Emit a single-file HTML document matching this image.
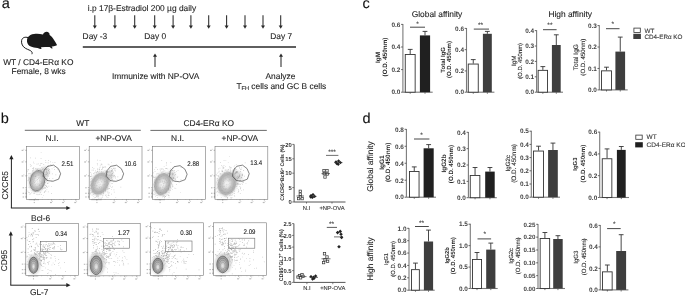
<!DOCTYPE html>
<html><head><meta charset="utf-8"><style>
html,body{margin:0;padding:0;background:#fff;}
body{width:685px;height:296px;overflow:hidden;}
svg{display:block;font-family:"Liberation Sans", sans-serif;filter:grayscale(1);text-rendering:geometricPrecision;}
</style></head><body>
<svg width="685" height="296" viewBox="0 0 685 296">
<rect x="0" y="0" width="685" height="296" fill="#fff"/>
<text x="1.80" y="8.20" font-size="14.5" text-anchor="start" font-weight="normal" fill="#111" stroke="#111" stroke-width="0.1" >a</text>
<path d="M27.5,37.8 C29,35.2 31.5,34.2 34,34 C37,33.6 40,33.8 43,34.6 C43.6,32.6 45,31.8 46.6,31.8 C48.4,31.9 49.8,33 49.6,35 C51.5,36.2 53,38 54.2,40.2 C55.3,42 56.4,43.6 57,45 C56.4,45.8 55,46.1 53.8,46.2 C52.8,46.3 52.1,46.4 51.6,46.6 L52.8,48.2 L51.6,48.4 L49.6,46.9 C48,47 46.5,47.1 45,47.1 L41,47.3 L41.6,48.8 L40.2,49 L37.6,48 C35,47.9 32.6,47.4 30.8,46.6 C28.6,45.6 27.2,43.8 27,41.5 C26.9,40.2 27.1,38.9 27.5,37.8 Z" fill="#1a1a1a"/>
<path d="M28.2,37.6 C25,36.6 22,37.6 21.6,40.6 C21.2,43.6 22.4,46.6 25.6,48.4 C28,49.7 30.6,50.3 31.6,51.6 C32.3,52.4 32.2,53.4 31.9,54.2" fill="none" stroke="#1a1a1a" stroke-width="1.0"/>
<text x="38.30" y="64.60" font-size="8.4" text-anchor="middle" font-weight="normal" fill="#222" stroke="#222" stroke-width="0.1" >WT / CD4-ERα KO</text>
<text x="38.60" y="73.70" font-size="8.4" text-anchor="middle" font-weight="normal" fill="#222" stroke="#222" stroke-width="0.1" >Female, 8 wks</text>
<text x="87.80" y="11.40" font-size="8.4" text-anchor="start" font-weight="normal" fill="#222" stroke="#222" stroke-width="0.1" >i.p 17β-Estradiol 200 µg daily</text>
<line x1="94.80" y1="15.30" x2="94.80" y2="26.30" stroke="#2a2a2a" stroke-width="1.05"/>
<path d="M92.80,25.60 L96.80,25.60 L94.80,28.80 Z" fill="#2a2a2a"/>
<line x1="114.90" y1="15.30" x2="114.90" y2="26.30" stroke="#2a2a2a" stroke-width="1.05"/>
<path d="M112.90,25.60 L116.90,25.60 L114.90,28.80 Z" fill="#2a2a2a"/>
<line x1="134.70" y1="15.30" x2="134.70" y2="26.30" stroke="#2a2a2a" stroke-width="1.05"/>
<path d="M132.70,25.60 L136.70,25.60 L134.70,28.80 Z" fill="#2a2a2a"/>
<line x1="154.70" y1="15.30" x2="154.70" y2="26.30" stroke="#2a2a2a" stroke-width="1.05"/>
<path d="M152.70,25.60 L156.70,25.60 L154.70,28.80 Z" fill="#2a2a2a"/>
<line x1="173.10" y1="15.30" x2="173.10" y2="26.30" stroke="#2a2a2a" stroke-width="1.05"/>
<path d="M171.10,25.60 L175.10,25.60 L173.10,28.80 Z" fill="#2a2a2a"/>
<line x1="190.90" y1="15.30" x2="190.90" y2="26.30" stroke="#2a2a2a" stroke-width="1.05"/>
<path d="M188.90,25.60 L192.90,25.60 L190.90,28.80 Z" fill="#2a2a2a"/>
<line x1="208.70" y1="15.30" x2="208.70" y2="26.30" stroke="#2a2a2a" stroke-width="1.05"/>
<path d="M206.70,25.60 L210.70,25.60 L208.70,28.80 Z" fill="#2a2a2a"/>
<line x1="226.60" y1="15.30" x2="226.60" y2="26.30" stroke="#2a2a2a" stroke-width="1.05"/>
<path d="M224.60,25.60 L228.60,25.60 L226.60,28.80 Z" fill="#2a2a2a"/>
<line x1="245.00" y1="15.30" x2="245.00" y2="26.30" stroke="#2a2a2a" stroke-width="1.05"/>
<path d="M243.00,25.60 L247.00,25.60 L245.00,28.80 Z" fill="#2a2a2a"/>
<line x1="263.00" y1="15.30" x2="263.00" y2="26.30" stroke="#2a2a2a" stroke-width="1.05"/>
<path d="M261.00,25.60 L265.00,25.60 L263.00,28.80 Z" fill="#2a2a2a"/>
<line x1="280.70" y1="15.30" x2="280.70" y2="26.30" stroke="#2a2a2a" stroke-width="1.05"/>
<path d="M278.70,25.60 L282.70,25.60 L280.70,28.80 Z" fill="#2a2a2a"/>
<text x="82.60" y="38.90" font-size="8.4" text-anchor="start" font-weight="normal" fill="#222" stroke="#222" stroke-width="0.1" >Day -3</text>
<text x="144.20" y="38.90" font-size="8.4" text-anchor="start" font-weight="normal" fill="#222" stroke="#222" stroke-width="0.1" >Day 0</text>
<text x="270.20" y="38.90" font-size="8.4" text-anchor="start" font-weight="normal" fill="#222" stroke="#222" stroke-width="0.1" >Day 7</text>
<line x1="82.80" y1="47.00" x2="296.00" y2="47.00" stroke="#2a2a2a" stroke-width="1.6"/>
<line x1="155.00" y1="56.10" x2="155.00" y2="67.00" stroke="#2a2a2a" stroke-width="1.05"/>
<path d="M153.00,56.80 L157.00,56.80 L155.00,53.60 Z" fill="#2a2a2a"/>
<line x1="281.00" y1="56.10" x2="281.00" y2="67.00" stroke="#2a2a2a" stroke-width="1.05"/>
<path d="M279.00,56.80 L283.00,56.80 L281.00,53.60 Z" fill="#2a2a2a"/>
<text x="155.60" y="78.90" font-size="8.4" text-anchor="middle" font-weight="normal" fill="#222" stroke="#222" stroke-width="0.1" >Immunize with NP-OVA</text>
<text x="280.40" y="78.80" font-size="8.4" text-anchor="middle" font-weight="normal" fill="#222" stroke="#222" stroke-width="0.1" >Analyze</text>
<text x="236.4" y="88.6" font-size="8.4" fill="#222" stroke="#222" stroke-width="0.1">T<tspan font-size="5.6" dy="1.6">FH</tspan><tspan dy="-1.6"> cells and GC B cells</tspan></text>
<text x="0.80" y="123.00" font-size="14.5" text-anchor="start" font-weight="normal" fill="#111" stroke="#111" stroke-width="0.1" >b</text>
<text x="82.80" y="125.80" font-size="8.4" text-anchor="middle" font-weight="normal" fill="#222" stroke="#222" stroke-width="0.1" >WT</text>
<line x1="24.80" y1="130.30" x2="140.80" y2="130.30" stroke="#444" stroke-width="0.8"/>
<text x="208.80" y="126.00" font-size="8.4" text-anchor="middle" font-weight="normal" fill="#222" stroke="#222" stroke-width="0.1" >CD4-ERα KO</text>
<line x1="150.40" y1="130.40" x2="266.80" y2="130.40" stroke="#444" stroke-width="0.8"/>
<text x="52.00" y="141.00" font-size="8.4" text-anchor="middle" font-weight="normal" fill="#222" stroke="#222" stroke-width="0.1" >N.I.</text>
<text x="113.60" y="141.00" font-size="8.4" text-anchor="middle" font-weight="normal" fill="#222" stroke="#222" stroke-width="0.1" >+NP-OVA</text>
<text x="177.60" y="141.00" font-size="8.4" text-anchor="middle" font-weight="normal" fill="#222" stroke="#222" stroke-width="0.1" >N.I.</text>
<text x="239.80" y="141.00" font-size="8.4" text-anchor="middle" font-weight="normal" fill="#222" stroke="#222" stroke-width="0.1" >+NP-OVA</text>
<defs><filter id="b04" x="-50%" y="-50%" width="200%" height="200%"><feGaussianBlur stdDeviation="0.4"/></filter><filter id="b10" x="-50%" y="-50%" width="200%" height="200%"><feGaussianBlur stdDeviation="1.0"/></filter><filter id="b15" x="-50%" y="-50%" width="200%" height="200%"><feGaussianBlur stdDeviation="1.5"/></filter></defs>
<rect x="26.60" y="146.60" width="52.70" height="52.70" fill="none" stroke="#777" stroke-width="0.6"/>
<rect x="21.60" y="149.79" width="1.80" height="1.20" fill="#bbb" stroke="none" stroke-width="1"/>
<rect x="23.40" y="148.79" width="0.90" height="0.90" fill="#ccc" stroke="none" stroke-width="1"/>
<line x1="25.30" y1="150.29" x2="26.60" y2="150.29" stroke="#666" stroke-width="0.5"/>
<rect x="21.60" y="161.38" width="1.80" height="1.20" fill="#bbb" stroke="none" stroke-width="1"/>
<rect x="23.40" y="160.38" width="0.90" height="0.90" fill="#ccc" stroke="none" stroke-width="1"/>
<line x1="25.30" y1="161.88" x2="26.60" y2="161.88" stroke="#666" stroke-width="0.5"/>
<rect x="21.60" y="175.35" width="1.80" height="1.20" fill="#bbb" stroke="none" stroke-width="1"/>
<rect x="23.40" y="174.35" width="0.90" height="0.90" fill="#ccc" stroke="none" stroke-width="1"/>
<line x1="25.30" y1="175.85" x2="26.60" y2="175.85" stroke="#666" stroke-width="0.5"/>
<rect x="22.60" y="187.21" width="1.50" height="1.10" fill="#bbb" stroke="none" stroke-width="1"/>
<line x1="25.30" y1="187.71" x2="26.60" y2="187.71" stroke="#666" stroke-width="0.5"/>
<rect x="22.60" y="192.74" width="1.50" height="1.10" fill="#bbb" stroke="none" stroke-width="1"/>
<line x1="25.30" y1="193.24" x2="26.60" y2="193.24" stroke="#666" stroke-width="0.5"/>
<rect x="22.60" y="196.43" width="1.50" height="1.10" fill="#bbb" stroke="none" stroke-width="1"/>
<line x1="25.30" y1="196.93" x2="26.60" y2="196.93" stroke="#666" stroke-width="0.5"/>
<rect x="33.74" y="201.90" width="1.10" height="1.20" fill="#bbb" stroke="none" stroke-width="1"/>
<line x1="34.24" y1="199.30" x2="34.24" y2="200.60" stroke="#666" stroke-width="0.5"/>
<rect x="50.03" y="201.90" width="1.90" height="1.20" fill="#bbb" stroke="none" stroke-width="1"/>
<rect x="51.93" y="201.10" width="0.90" height="0.80" fill="#ccc" stroke="none" stroke-width="1"/>
<line x1="51.63" y1="199.30" x2="51.63" y2="200.60" stroke="#666" stroke-width="0.5"/>
<rect x="62.15" y="201.90" width="1.90" height="1.20" fill="#bbb" stroke="none" stroke-width="1"/>
<rect x="64.05" y="201.10" width="0.90" height="0.80" fill="#ccc" stroke="none" stroke-width="1"/>
<line x1="63.75" y1="199.30" x2="63.75" y2="200.60" stroke="#666" stroke-width="0.5"/>
<rect x="74.27" y="201.90" width="1.90" height="1.20" fill="#bbb" stroke="none" stroke-width="1"/>
<rect x="76.17" y="201.10" width="0.90" height="0.80" fill="#ccc" stroke="none" stroke-width="1"/>
<line x1="75.87" y1="199.30" x2="75.87" y2="200.60" stroke="#666" stroke-width="0.5"/>
<line x1="29.23" y1="199.30" x2="29.23" y2="200.20" stroke="#555" stroke-width="0.45"/>
<line x1="30.39" y1="199.30" x2="30.39" y2="200.20" stroke="#555" stroke-width="0.45"/>
<line x1="31.55" y1="199.30" x2="31.55" y2="200.20" stroke="#555" stroke-width="0.45"/>
<line x1="32.71" y1="199.30" x2="32.71" y2="200.20" stroke="#555" stroke-width="0.45"/>
<line x1="33.87" y1="199.30" x2="33.87" y2="200.20" stroke="#555" stroke-width="0.45"/>
<line x1="35.03" y1="199.30" x2="35.03" y2="200.20" stroke="#555" stroke-width="0.45"/>
<line x1="36.19" y1="199.30" x2="36.19" y2="200.20" stroke="#555" stroke-width="0.45"/>
<line x1="37.35" y1="199.30" x2="37.35" y2="200.20" stroke="#555" stroke-width="0.45"/>
<line x1="38.51" y1="199.30" x2="38.51" y2="200.20" stroke="#555" stroke-width="0.45"/>
<line x1="42.41" y1="199.30" x2="42.41" y2="200.00" stroke="#888" stroke-width="0.35"/>
<line x1="48.21" y1="199.30" x2="48.21" y2="200.00" stroke="#888" stroke-width="0.35"/>
<line x1="54.00" y1="199.30" x2="54.00" y2="200.00" stroke="#888" stroke-width="0.35"/>
<line x1="59.80" y1="199.30" x2="59.80" y2="200.00" stroke="#888" stroke-width="0.35"/>
<line x1="65.60" y1="199.30" x2="65.60" y2="200.00" stroke="#888" stroke-width="0.35"/>
<line x1="71.39" y1="199.30" x2="71.39" y2="200.00" stroke="#888" stroke-width="0.35"/>
<line x1="25.70" y1="197.72" x2="26.60" y2="197.72" stroke="#666" stroke-width="0.4"/>
<line x1="25.70" y1="196.56" x2="26.60" y2="196.56" stroke="#666" stroke-width="0.4"/>
<line x1="25.70" y1="195.40" x2="26.60" y2="195.40" stroke="#666" stroke-width="0.4"/>
<line x1="25.70" y1="194.24" x2="26.60" y2="194.24" stroke="#666" stroke-width="0.4"/>
<line x1="25.70" y1="193.08" x2="26.60" y2="193.08" stroke="#666" stroke-width="0.4"/>
<line x1="25.70" y1="191.92" x2="26.60" y2="191.92" stroke="#666" stroke-width="0.4"/>
<line x1="25.70" y1="190.76" x2="26.60" y2="190.76" stroke="#666" stroke-width="0.4"/>
<line x1="25.70" y1="189.60" x2="26.60" y2="189.60" stroke="#666" stroke-width="0.4"/>
<g fill="#7a7a7a" fill-opacity="0.45"><path d="M34.6 184.3h0.7v0.7h-0.7zM36.2 177.6h0.7v0.7h-0.7zM31.9 177.5h0.7v0.7h-0.7zM43.0 185.3h0.7v0.7h-0.7zM42.8 183.8h0.7v0.7h-0.7z"/><path d="M39.1 182.5h0.7v0.7h-0.7zM39.2 185.2h0.7v0.7h-0.7zM29.9 164.1h0.7v0.7h-0.7zM32.5 175.5h0.7v0.7h-0.7zM39.0 180.5h0.7v0.7h-0.7z"/><path d="M41.3 175.9h0.7v0.7h-0.7zM38.2 184.1h0.7v0.7h-0.7zM30.1 193.6h0.7v0.7h-0.7zM38.3 190.9h0.7v0.7h-0.7zM34.6 173.6h0.7v0.7h-0.7z"/><path d="M35.2 179.1h0.7v0.7h-0.7zM40.4 183.3h0.7v0.7h-0.7zM36.0 172.1h0.7v0.7h-0.7zM31.8 189.7h0.7v0.7h-0.7zM31.8 181.4h0.7v0.7h-0.7z"/><path d="M42.2 168.9h0.7v0.7h-0.7zM35.1 191.1h0.7v0.7h-0.7zM37.8 173.7h0.7v0.7h-0.7zM40.1 180.6h0.7v0.7h-0.7zM39.4 189.0h0.7v0.7h-0.7z"/><path d="M45.0 185.2h0.7v0.7h-0.7zM40.0 170.0h0.7v0.7h-0.7zM41.8 176.3h0.7v0.7h-0.7zM36.5 169.6h0.7v0.7h-0.7zM32.2 174.9h0.7v0.7h-0.7z"/><path d="M48.3 165.6h0.7v0.7h-0.7zM27.9 180.5h0.7v0.7h-0.7zM44.7 187.0h0.7v0.7h-0.7zM30.0 157.5h0.7v0.7h-0.7zM40.5 174.9h0.7v0.7h-0.7z"/><path d="M28.7 187.0h0.7v0.7h-0.7zM43.4 183.1h0.7v0.7h-0.7zM37.8 184.3h0.7v0.7h-0.7zM45.5 187.5h0.7v0.7h-0.7zM39.2 185.6h0.7v0.7h-0.7z"/><path d="M41.9 186.0h0.7v0.7h-0.7zM45.2 166.8h0.7v0.7h-0.7zM34.2 188.5h0.7v0.7h-0.7zM40.6 179.9h0.7v0.7h-0.7zM37.9 186.2h0.7v0.7h-0.7z"/><path d="M35.8 189.9h0.7v0.7h-0.7zM33.8 176.2h0.7v0.7h-0.7zM43.2 182.0h0.7v0.7h-0.7zM30.1 187.0h0.7v0.7h-0.7zM46.6 178.7h0.7v0.7h-0.7z"/><path d="M29.0 177.6h0.7v0.7h-0.7zM36.7 177.8h0.7v0.7h-0.7zM47.2 173.9h0.7v0.7h-0.7zM46.8 171.7h0.7v0.7h-0.7zM31.2 184.6h0.7v0.7h-0.7z"/><path d="M42.3 188.9h0.7v0.7h-0.7zM38.9 182.0h0.7v0.7h-0.7zM37.0 185.3h0.7v0.7h-0.7zM35.5 182.5h0.7v0.7h-0.7zM40.5 181.2h0.7v0.7h-0.7z"/><path d="M40.6 186.0h0.7v0.7h-0.7zM48.5 185.7h0.7v0.7h-0.7zM35.1 176.9h0.7v0.7h-0.7zM35.4 188.0h0.7v0.7h-0.7zM34.4 183.2h0.7v0.7h-0.7z"/><path d="M52.5 161.9h0.7v0.7h-0.7zM29.9 181.0h0.7v0.7h-0.7zM39.0 182.9h0.7v0.7h-0.7zM33.3 185.2h0.7v0.7h-0.7zM39.6 176.6h0.7v0.7h-0.7z"/><path d="M51.0 186.4h0.7v0.7h-0.7zM33.9 178.9h0.7v0.7h-0.7zM35.8 179.7h0.7v0.7h-0.7zM45.1 172.2h0.7v0.7h-0.7zM35.0 188.1h0.7v0.7h-0.7z"/><path d="M39.6 193.7h0.7v0.7h-0.7zM27.5 175.4h0.7v0.7h-0.7zM33.9 185.1h0.7v0.7h-0.7zM48.2 160.0h0.7v0.7h-0.7zM46.1 170.1h0.7v0.7h-0.7z"/><path d="M43.7 169.2h0.7v0.7h-0.7zM36.0 190.4h0.7v0.7h-0.7zM35.8 181.8h0.7v0.7h-0.7zM41.6 182.6h0.7v0.7h-0.7zM33.9 192.8h0.7v0.7h-0.7z"/><path d="M43.8 179.4h0.7v0.7h-0.7zM55.5 174.6h0.7v0.7h-0.7zM43.0 179.5h0.7v0.7h-0.7zM36.6 186.4h0.7v0.7h-0.7zM37.3 185.9h0.7v0.7h-0.7z"/><path d="M30.5 166.2h0.7v0.7h-0.7zM42.4 173.4h0.7v0.7h-0.7zM33.4 167.2h0.7v0.7h-0.7zM43.3 188.1h0.7v0.7h-0.7zM47.5 174.7h0.7v0.7h-0.7z"/><path d="M39.0 171.2h0.7v0.7h-0.7zM38.9 194.4h0.7v0.7h-0.7zM29.0 192.0h0.7v0.7h-0.7zM43.3 180.3h0.7v0.7h-0.7zM37.5 175.4h0.7v0.7h-0.7z"/><path d="M38.7 184.3h0.7v0.7h-0.7zM47.8 174.1h0.7v0.7h-0.7zM41.3 194.0h0.7v0.7h-0.7zM46.1 180.8h0.7v0.7h-0.7zM30.8 187.8h0.7v0.7h-0.7z"/><path d="M37.5 181.6h0.7v0.7h-0.7zM46.0 180.1h0.7v0.7h-0.7zM40.0 175.9h0.7v0.7h-0.7zM35.6 187.2h0.7v0.7h-0.7zM35.2 191.3h0.7v0.7h-0.7z"/><path d="M34.9 188.8h0.7v0.7h-0.7zM43.2 195.4h0.7v0.7h-0.7zM31.5 186.8h0.7v0.7h-0.7zM27.7 169.2h0.7v0.7h-0.7zM29.7 178.8h0.7v0.7h-0.7z"/><path d="M35.9 180.0h0.7v0.7h-0.7zM33.1 181.6h0.7v0.7h-0.7zM47.7 183.1h0.7v0.7h-0.7zM38.5 189.3h0.7v0.7h-0.7zM38.0 169.9h0.7v0.7h-0.7z"/><path d="M31.9 188.5h0.7v0.7h-0.7zM28.2 173.5h0.7v0.7h-0.7zM41.7 188.2h0.7v0.7h-0.7zM35.7 187.0h0.7v0.7h-0.7zM40.1 171.1h0.7v0.7h-0.7z"/><path d="M28.8 173.3h0.7v0.7h-0.7zM43.6 177.0h0.7v0.7h-0.7zM33.0 173.0h0.7v0.7h-0.7zM28.1 177.5h0.7v0.7h-0.7zM29.4 181.9h0.7v0.7h-0.7z"/><path d="M36.6 163.8h0.7v0.7h-0.7zM41.9 179.1h0.7v0.7h-0.7zM39.6 177.1h0.7v0.7h-0.7zM40.4 187.5h0.7v0.7h-0.7zM40.5 184.0h0.7v0.7h-0.7z"/><path d="M43.9 187.5h0.7v0.7h-0.7zM43.4 164.1h0.7v0.7h-0.7zM40.2 192.2h0.7v0.7h-0.7zM36.1 176.3h0.7v0.7h-0.7zM51.7 168.6h0.7v0.7h-0.7z"/><path d="M30.3 184.9h0.7v0.7h-0.7zM48.6 181.9h0.7v0.7h-0.7zM38.8 188.5h0.7v0.7h-0.7zM31.8 178.6h0.7v0.7h-0.7zM37.4 187.5h0.7v0.7h-0.7z"/><path d="M37.2 178.8h0.7v0.7h-0.7zM31.6 176.2h0.7v0.7h-0.7zM42.2 182.4h0.7v0.7h-0.7zM33.4 172.5h0.7v0.7h-0.7zM51.0 193.1h0.7v0.7h-0.7z"/><path d="M45.4 160.2h0.7v0.7h-0.7zM39.9 185.2h0.7v0.7h-0.7zM46.4 186.1h0.7v0.7h-0.7zM35.7 184.6h0.7v0.7h-0.7zM40.2 175.1h0.7v0.7h-0.7z"/><path d="M41.9 196.9h0.7v0.7h-0.7zM29.8 173.2h0.7v0.7h-0.7zM38.5 182.3h0.7v0.7h-0.7zM36.3 172.0h0.7v0.7h-0.7zM47.9 191.6h0.7v0.7h-0.7z"/><path d="M32.2 168.0h0.7v0.7h-0.7zM45.5 190.7h0.7v0.7h-0.7zM46.5 189.4h0.7v0.7h-0.7zM31.4 181.5h0.7v0.7h-0.7zM35.8 184.6h0.7v0.7h-0.7z"/><path d="M32.9 178.5h0.7v0.7h-0.7zM39.1 184.1h0.7v0.7h-0.7zM40.5 183.0h0.7v0.7h-0.7zM33.7 186.5h0.7v0.7h-0.7zM38.8 173.8h0.7v0.7h-0.7z"/><path d="M33.3 179.7h0.7v0.7h-0.7zM36.1 181.6h0.7v0.7h-0.7zM36.7 181.9h0.7v0.7h-0.7zM38.4 170.0h0.7v0.7h-0.7zM37.7 189.6h0.7v0.7h-0.7z"/><path d="M40.0 179.5h0.7v0.7h-0.7zM41.4 173.2h0.7v0.7h-0.7zM30.2 185.3h0.7v0.7h-0.7zM35.1 157.7h0.7v0.7h-0.7zM28.1 192.0h0.7v0.7h-0.7z"/><path d="M37.1 168.8h0.7v0.7h-0.7zM31.6 183.7h0.7v0.7h-0.7zM39.7 182.5h0.7v0.7h-0.7zM44.7 188.1h0.7v0.7h-0.7zM35.9 185.3h0.7v0.7h-0.7z"/><path d="M45.3 190.5h0.7v0.7h-0.7zM45.1 172.9h0.7v0.7h-0.7zM34.9 186.2h0.7v0.7h-0.7zM33.4 188.8h0.7v0.7h-0.7zM39.0 188.6h0.7v0.7h-0.7z"/><path d="M44.8 180.3h0.7v0.7h-0.7zM33.5 187.1h0.7v0.7h-0.7zM42.9 181.8h0.7v0.7h-0.7zM29.7 180.5h0.7v0.7h-0.7zM37.2 190.1h0.7v0.7h-0.7z"/><path d="M41.7 181.6h0.7v0.7h-0.7zM41.2 185.9h0.7v0.7h-0.7zM38.2 181.2h0.7v0.7h-0.7zM34.4 185.7h0.7v0.7h-0.7zM31.8 174.0h0.7v0.7h-0.7z"/><path d="M39.6 168.5h0.7v0.7h-0.7zM37.9 163.5h0.7v0.7h-0.7zM32.0 184.2h0.7v0.7h-0.7zM40.5 180.7h0.7v0.7h-0.7zM38.1 168.6h0.7v0.7h-0.7z"/><path d="M47.1 187.0h0.7v0.7h-0.7zM45.1 174.7h0.7v0.7h-0.7zM39.1 165.4h0.7v0.7h-0.7zM40.1 189.1h0.7v0.7h-0.7zM43.9 166.9h0.7v0.7h-0.7z"/><path d="M28.0 169.5h0.7v0.7h-0.7zM35.7 168.2h0.7v0.7h-0.7zM36.8 182.5h0.7v0.7h-0.7zM39.6 187.0h0.7v0.7h-0.7zM44.0 191.8h0.7v0.7h-0.7z"/><path d="M30.1 174.7h0.7v0.7h-0.7zM32.6 170.3h0.7v0.7h-0.7zM36.6 180.4h0.7v0.7h-0.7zM42.7 168.2h0.7v0.7h-0.7zM29.7 178.7h0.7v0.7h-0.7z"/><path d="M36.4 177.7h0.7v0.7h-0.7zM38.0 174.2h0.7v0.7h-0.7zM40.6 184.2h0.7v0.7h-0.7zM37.7 174.9h0.7v0.7h-0.7zM40.7 158.1h0.7v0.7h-0.7z"/><path d="M31.1 179.5h0.7v0.7h-0.7zM27.7 180.2h0.7v0.7h-0.7zM40.3 169.4h0.7v0.7h-0.7zM36.1 177.6h0.7v0.7h-0.7zM38.7 186.0h0.7v0.7h-0.7z"/><path d="M38.3 173.5h0.7v0.7h-0.7zM36.3 179.7h0.7v0.7h-0.7zM40.9 183.8h0.7v0.7h-0.7zM35.1 168.5h0.7v0.7h-0.7zM36.1 173.9h0.7v0.7h-0.7z"/><path d="M30.6 178.1h0.7v0.7h-0.7zM33.9 180.7h0.7v0.7h-0.7zM40.9 177.8h0.7v0.7h-0.7zM51.5 180.8h0.7v0.7h-0.7zM43.4 182.8h0.7v0.7h-0.7z"/><path d="M47.8 162.5h0.7v0.7h-0.7zM32.1 181.5h0.7v0.7h-0.7zM36.8 191.3h0.7v0.7h-0.7zM40.0 189.1h0.7v0.7h-0.7zM40.4 179.8h0.7v0.7h-0.7z"/><path d="M42.0 172.3h0.7v0.7h-0.7zM45.9 173.7h0.7v0.7h-0.7zM34.9 198.0h0.7v0.7h-0.7zM35.7 180.3h0.7v0.7h-0.7zM44.0 182.1h0.7v0.7h-0.7z"/><path d="M31.8 181.5h0.7v0.7h-0.7zM39.3 187.0h0.7v0.7h-0.7zM29.4 193.7h0.7v0.7h-0.7zM47.0 182.7h0.7v0.7h-0.7zM39.4 177.3h0.7v0.7h-0.7z"/><path d="M46.7 176.5h0.7v0.7h-0.7zM41.9 177.4h0.7v0.7h-0.7zM31.7 185.4h0.7v0.7h-0.7zM45.1 182.1h0.7v0.7h-0.7zM31.6 186.2h0.7v0.7h-0.7z"/><path d="M36.2 182.9h0.7v0.7h-0.7zM44.2 191.6h0.7v0.7h-0.7zM35.7 186.9h0.7v0.7h-0.7zM33.3 179.3h0.7v0.7h-0.7zM47.3 172.3h0.7v0.7h-0.7z"/><path d="M30.8 165.3h0.7v0.7h-0.7zM44.9 178.2h0.7v0.7h-0.7zM37.2 177.8h0.7v0.7h-0.7zM38.2 171.4h0.7v0.7h-0.7zM39.7 168.8h0.7v0.7h-0.7z"/><path d="M36.1 182.9h0.7v0.7h-0.7zM40.3 179.2h0.7v0.7h-0.7zM31.4 180.6h0.7v0.7h-0.7zM31.4 192.6h0.7v0.7h-0.7zM41.8 180.5h0.7v0.7h-0.7z"/><path d="M35.4 174.1h0.7v0.7h-0.7zM32.1 176.4h0.7v0.7h-0.7zM37.9 185.0h0.7v0.7h-0.7zM32.8 179.7h0.7v0.7h-0.7zM57.0 168.8h0.7v0.7h-0.7z"/><path d="M33.6 181.2h0.7v0.7h-0.7zM37.3 184.0h0.7v0.7h-0.7zM35.0 183.1h0.7v0.7h-0.7zM36.0 186.8h0.7v0.7h-0.7zM27.3 170.8h0.7v0.7h-0.7z"/><path d="M38.8 172.0h0.7v0.7h-0.7zM29.7 184.2h0.7v0.7h-0.7zM32.1 184.8h0.7v0.7h-0.7zM41.0 183.9h0.7v0.7h-0.7zM40.3 180.2h0.7v0.7h-0.7z"/><path d="M28.7 178.4h0.7v0.7h-0.7zM40.7 176.7h0.7v0.7h-0.7zM35.2 186.4h0.7v0.7h-0.7zM30.7 184.5h0.7v0.7h-0.7zM49.2 178.3h0.7v0.7h-0.7z"/><path d="M38.2 179.4h0.7v0.7h-0.7zM45.7 185.0h0.7v0.7h-0.7zM43.6 176.0h0.7v0.7h-0.7zM37.0 180.3h0.7v0.7h-0.7zM45.5 167.4h0.7v0.7h-0.7z"/><path d="M41.7 180.3h0.7v0.7h-0.7zM39.1 184.0h0.7v0.7h-0.7zM28.4 176.8h0.7v0.7h-0.7zM47.0 177.7h0.7v0.7h-0.7zM33.3 168.1h0.7v0.7h-0.7z"/><path d="M29.2 181.6h0.7v0.7h-0.7zM46.4 186.1h0.7v0.7h-0.7zM35.1 174.3h0.7v0.7h-0.7zM39.3 185.6h0.7v0.7h-0.7zM33.0 169.6h0.7v0.7h-0.7z"/><path d="M38.4 182.8h0.7v0.7h-0.7zM29.6 177.1h0.7v0.7h-0.7zM33.0 183.5h0.7v0.7h-0.7zM36.5 179.6h0.7v0.7h-0.7zM33.1 188.6h0.7v0.7h-0.7z"/><path d="M46.0 179.2h0.7v0.7h-0.7zM43.4 175.4h0.7v0.7h-0.7zM36.2 186.6h0.7v0.7h-0.7zM46.8 179.3h0.7v0.7h-0.7zM36.3 182.0h0.7v0.7h-0.7z"/><path d="M28.1 178.7h0.7v0.7h-0.7zM32.4 182.6h0.7v0.7h-0.7zM33.7 162.9h0.7v0.7h-0.7zM36.8 182.6h0.7v0.7h-0.7zM32.2 187.0h0.7v0.7h-0.7z"/><path d="M36.5 175.2h0.7v0.7h-0.7zM42.6 168.3h0.7v0.7h-0.7zM33.0 179.4h0.7v0.7h-0.7zM42.4 180.2h0.7v0.7h-0.7zM40.0 175.5h0.7v0.7h-0.7z"/><path d="M36.0 194.4h0.7v0.7h-0.7zM33.2 179.8h0.7v0.7h-0.7zM36.3 189.0h0.7v0.7h-0.7zM33.3 161.8h0.7v0.7h-0.7zM39.3 187.7h0.7v0.7h-0.7z"/><path d="M37.8 182.8h0.7v0.7h-0.7zM42.0 184.6h0.7v0.7h-0.7zM49.2 172.5h0.7v0.7h-0.7zM40.8 151.9h0.7v0.7h-0.7zM42.6 178.5h0.7v0.7h-0.7z"/><path d="M37.5 178.4h0.7v0.7h-0.7zM35.5 173.0h0.7v0.7h-0.7zM32.2 184.9h0.7v0.7h-0.7zM37.2 181.0h0.7v0.7h-0.7zM34.4 187.7h0.7v0.7h-0.7z"/><path d="M40.3 179.9h0.7v0.7h-0.7zM41.3 180.1h0.7v0.7h-0.7zM27.6 190.8h0.7v0.7h-0.7zM41.5 173.3h0.7v0.7h-0.7zM42.9 184.6h0.7v0.7h-0.7z"/><path d="M37.5 188.1h0.7v0.7h-0.7zM38.5 179.5h0.7v0.7h-0.7zM37.7 178.2h0.7v0.7h-0.7zM39.0 181.5h0.7v0.7h-0.7zM41.7 178.3h0.7v0.7h-0.7z"/><path d="M40.5 163.0h0.7v0.7h-0.7zM33.3 185.4h0.7v0.7h-0.7zM45.7 179.2h0.7v0.7h-0.7zM33.6 193.2h0.7v0.7h-0.7zM33.8 186.0h0.7v0.7h-0.7z"/><path d="M47.0 182.9h0.7v0.7h-0.7zM45.6 176.2h0.7v0.7h-0.7zM38.4 180.1h0.7v0.7h-0.7zM35.8 189.8h0.7v0.7h-0.7zM52.5 178.1h0.7v0.7h-0.7z"/><path d="M32.7 183.8h0.7v0.7h-0.7zM29.9 183.2h0.7v0.7h-0.7zM41.0 178.9h0.7v0.7h-0.7zM42.9 168.5h0.7v0.7h-0.7zM44.3 168.8h0.7v0.7h-0.7z"/><path d="M33.8 175.0h0.7v0.7h-0.7zM33.2 186.9h0.7v0.7h-0.7zM38.2 177.3h0.7v0.7h-0.7zM37.6 194.0h0.7v0.7h-0.7zM36.5 183.4h0.7v0.7h-0.7z"/><path d="M44.0 184.2h0.7v0.7h-0.7zM53.7 167.1h0.7v0.7h-0.7zM36.1 183.8h0.7v0.7h-0.7zM41.7 187.1h0.7v0.7h-0.7zM37.2 171.5h0.7v0.7h-0.7z"/><path d="M35.9 189.0h0.7v0.7h-0.7zM32.3 170.7h0.7v0.7h-0.7zM40.3 164.7h0.7v0.7h-0.7zM36.2 176.6h0.7v0.7h-0.7zM41.0 175.3h0.7v0.7h-0.7z"/><path d="M32.5 176.1h0.7v0.7h-0.7zM37.9 175.0h0.7v0.7h-0.7zM35.8 186.6h0.7v0.7h-0.7z"/></g>
<ellipse cx="45" cy="172" rx="4.55" ry="5.40" fill="#d4d4d4" opacity="0.8" filter="url(#b10)"/>
<g fill="#7a7a7a" fill-opacity="0.5"><path d="M47.1 180.0h0.7v0.7h-0.7zM42.4 169.2h0.7v0.7h-0.7zM34.4 178.2h0.7v0.7h-0.7zM42.2 171.0h0.7v0.7h-0.7zM47.7 166.1h0.7v0.7h-0.7z"/><path d="M46.3 171.9h0.7v0.7h-0.7zM38.1 171.6h0.7v0.7h-0.7zM50.5 164.3h0.7v0.7h-0.7zM47.2 173.2h0.7v0.7h-0.7zM45.9 173.9h0.7v0.7h-0.7z"/><path d="M49.3 171.6h0.7v0.7h-0.7zM48.0 170.5h0.7v0.7h-0.7zM47.9 168.6h0.7v0.7h-0.7zM42.7 179.2h0.7v0.7h-0.7zM46.3 171.3h0.7v0.7h-0.7z"/><path d="M41.5 167.3h0.7v0.7h-0.7zM44.4 175.9h0.7v0.7h-0.7zM45.6 174.3h0.7v0.7h-0.7zM43.2 177.6h0.7v0.7h-0.7zM43.8 168.9h0.7v0.7h-0.7z"/><path d="M47.6 172.6h0.7v0.7h-0.7zM44.2 168.9h0.7v0.7h-0.7zM43.2 174.2h0.7v0.7h-0.7zM47.0 166.6h0.7v0.7h-0.7zM45.9 172.7h0.7v0.7h-0.7z"/><path d="M40.5 174.3h0.7v0.7h-0.7zM44.0 170.0h0.7v0.7h-0.7zM46.1 178.0h0.7v0.7h-0.7zM41.9 173.1h0.7v0.7h-0.7zM39.5 181.2h0.7v0.7h-0.7z"/><path d="M41.8 176.6h0.7v0.7h-0.7zM41.7 174.8h0.7v0.7h-0.7zM54.6 162.1h0.7v0.7h-0.7zM42.7 173.5h0.7v0.7h-0.7zM45.0 168.6h0.7v0.7h-0.7z"/><path d="M51.9 173.6h0.7v0.7h-0.7zM38.2 174.2h0.7v0.7h-0.7zM37.7 175.5h0.7v0.7h-0.7zM42.5 171.9h0.7v0.7h-0.7zM48.9 173.1h0.7v0.7h-0.7z"/><path d="M41.5 163.2h0.7v0.7h-0.7zM48.0 175.8h0.7v0.7h-0.7zM41.1 174.8h0.7v0.7h-0.7zM45.7 174.9h0.7v0.7h-0.7zM37.2 168.7h0.7v0.7h-0.7z"/><path d="M47.0 175.5h0.7v0.7h-0.7zM50.0 161.5h0.7v0.7h-0.7zM44.8 173.9h0.7v0.7h-0.7zM54.3 169.3h0.7v0.7h-0.7zM43.5 171.6h0.7v0.7h-0.7z"/><path d="M48.1 170.3h0.7v0.7h-0.7zM49.3 169.0h0.7v0.7h-0.7zM46.1 169.5h0.7v0.7h-0.7zM45.8 168.7h0.7v0.7h-0.7zM38.2 175.3h0.7v0.7h-0.7z"/><path d="M46.2 169.4h0.7v0.7h-0.7zM44.4 176.2h0.7v0.7h-0.7zM41.4 170.5h0.7v0.7h-0.7zM46.0 174.4h0.7v0.7h-0.7zM45.5 162.1h0.7v0.7h-0.7z"/></g>
<defs><radialGradient id="rg102"><stop offset="0" stop-color="#f2f2f2"/><stop offset="0.22" stop-color="#f2f2f2"/><stop offset="0.6" stop-color="#d0d0d0"/><stop offset="0.9" stop-color="#b4b4b4"/><stop offset="1" stop-color="#bebebe"/></radialGradient></defs>
<ellipse cx="37.4" cy="180.8" rx="8.28" ry="11.65" transform="rotate(12 37.4 180.8)" fill="#cccccc" opacity="0.85" filter="url(#b10)"/>
<ellipse cx="37.4" cy="180.8" rx="7.2" ry="10.4" transform="rotate(12 37.4 180.8)" fill="url(#rg102)" stroke="#555" stroke-width="0.7" filter="url(#b04)"/>
<ellipse cx="37.4" cy="180.8" rx="5.76" ry="8.32" transform="rotate(12 37.4 180.8)" fill="none" stroke="#9a9a9a" stroke-width="0.45" opacity="0.8" filter="url(#b04)"/>
<ellipse cx="37.4" cy="180.8" rx="4.18" ry="6.03" transform="rotate(12 37.4 180.8)" fill="none" stroke="#aaa" stroke-width="0.4" opacity="0.7" filter="url(#b04)"/>
<g fill="#8a8a8a" fill-opacity="0.3"><path d="M41.1 183.1h0.6v0.6h-0.6zM37.4 179.1h0.6v0.6h-0.6zM38.5 178.5h0.6v0.6h-0.6zM34.3 176.0h0.6v0.6h-0.6zM35.7 176.9h0.6v0.6h-0.6z"/><path d="M32.3 182.9h0.6v0.6h-0.6zM31.8 182.9h0.6v0.6h-0.6zM33.1 181.5h0.6v0.6h-0.6zM41.7 182.6h0.6v0.6h-0.6zM34.5 180.2h0.6v0.6h-0.6z"/><path d="M39.5 171.8h0.6v0.6h-0.6zM34.8 180.9h0.6v0.6h-0.6zM35.4 180.6h0.6v0.6h-0.6zM38.9 184.9h0.6v0.6h-0.6zM39.7 184.2h0.6v0.6h-0.6z"/><path d="M36.1 180.2h0.6v0.6h-0.6zM36.5 178.7h0.6v0.6h-0.6zM38.3 171.6h0.6v0.6h-0.6zM36.0 180.1h0.6v0.6h-0.6zM33.7 179.6h0.6v0.6h-0.6z"/><path d="M39.1 180.0h0.6v0.6h-0.6zM47.2 168.8h0.6v0.6h-0.6zM38.3 171.1h0.6v0.6h-0.6zM37.7 194.7h0.6v0.6h-0.6zM28.2 179.3h0.6v0.6h-0.6z"/><path d="M39.3 179.4h0.6v0.6h-0.6zM41.5 169.5h0.6v0.6h-0.6zM39.7 183.0h0.6v0.6h-0.6zM37.8 177.5h0.6v0.6h-0.6zM39.9 178.5h0.6v0.6h-0.6z"/><path d="M38.4 178.1h0.6v0.6h-0.6zM29.2 178.7h0.6v0.6h-0.6zM37.0 184.5h0.6v0.6h-0.6zM34.1 179.7h0.6v0.6h-0.6zM39.1 181.7h0.6v0.6h-0.6z"/><path d="M39.3 191.6h0.6v0.6h-0.6zM36.0 170.0h0.6v0.6h-0.6zM38.5 188.9h0.6v0.6h-0.6zM39.5 185.3h0.6v0.6h-0.6zM35.7 176.4h0.6v0.6h-0.6z"/><path d="M41.2 176.5h0.6v0.6h-0.6zM31.8 174.1h0.6v0.6h-0.6zM43.8 192.1h0.6v0.6h-0.6zM35.5 176.3h0.6v0.6h-0.6zM38.7 176.9h0.6v0.6h-0.6z"/><path d="M41.8 181.1h0.6v0.6h-0.6zM31.9 186.3h0.6v0.6h-0.6zM34.8 181.2h0.6v0.6h-0.6zM37.4 178.9h0.6v0.6h-0.6zM39.0 177.2h0.6v0.6h-0.6z"/><path d="M33.0 167.9h0.6v0.6h-0.6zM33.5 175.7h0.6v0.6h-0.6zM37.0 180.8h0.6v0.6h-0.6zM38.9 181.5h0.6v0.6h-0.6zM35.1 176.3h0.6v0.6h-0.6z"/><path d="M29.8 178.1h0.6v0.6h-0.6zM38.2 183.6h0.6v0.6h-0.6zM36.9 179.5h0.6v0.6h-0.6zM40.4 181.3h0.6v0.6h-0.6zM39.1 184.0h0.6v0.6h-0.6z"/><path d="M36.4 187.3h0.6v0.6h-0.6zM35.5 178.2h0.6v0.6h-0.6zM35.1 175.8h0.6v0.6h-0.6zM40.7 190.6h0.6v0.6h-0.6zM36.6 183.4h0.6v0.6h-0.6z"/><path d="M40.4 185.5h0.6v0.6h-0.6zM42.7 175.0h0.6v0.6h-0.6zM34.4 182.3h0.6v0.6h-0.6zM42.0 182.1h0.6v0.6h-0.6zM34.5 178.1h0.6v0.6h-0.6z"/><path d="M35.7 175.6h0.6v0.6h-0.6zM43.1 178.4h0.6v0.6h-0.6zM34.8 191.5h0.6v0.6h-0.6zM40.9 183.1h0.6v0.6h-0.6zM34.5 182.1h0.6v0.6h-0.6z"/><path d="M42.1 184.9h0.6v0.6h-0.6zM41.4 181.9h0.6v0.6h-0.6zM39.1 179.9h0.6v0.6h-0.6zM37.2 187.4h0.6v0.6h-0.6zM32.1 179.1h0.6v0.6h-0.6z"/><path d="M38.6 177.8h0.6v0.6h-0.6zM35.2 184.3h0.6v0.6h-0.6zM43.5 185.2h0.6v0.6h-0.6zM39.9 172.9h0.6v0.6h-0.6zM43.8 182.3h0.6v0.6h-0.6z"/><path d="M38.2 174.8h0.6v0.6h-0.6zM38.1 174.9h0.6v0.6h-0.6zM36.8 182.9h0.6v0.6h-0.6zM36.9 181.9h0.6v0.6h-0.6zM32.6 187.1h0.6v0.6h-0.6z"/></g>
<polygon points="53.62,165.13 58.37,168.62 60.63,173.71 58.67,179.15 53.05,181.24 47.19,180.52 43.11,176.22 43.98,170.64 47.58,166.27" fill="none" stroke="#333" stroke-width="0.6"/>
<text x="67.40" y="166.00" font-size="6.7" text-anchor="middle" font-weight="normal" fill="#222" stroke="#222" stroke-width="0.1" textLength="11.9" lengthAdjust="spacingAndGlyphs">2.51</text>
<rect x="89.20" y="146.60" width="52.80" height="52.70" fill="none" stroke="#777" stroke-width="0.6"/>
<rect x="84.20" y="149.79" width="1.80" height="1.20" fill="#bbb" stroke="none" stroke-width="1"/>
<rect x="86.00" y="148.79" width="0.90" height="0.90" fill="#ccc" stroke="none" stroke-width="1"/>
<line x1="87.90" y1="150.29" x2="89.20" y2="150.29" stroke="#666" stroke-width="0.5"/>
<rect x="84.20" y="161.38" width="1.80" height="1.20" fill="#bbb" stroke="none" stroke-width="1"/>
<rect x="86.00" y="160.38" width="0.90" height="0.90" fill="#ccc" stroke="none" stroke-width="1"/>
<line x1="87.90" y1="161.88" x2="89.20" y2="161.88" stroke="#666" stroke-width="0.5"/>
<rect x="84.20" y="175.35" width="1.80" height="1.20" fill="#bbb" stroke="none" stroke-width="1"/>
<rect x="86.00" y="174.35" width="0.90" height="0.90" fill="#ccc" stroke="none" stroke-width="1"/>
<line x1="87.90" y1="175.85" x2="89.20" y2="175.85" stroke="#666" stroke-width="0.5"/>
<rect x="85.20" y="187.21" width="1.50" height="1.10" fill="#bbb" stroke="none" stroke-width="1"/>
<line x1="87.90" y1="187.71" x2="89.20" y2="187.71" stroke="#666" stroke-width="0.5"/>
<rect x="85.20" y="192.74" width="1.50" height="1.10" fill="#bbb" stroke="none" stroke-width="1"/>
<line x1="87.90" y1="193.24" x2="89.20" y2="193.24" stroke="#666" stroke-width="0.5"/>
<rect x="85.20" y="196.43" width="1.50" height="1.10" fill="#bbb" stroke="none" stroke-width="1"/>
<line x1="87.90" y1="196.93" x2="89.20" y2="196.93" stroke="#666" stroke-width="0.5"/>
<rect x="96.36" y="201.90" width="1.10" height="1.20" fill="#bbb" stroke="none" stroke-width="1"/>
<line x1="96.86" y1="199.30" x2="96.86" y2="200.60" stroke="#666" stroke-width="0.5"/>
<rect x="112.68" y="201.90" width="1.90" height="1.20" fill="#bbb" stroke="none" stroke-width="1"/>
<rect x="114.58" y="201.10" width="0.90" height="0.80" fill="#ccc" stroke="none" stroke-width="1"/>
<line x1="114.28" y1="199.30" x2="114.28" y2="200.60" stroke="#666" stroke-width="0.5"/>
<rect x="124.82" y="201.90" width="1.90" height="1.20" fill="#bbb" stroke="none" stroke-width="1"/>
<rect x="126.72" y="201.10" width="0.90" height="0.80" fill="#ccc" stroke="none" stroke-width="1"/>
<line x1="126.42" y1="199.30" x2="126.42" y2="200.60" stroke="#666" stroke-width="0.5"/>
<rect x="136.97" y="201.90" width="1.90" height="1.20" fill="#bbb" stroke="none" stroke-width="1"/>
<rect x="138.87" y="201.10" width="0.90" height="0.80" fill="#ccc" stroke="none" stroke-width="1"/>
<line x1="138.57" y1="199.30" x2="138.57" y2="200.60" stroke="#666" stroke-width="0.5"/>
<line x1="91.84" y1="199.30" x2="91.84" y2="200.20" stroke="#555" stroke-width="0.45"/>
<line x1="93.00" y1="199.30" x2="93.00" y2="200.20" stroke="#555" stroke-width="0.45"/>
<line x1="94.16" y1="199.30" x2="94.16" y2="200.20" stroke="#555" stroke-width="0.45"/>
<line x1="95.32" y1="199.30" x2="95.32" y2="200.20" stroke="#555" stroke-width="0.45"/>
<line x1="96.49" y1="199.30" x2="96.49" y2="200.20" stroke="#555" stroke-width="0.45"/>
<line x1="97.65" y1="199.30" x2="97.65" y2="200.20" stroke="#555" stroke-width="0.45"/>
<line x1="98.81" y1="199.30" x2="98.81" y2="200.20" stroke="#555" stroke-width="0.45"/>
<line x1="99.97" y1="199.30" x2="99.97" y2="200.20" stroke="#555" stroke-width="0.45"/>
<line x1="101.13" y1="199.30" x2="101.13" y2="200.20" stroke="#555" stroke-width="0.45"/>
<line x1="105.04" y1="199.30" x2="105.04" y2="200.00" stroke="#888" stroke-width="0.35"/>
<line x1="110.85" y1="199.30" x2="110.85" y2="200.00" stroke="#888" stroke-width="0.35"/>
<line x1="116.66" y1="199.30" x2="116.66" y2="200.00" stroke="#888" stroke-width="0.35"/>
<line x1="122.46" y1="199.30" x2="122.46" y2="200.00" stroke="#888" stroke-width="0.35"/>
<line x1="128.27" y1="199.30" x2="128.27" y2="200.00" stroke="#888" stroke-width="0.35"/>
<line x1="134.08" y1="199.30" x2="134.08" y2="200.00" stroke="#888" stroke-width="0.35"/>
<line x1="88.30" y1="197.72" x2="89.20" y2="197.72" stroke="#666" stroke-width="0.4"/>
<line x1="88.30" y1="196.56" x2="89.20" y2="196.56" stroke="#666" stroke-width="0.4"/>
<line x1="88.30" y1="195.40" x2="89.20" y2="195.40" stroke="#666" stroke-width="0.4"/>
<line x1="88.30" y1="194.24" x2="89.20" y2="194.24" stroke="#666" stroke-width="0.4"/>
<line x1="88.30" y1="193.08" x2="89.20" y2="193.08" stroke="#666" stroke-width="0.4"/>
<line x1="88.30" y1="191.92" x2="89.20" y2="191.92" stroke="#666" stroke-width="0.4"/>
<line x1="88.30" y1="190.76" x2="89.20" y2="190.76" stroke="#666" stroke-width="0.4"/>
<line x1="88.30" y1="189.60" x2="89.20" y2="189.60" stroke="#666" stroke-width="0.4"/>
<g fill="#7a7a7a" fill-opacity="0.45"><path d="M102.2 166.9h0.7v0.7h-0.7zM101.1 176.6h0.7v0.7h-0.7zM94.5 177.5h0.7v0.7h-0.7zM105.6 174.7h0.7v0.7h-0.7zM93.3 194.2h0.7v0.7h-0.7z"/><path d="M104.2 184.0h0.7v0.7h-0.7zM100.7 182.7h0.7v0.7h-0.7zM96.4 189.0h0.7v0.7h-0.7zM107.8 163.8h0.7v0.7h-0.7zM102.6 176.1h0.7v0.7h-0.7z"/><path d="M105.7 180.3h0.7v0.7h-0.7zM97.2 171.3h0.7v0.7h-0.7zM99.7 160.1h0.7v0.7h-0.7zM102.5 166.5h0.7v0.7h-0.7zM96.0 178.1h0.7v0.7h-0.7z"/><path d="M96.4 195.0h0.7v0.7h-0.7zM107.6 197.1h0.7v0.7h-0.7zM99.7 185.1h0.7v0.7h-0.7zM95.8 186.0h0.7v0.7h-0.7zM101.0 184.5h0.7v0.7h-0.7z"/><path d="M101.3 171.2h0.7v0.7h-0.7zM101.9 169.4h0.7v0.7h-0.7zM105.0 191.0h0.7v0.7h-0.7zM112.0 170.6h0.7v0.7h-0.7zM107.8 195.0h0.7v0.7h-0.7z"/><path d="M116.7 179.4h0.7v0.7h-0.7zM101.1 188.1h0.7v0.7h-0.7zM100.1 185.2h0.7v0.7h-0.7zM111.5 174.4h0.7v0.7h-0.7zM97.0 168.6h0.7v0.7h-0.7z"/><path d="M98.3 176.8h0.7v0.7h-0.7zM100.7 186.4h0.7v0.7h-0.7zM102.2 177.9h0.7v0.7h-0.7zM93.2 189.6h0.7v0.7h-0.7zM103.8 186.2h0.7v0.7h-0.7z"/><path d="M91.7 194.7h0.7v0.7h-0.7zM93.4 186.7h0.7v0.7h-0.7zM107.5 184.4h0.7v0.7h-0.7zM108.7 176.7h0.7v0.7h-0.7zM104.9 187.8h0.7v0.7h-0.7z"/><path d="M95.9 180.0h0.7v0.7h-0.7zM102.4 181.4h0.7v0.7h-0.7zM103.1 179.6h0.7v0.7h-0.7zM103.6 185.2h0.7v0.7h-0.7zM111.0 161.9h0.7v0.7h-0.7z"/><path d="M106.5 186.8h0.7v0.7h-0.7zM98.3 193.1h0.7v0.7h-0.7zM96.0 188.3h0.7v0.7h-0.7zM101.3 173.3h0.7v0.7h-0.7zM102.8 193.6h0.7v0.7h-0.7z"/><path d="M105.7 194.5h0.7v0.7h-0.7zM102.1 168.3h0.7v0.7h-0.7zM98.0 176.0h0.7v0.7h-0.7zM92.3 185.6h0.7v0.7h-0.7zM102.5 182.0h0.7v0.7h-0.7z"/><path d="M101.1 182.6h0.7v0.7h-0.7zM98.0 189.9h0.7v0.7h-0.7zM107.9 180.5h0.7v0.7h-0.7zM96.0 192.4h0.7v0.7h-0.7zM90.6 175.9h0.7v0.7h-0.7z"/><path d="M105.0 171.8h0.7v0.7h-0.7zM93.6 187.5h0.7v0.7h-0.7zM99.3 169.6h0.7v0.7h-0.7zM99.2 192.2h0.7v0.7h-0.7zM105.5 173.4h0.7v0.7h-0.7z"/><path d="M101.3 191.8h0.7v0.7h-0.7zM104.7 181.0h0.7v0.7h-0.7zM98.4 190.4h0.7v0.7h-0.7zM102.9 166.9h0.7v0.7h-0.7zM99.7 188.0h0.7v0.7h-0.7z"/><path d="M96.2 190.4h0.7v0.7h-0.7zM96.1 180.9h0.7v0.7h-0.7zM95.4 186.9h0.7v0.7h-0.7zM110.2 185.8h0.7v0.7h-0.7zM102.1 190.2h0.7v0.7h-0.7z"/><path d="M111.0 186.9h0.7v0.7h-0.7zM102.7 174.5h0.7v0.7h-0.7zM97.4 195.3h0.7v0.7h-0.7zM101.2 188.2h0.7v0.7h-0.7zM97.6 184.0h0.7v0.7h-0.7z"/><path d="M101.0 173.3h0.7v0.7h-0.7zM97.9 174.5h0.7v0.7h-0.7zM100.8 194.1h0.7v0.7h-0.7zM107.1 181.2h0.7v0.7h-0.7zM93.1 173.0h0.7v0.7h-0.7z"/><path d="M94.3 184.2h0.7v0.7h-0.7zM104.8 166.0h0.7v0.7h-0.7zM106.6 171.7h0.7v0.7h-0.7zM109.5 176.2h0.7v0.7h-0.7zM98.4 174.4h0.7v0.7h-0.7z"/><path d="M91.3 192.0h0.7v0.7h-0.7zM102.5 190.5h0.7v0.7h-0.7zM107.2 171.8h0.7v0.7h-0.7zM98.3 177.4h0.7v0.7h-0.7zM91.5 184.5h0.7v0.7h-0.7z"/><path d="M97.5 175.5h0.7v0.7h-0.7zM100.7 163.8h0.7v0.7h-0.7zM98.2 195.6h0.7v0.7h-0.7zM104.2 176.0h0.7v0.7h-0.7zM105.8 189.1h0.7v0.7h-0.7z"/><path d="M99.7 197.7h0.7v0.7h-0.7zM108.0 183.0h0.7v0.7h-0.7zM103.1 192.5h0.7v0.7h-0.7zM91.5 175.6h0.7v0.7h-0.7zM91.1 178.3h0.7v0.7h-0.7z"/><path d="M107.0 176.4h0.7v0.7h-0.7zM96.3 196.1h0.7v0.7h-0.7zM97.2 184.8h0.7v0.7h-0.7zM94.8 190.8h0.7v0.7h-0.7zM105.5 186.9h0.7v0.7h-0.7z"/><path d="M94.2 186.9h0.7v0.7h-0.7zM95.0 197.0h0.7v0.7h-0.7zM108.1 182.9h0.7v0.7h-0.7zM94.5 185.2h0.7v0.7h-0.7zM102.1 196.7h0.7v0.7h-0.7z"/><path d="M107.6 174.2h0.7v0.7h-0.7zM90.8 181.6h0.7v0.7h-0.7zM89.9 189.8h0.7v0.7h-0.7zM110.4 172.1h0.7v0.7h-0.7zM93.8 182.2h0.7v0.7h-0.7z"/><path d="M97.0 180.6h0.7v0.7h-0.7zM105.4 178.1h0.7v0.7h-0.7zM104.7 179.5h0.7v0.7h-0.7zM94.1 186.0h0.7v0.7h-0.7zM94.8 183.9h0.7v0.7h-0.7z"/><path d="M109.2 188.1h0.7v0.7h-0.7zM95.8 188.7h0.7v0.7h-0.7zM93.2 190.8h0.7v0.7h-0.7zM99.3 175.4h0.7v0.7h-0.7zM113.5 181.6h0.7v0.7h-0.7z"/><path d="M107.8 193.5h0.7v0.7h-0.7zM112.0 179.6h0.7v0.7h-0.7zM99.2 181.9h0.7v0.7h-0.7zM113.9 191.7h0.7v0.7h-0.7zM99.2 177.0h0.7v0.7h-0.7z"/><path d="M101.0 187.2h0.7v0.7h-0.7zM94.1 197.5h0.7v0.7h-0.7zM95.7 186.1h0.7v0.7h-0.7zM112.2 179.4h0.7v0.7h-0.7zM95.2 170.6h0.7v0.7h-0.7z"/><path d="M99.9 165.5h0.7v0.7h-0.7zM109.1 169.7h0.7v0.7h-0.7zM97.1 196.3h0.7v0.7h-0.7zM90.7 176.1h0.7v0.7h-0.7zM95.9 179.0h0.7v0.7h-0.7z"/><path d="M97.8 187.8h0.7v0.7h-0.7zM97.3 182.4h0.7v0.7h-0.7zM95.7 182.6h0.7v0.7h-0.7zM92.0 180.4h0.7v0.7h-0.7zM111.0 189.4h0.7v0.7h-0.7z"/><path d="M90.7 181.7h0.7v0.7h-0.7zM99.6 167.3h0.7v0.7h-0.7zM92.2 187.0h0.7v0.7h-0.7zM102.2 183.6h0.7v0.7h-0.7zM97.8 172.0h0.7v0.7h-0.7z"/><path d="M106.9 189.1h0.7v0.7h-0.7zM101.4 163.7h0.7v0.7h-0.7zM92.7 179.3h0.7v0.7h-0.7zM101.3 182.6h0.7v0.7h-0.7zM102.8 171.5h0.7v0.7h-0.7z"/><path d="M91.6 187.8h0.7v0.7h-0.7zM90.0 176.2h0.7v0.7h-0.7zM97.2 192.3h0.7v0.7h-0.7zM90.3 184.8h0.7v0.7h-0.7zM104.6 178.5h0.7v0.7h-0.7z"/><path d="M105.7 177.5h0.7v0.7h-0.7zM94.6 180.8h0.7v0.7h-0.7zM98.7 168.7h0.7v0.7h-0.7zM94.0 188.1h0.7v0.7h-0.7zM92.2 192.2h0.7v0.7h-0.7z"/><path d="M97.2 169.5h0.7v0.7h-0.7zM107.5 190.9h0.7v0.7h-0.7zM108.3 179.4h0.7v0.7h-0.7zM103.4 187.6h0.7v0.7h-0.7zM103.4 185.3h0.7v0.7h-0.7z"/><path d="M109.3 181.5h0.7v0.7h-0.7zM99.0 168.7h0.7v0.7h-0.7zM109.3 180.7h0.7v0.7h-0.7zM96.5 172.8h0.7v0.7h-0.7zM101.4 171.8h0.7v0.7h-0.7z"/><path d="M100.0 177.4h0.7v0.7h-0.7zM99.6 174.0h0.7v0.7h-0.7zM101.4 179.7h0.7v0.7h-0.7zM99.2 185.6h0.7v0.7h-0.7zM109.7 166.8h0.7v0.7h-0.7z"/><path d="M99.1 175.4h0.7v0.7h-0.7zM110.1 172.9h0.7v0.7h-0.7zM96.1 178.9h0.7v0.7h-0.7zM93.7 190.2h0.7v0.7h-0.7zM93.1 189.7h0.7v0.7h-0.7z"/><path d="M97.2 164.6h0.7v0.7h-0.7zM105.3 190.2h0.7v0.7h-0.7zM102.0 185.6h0.7v0.7h-0.7zM107.0 174.9h0.7v0.7h-0.7zM107.3 181.7h0.7v0.7h-0.7z"/><path d="M105.2 186.8h0.7v0.7h-0.7zM92.1 167.3h0.7v0.7h-0.7zM106.9 185.4h0.7v0.7h-0.7zM96.1 184.0h0.7v0.7h-0.7zM98.9 177.7h0.7v0.7h-0.7z"/><path d="M99.5 184.7h0.7v0.7h-0.7zM108.6 188.0h0.7v0.7h-0.7zM106.1 196.6h0.7v0.7h-0.7zM99.7 184.7h0.7v0.7h-0.7zM101.3 177.0h0.7v0.7h-0.7z"/><path d="M101.4 177.9h0.7v0.7h-0.7zM107.6 192.2h0.7v0.7h-0.7zM103.8 166.7h0.7v0.7h-0.7zM100.7 179.8h0.7v0.7h-0.7zM97.0 171.1h0.7v0.7h-0.7z"/><path d="M99.8 182.0h0.7v0.7h-0.7zM107.9 188.5h0.7v0.7h-0.7zM101.9 180.8h0.7v0.7h-0.7zM90.1 193.5h0.7v0.7h-0.7zM97.2 182.5h0.7v0.7h-0.7z"/><path d="M90.4 188.4h0.7v0.7h-0.7zM101.0 197.7h0.7v0.7h-0.7zM97.9 175.2h0.7v0.7h-0.7zM111.8 183.2h0.7v0.7h-0.7zM96.0 178.4h0.7v0.7h-0.7z"/><path d="M102.8 167.4h0.7v0.7h-0.7zM90.9 190.8h0.7v0.7h-0.7zM112.0 186.5h0.7v0.7h-0.7zM97.1 177.2h0.7v0.7h-0.7zM93.6 168.2h0.7v0.7h-0.7z"/><path d="M104.1 178.0h0.7v0.7h-0.7zM104.2 185.6h0.7v0.7h-0.7zM89.9 184.8h0.7v0.7h-0.7zM111.8 170.4h0.7v0.7h-0.7zM108.9 192.5h0.7v0.7h-0.7z"/><path d="M111.1 170.6h0.7v0.7h-0.7zM96.3 178.4h0.7v0.7h-0.7zM111.5 174.7h0.7v0.7h-0.7zM101.6 164.5h0.7v0.7h-0.7zM96.7 185.3h0.7v0.7h-0.7z"/><path d="M91.3 173.7h0.7v0.7h-0.7zM96.7 197.4h0.7v0.7h-0.7zM104.7 182.7h0.7v0.7h-0.7zM95.7 172.4h0.7v0.7h-0.7zM94.8 182.5h0.7v0.7h-0.7z"/><path d="M92.9 196.4h0.7v0.7h-0.7zM105.2 175.5h0.7v0.7h-0.7zM105.4 195.3h0.7v0.7h-0.7zM102.8 177.8h0.7v0.7h-0.7zM91.7 169.7h0.7v0.7h-0.7z"/><path d="M108.1 179.5h0.7v0.7h-0.7zM90.6 181.0h0.7v0.7h-0.7zM98.7 188.8h0.7v0.7h-0.7zM98.2 196.4h0.7v0.7h-0.7zM90.6 188.6h0.7v0.7h-0.7z"/><path d="M90.8 185.9h0.7v0.7h-0.7zM99.6 185.7h0.7v0.7h-0.7zM105.5 185.9h0.7v0.7h-0.7zM103.0 193.4h0.7v0.7h-0.7zM102.4 179.1h0.7v0.7h-0.7z"/><path d="M96.8 176.9h0.7v0.7h-0.7zM98.3 182.5h0.7v0.7h-0.7zM115.4 196.9h0.7v0.7h-0.7zM107.4 178.6h0.7v0.7h-0.7zM96.3 178.7h0.7v0.7h-0.7z"/><path d="M104.5 175.5h0.7v0.7h-0.7zM111.5 183.4h0.7v0.7h-0.7zM114.8 167.7h0.7v0.7h-0.7zM98.4 185.4h0.7v0.7h-0.7zM98.4 188.6h0.7v0.7h-0.7z"/><path d="M100.6 185.3h0.7v0.7h-0.7zM90.4 172.1h0.7v0.7h-0.7zM102.1 182.6h0.7v0.7h-0.7zM96.6 176.3h0.7v0.7h-0.7zM94.3 193.4h0.7v0.7h-0.7z"/><path d="M96.9 163.3h0.7v0.7h-0.7zM99.7 174.9h0.7v0.7h-0.7zM95.3 183.1h0.7v0.7h-0.7zM120.5 186.7h0.7v0.7h-0.7zM98.7 185.6h0.7v0.7h-0.7z"/><path d="M95.8 190.6h0.7v0.7h-0.7zM115.0 178.4h0.7v0.7h-0.7zM101.4 181.6h0.7v0.7h-0.7zM107.3 172.1h0.7v0.7h-0.7zM97.2 159.7h0.7v0.7h-0.7z"/><path d="M102.0 186.3h0.7v0.7h-0.7zM108.7 164.6h0.7v0.7h-0.7zM100.0 176.2h0.7v0.7h-0.7zM94.1 171.9h0.7v0.7h-0.7zM101.7 189.6h0.7v0.7h-0.7z"/><path d="M97.4 187.3h0.7v0.7h-0.7zM95.5 182.1h0.7v0.7h-0.7zM97.6 187.8h0.7v0.7h-0.7zM99.6 181.9h0.7v0.7h-0.7zM101.0 177.7h0.7v0.7h-0.7z"/><path d="M111.3 193.8h0.7v0.7h-0.7zM113.9 174.9h0.7v0.7h-0.7zM100.6 191.9h0.7v0.7h-0.7zM108.6 176.1h0.7v0.7h-0.7zM93.1 182.9h0.7v0.7h-0.7z"/><path d="M106.4 176.6h0.7v0.7h-0.7zM98.6 179.0h0.7v0.7h-0.7zM98.6 186.1h0.7v0.7h-0.7zM102.3 172.6h0.7v0.7h-0.7zM95.0 191.1h0.7v0.7h-0.7z"/><path d="M99.7 189.8h0.7v0.7h-0.7zM105.3 178.5h0.7v0.7h-0.7zM99.2 193.0h0.7v0.7h-0.7zM108.9 194.9h0.7v0.7h-0.7zM99.6 177.5h0.7v0.7h-0.7z"/><path d="M94.0 181.8h0.7v0.7h-0.7zM96.8 188.5h0.7v0.7h-0.7zM113.6 189.6h0.7v0.7h-0.7zM101.8 189.0h0.7v0.7h-0.7zM101.9 182.4h0.7v0.7h-0.7z"/><path d="M101.8 176.3h0.7v0.7h-0.7zM100.6 183.6h0.7v0.7h-0.7zM104.6 177.4h0.7v0.7h-0.7zM99.5 183.7h0.7v0.7h-0.7zM107.1 176.5h0.7v0.7h-0.7z"/><path d="M98.4 192.3h0.7v0.7h-0.7zM104.5 182.0h0.7v0.7h-0.7zM97.3 180.0h0.7v0.7h-0.7zM98.2 197.7h0.7v0.7h-0.7zM100.9 177.7h0.7v0.7h-0.7z"/><path d="M101.0 186.0h0.7v0.7h-0.7zM96.6 174.8h0.7v0.7h-0.7zM96.3 188.3h0.7v0.7h-0.7zM95.9 171.7h0.7v0.7h-0.7zM107.1 174.9h0.7v0.7h-0.7z"/><path d="M98.8 186.4h0.7v0.7h-0.7zM102.6 174.8h0.7v0.7h-0.7zM100.3 180.4h0.7v0.7h-0.7zM104.6 177.5h0.7v0.7h-0.7zM112.4 173.0h0.7v0.7h-0.7z"/><path d="M98.3 182.8h0.7v0.7h-0.7zM107.6 181.2h0.7v0.7h-0.7zM104.9 180.3h0.7v0.7h-0.7zM95.3 185.6h0.7v0.7h-0.7zM90.1 188.3h0.7v0.7h-0.7z"/><path d="M106.8 187.0h0.7v0.7h-0.7zM91.0 183.2h0.7v0.7h-0.7zM102.5 195.2h0.7v0.7h-0.7zM111.3 171.0h0.7v0.7h-0.7zM90.0 192.6h0.7v0.7h-0.7z"/><path d="M108.2 194.7h0.7v0.7h-0.7zM107.6 183.8h0.7v0.7h-0.7zM92.3 178.9h0.7v0.7h-0.7zM98.4 182.3h0.7v0.7h-0.7zM104.3 184.1h0.7v0.7h-0.7z"/><path d="M99.1 187.2h0.7v0.7h-0.7zM92.6 197.9h0.7v0.7h-0.7zM101.9 185.2h0.7v0.7h-0.7zM100.5 177.7h0.7v0.7h-0.7zM107.2 188.3h0.7v0.7h-0.7z"/><path d="M94.9 175.7h0.7v0.7h-0.7zM100.3 179.3h0.7v0.7h-0.7zM110.5 177.1h0.7v0.7h-0.7zM101.9 185.8h0.7v0.7h-0.7zM92.0 180.2h0.7v0.7h-0.7z"/><path d="M97.0 187.0h0.7v0.7h-0.7zM95.5 184.4h0.7v0.7h-0.7zM93.2 169.8h0.7v0.7h-0.7zM100.4 193.8h0.7v0.7h-0.7zM101.6 178.4h0.7v0.7h-0.7z"/><path d="M113.9 169.7h0.7v0.7h-0.7zM92.0 186.3h0.7v0.7h-0.7zM107.3 176.9h0.7v0.7h-0.7zM103.7 176.5h0.7v0.7h-0.7zM96.4 190.6h0.7v0.7h-0.7z"/><path d="M111.8 168.8h0.7v0.7h-0.7zM110.8 171.3h0.7v0.7h-0.7zM105.0 189.7h0.7v0.7h-0.7z"/></g>
<ellipse cx="108.5" cy="175.5" rx="5.20" ry="5.40" fill="#d4d4d4" opacity="0.8" filter="url(#b10)"/>
<g fill="#7a7a7a" fill-opacity="0.5"><path d="M117.5 176.5h0.7v0.7h-0.7zM106.2 179.4h0.7v0.7h-0.7zM107.2 171.2h0.7v0.7h-0.7zM106.9 174.2h0.7v0.7h-0.7zM103.3 175.3h0.7v0.7h-0.7z"/><path d="M110.0 176.4h0.7v0.7h-0.7zM114.9 176.7h0.7v0.7h-0.7zM113.9 175.1h0.7v0.7h-0.7zM114.6 168.5h0.7v0.7h-0.7zM109.2 174.8h0.7v0.7h-0.7z"/><path d="M107.5 171.8h0.7v0.7h-0.7zM108.3 171.6h0.7v0.7h-0.7zM101.3 169.0h0.7v0.7h-0.7zM107.2 172.1h0.7v0.7h-0.7zM104.6 172.8h0.7v0.7h-0.7z"/><path d="M111.5 175.5h0.7v0.7h-0.7zM103.8 179.9h0.7v0.7h-0.7zM109.9 180.6h0.7v0.7h-0.7zM113.0 175.8h0.7v0.7h-0.7zM105.6 179.5h0.7v0.7h-0.7z"/><path d="M106.4 173.7h0.7v0.7h-0.7zM108.8 177.3h0.7v0.7h-0.7zM105.3 178.7h0.7v0.7h-0.7zM106.1 177.8h0.7v0.7h-0.7zM110.8 179.6h0.7v0.7h-0.7z"/><path d="M113.0 171.7h0.7v0.7h-0.7zM104.6 170.4h0.7v0.7h-0.7zM107.0 182.1h0.7v0.7h-0.7zM103.1 174.3h0.7v0.7h-0.7zM106.4 170.7h0.7v0.7h-0.7z"/><path d="M105.8 177.5h0.7v0.7h-0.7zM106.7 180.3h0.7v0.7h-0.7zM102.9 177.1h0.7v0.7h-0.7zM111.4 177.0h0.7v0.7h-0.7zM111.0 173.7h0.7v0.7h-0.7z"/><path d="M105.0 171.7h0.7v0.7h-0.7zM100.3 185.9h0.7v0.7h-0.7zM103.3 181.1h0.7v0.7h-0.7zM108.3 176.8h0.7v0.7h-0.7zM112.3 173.2h0.7v0.7h-0.7z"/><path d="M110.8 178.2h0.7v0.7h-0.7zM101.5 175.0h0.7v0.7h-0.7zM109.3 177.9h0.7v0.7h-0.7zM114.7 176.1h0.7v0.7h-0.7zM108.6 179.1h0.7v0.7h-0.7z"/><path d="M102.6 178.5h0.7v0.7h-0.7zM105.4 167.4h0.7v0.7h-0.7zM112.1 171.6h0.7v0.7h-0.7zM110.9 168.2h0.7v0.7h-0.7zM110.6 170.6h0.7v0.7h-0.7z"/><path d="M112.3 169.5h0.7v0.7h-0.7zM110.3 174.8h0.7v0.7h-0.7zM108.5 175.0h0.7v0.7h-0.7zM111.1 170.0h0.7v0.7h-0.7zM98.8 171.0h0.7v0.7h-0.7z"/><path d="M105.6 171.7h0.7v0.7h-0.7zM113.5 167.8h0.7v0.7h-0.7zM106.5 171.4h0.7v0.7h-0.7zM103.7 174.7h0.7v0.7h-0.7zM109.2 171.6h0.7v0.7h-0.7z"/><path d="M103.0 176.8h0.7v0.7h-0.7zM104.6 176.4h0.7v0.7h-0.7zM113.4 168.2h0.7v0.7h-0.7zM104.2 173.3h0.7v0.7h-0.7zM107.9 178.9h0.7v0.7h-0.7z"/><path d="M109.1 180.7h0.7v0.7h-0.7zM107.2 173.7h0.7v0.7h-0.7zM111.8 174.7h0.7v0.7h-0.7zM115.0 170.5h0.7v0.7h-0.7zM110.8 175.5h0.7v0.7h-0.7z"/></g>
<defs><radialGradient id="rg163"><stop offset="0" stop-color="#efefef"/><stop offset="0.22" stop-color="#efefef"/><stop offset="0.6" stop-color="#c6c6c6"/><stop offset="0.9" stop-color="#b4b4b4"/><stop offset="1" stop-color="#bebebe"/></radialGradient></defs>
<ellipse cx="99.8" cy="183.6" rx="9.20" ry="12.32" transform="rotate(25 99.8 183.6)" fill="#cccccc" opacity="0.85" filter="url(#b10)"/>
<ellipse cx="99.8" cy="183.6" rx="8.0" ry="11.0" transform="rotate(25 99.8 183.6)" fill="url(#rg163)" stroke="#a0a0a0" stroke-width="0.7" filter="url(#b04)"/>
<ellipse cx="99.8" cy="183.6" rx="6.40" ry="8.80" transform="rotate(25 99.8 183.6)" fill="none" stroke="#9a9a9a" stroke-width="0.45" opacity="0.8" filter="url(#b04)"/>
<ellipse cx="99.8" cy="183.6" rx="4.64" ry="6.38" transform="rotate(25 99.8 183.6)" fill="none" stroke="#aaa" stroke-width="0.4" opacity="0.7" filter="url(#b04)"/>
<g fill="#8a8a8a" fill-opacity="0.3"><path d="M90.1 184.9h0.6v0.6h-0.6zM100.6 183.9h0.6v0.6h-0.6zM96.7 179.2h0.6v0.6h-0.6zM106.9 181.7h0.6v0.6h-0.6zM95.5 180.6h0.6v0.6h-0.6z"/><path d="M100.2 178.1h0.6v0.6h-0.6zM94.0 187.1h0.6v0.6h-0.6zM89.7 190.6h0.6v0.6h-0.6zM100.1 176.9h0.6v0.6h-0.6zM101.0 187.4h0.6v0.6h-0.6z"/><path d="M94.0 185.3h0.6v0.6h-0.6zM95.0 175.6h0.6v0.6h-0.6zM104.2 183.9h0.6v0.6h-0.6zM93.6 183.7h0.6v0.6h-0.6zM102.9 184.7h0.6v0.6h-0.6z"/><path d="M93.8 178.5h0.6v0.6h-0.6zM99.2 187.8h0.6v0.6h-0.6zM106.8 185.2h0.6v0.6h-0.6zM97.8 182.3h0.6v0.6h-0.6zM106.1 180.6h0.6v0.6h-0.6z"/><path d="M110.6 171.8h0.6v0.6h-0.6zM104.0 181.3h0.6v0.6h-0.6zM99.6 187.5h0.6v0.6h-0.6zM95.4 180.9h0.6v0.6h-0.6zM99.0 186.6h0.6v0.6h-0.6z"/><path d="M98.4 176.8h0.6v0.6h-0.6zM99.3 181.9h0.6v0.6h-0.6zM91.9 185.4h0.6v0.6h-0.6zM94.2 189.6h0.6v0.6h-0.6zM102.5 184.8h0.6v0.6h-0.6z"/><path d="M104.7 179.0h0.6v0.6h-0.6zM99.7 179.9h0.6v0.6h-0.6zM94.9 181.2h0.6v0.6h-0.6zM95.6 190.2h0.6v0.6h-0.6zM97.2 179.4h0.6v0.6h-0.6z"/><path d="M100.1 186.0h0.6v0.6h-0.6zM100.7 181.0h0.6v0.6h-0.6zM100.5 185.9h0.6v0.6h-0.6zM93.4 178.9h0.6v0.6h-0.6zM97.3 175.1h0.6v0.6h-0.6z"/><path d="M99.9 183.8h0.6v0.6h-0.6zM101.9 179.1h0.6v0.6h-0.6zM100.9 178.4h0.6v0.6h-0.6zM99.3 187.4h0.6v0.6h-0.6zM102.9 192.6h0.6v0.6h-0.6z"/><path d="M97.6 179.7h0.6v0.6h-0.6zM95.4 183.2h0.6v0.6h-0.6zM105.0 190.2h0.6v0.6h-0.6zM94.4 173.3h0.6v0.6h-0.6zM93.6 183.7h0.6v0.6h-0.6z"/><path d="M98.8 184.8h0.6v0.6h-0.6zM107.9 182.2h0.6v0.6h-0.6zM91.9 191.7h0.6v0.6h-0.6zM102.6 180.0h0.6v0.6h-0.6zM95.7 172.3h0.6v0.6h-0.6z"/><path d="M90.5 179.5h0.6v0.6h-0.6zM97.4 188.3h0.6v0.6h-0.6zM100.6 179.6h0.6v0.6h-0.6zM92.4 191.5h0.6v0.6h-0.6zM92.7 181.2h0.6v0.6h-0.6z"/><path d="M98.2 186.4h0.6v0.6h-0.6zM96.9 185.1h0.6v0.6h-0.6zM102.8 183.9h0.6v0.6h-0.6zM98.3 181.6h0.6v0.6h-0.6zM96.5 180.6h0.6v0.6h-0.6z"/><path d="M97.9 183.8h0.6v0.6h-0.6zM101.3 192.1h0.6v0.6h-0.6zM96.5 185.6h0.6v0.6h-0.6zM98.8 187.6h0.6v0.6h-0.6zM99.0 184.7h0.6v0.6h-0.6z"/><path d="M99.6 178.6h0.6v0.6h-0.6zM99.6 191.2h0.6v0.6h-0.6zM100.9 186.6h0.6v0.6h-0.6zM101.5 181.5h0.6v0.6h-0.6zM91.5 183.6h0.6v0.6h-0.6z"/><path d="M101.5 180.9h0.6v0.6h-0.6zM93.0 188.0h0.6v0.6h-0.6zM96.3 196.2h0.6v0.6h-0.6zM96.9 182.0h0.6v0.6h-0.6zM97.3 183.2h0.6v0.6h-0.6z"/><path d="M100.5 179.2h0.6v0.6h-0.6zM105.2 181.2h0.6v0.6h-0.6zM96.4 185.2h0.6v0.6h-0.6zM98.6 180.2h0.6v0.6h-0.6zM101.6 182.1h0.6v0.6h-0.6z"/><path d="M95.2 180.7h0.6v0.6h-0.6z"/></g>
<polygon points="116.62,165.23 121.37,168.72 123.63,173.81 121.67,179.25 116.05,181.34 110.19,180.62 106.11,176.32 106.98,170.74 110.58,166.37" fill="none" stroke="#333" stroke-width="0.6"/>
<text x="130.40" y="166.00" font-size="6.7" text-anchor="middle" font-weight="normal" fill="#222" stroke="#222" stroke-width="0.1" textLength="11.9" lengthAdjust="spacingAndGlyphs">10.6</text>
<rect x="152.40" y="146.60" width="52.90" height="52.70" fill="none" stroke="#777" stroke-width="0.6"/>
<rect x="147.40" y="149.79" width="1.80" height="1.20" fill="#bbb" stroke="none" stroke-width="1"/>
<rect x="149.20" y="148.79" width="0.90" height="0.90" fill="#ccc" stroke="none" stroke-width="1"/>
<line x1="151.10" y1="150.29" x2="152.40" y2="150.29" stroke="#666" stroke-width="0.5"/>
<rect x="147.40" y="161.38" width="1.80" height="1.20" fill="#bbb" stroke="none" stroke-width="1"/>
<rect x="149.20" y="160.38" width="0.90" height="0.90" fill="#ccc" stroke="none" stroke-width="1"/>
<line x1="151.10" y1="161.88" x2="152.40" y2="161.88" stroke="#666" stroke-width="0.5"/>
<rect x="147.40" y="175.35" width="1.80" height="1.20" fill="#bbb" stroke="none" stroke-width="1"/>
<rect x="149.20" y="174.35" width="0.90" height="0.90" fill="#ccc" stroke="none" stroke-width="1"/>
<line x1="151.10" y1="175.85" x2="152.40" y2="175.85" stroke="#666" stroke-width="0.5"/>
<rect x="148.40" y="187.21" width="1.50" height="1.10" fill="#bbb" stroke="none" stroke-width="1"/>
<line x1="151.10" y1="187.71" x2="152.40" y2="187.71" stroke="#666" stroke-width="0.5"/>
<rect x="148.40" y="192.74" width="1.50" height="1.10" fill="#bbb" stroke="none" stroke-width="1"/>
<line x1="151.10" y1="193.24" x2="152.40" y2="193.24" stroke="#666" stroke-width="0.5"/>
<rect x="148.40" y="196.43" width="1.50" height="1.10" fill="#bbb" stroke="none" stroke-width="1"/>
<line x1="151.10" y1="196.93" x2="152.40" y2="196.93" stroke="#666" stroke-width="0.5"/>
<rect x="159.57" y="201.90" width="1.10" height="1.20" fill="#bbb" stroke="none" stroke-width="1"/>
<line x1="160.07" y1="199.30" x2="160.07" y2="200.60" stroke="#666" stroke-width="0.5"/>
<rect x="175.93" y="201.90" width="1.90" height="1.20" fill="#bbb" stroke="none" stroke-width="1"/>
<rect x="177.83" y="201.10" width="0.90" height="0.80" fill="#ccc" stroke="none" stroke-width="1"/>
<line x1="177.53" y1="199.30" x2="177.53" y2="200.60" stroke="#666" stroke-width="0.5"/>
<rect x="188.09" y="201.90" width="1.90" height="1.20" fill="#bbb" stroke="none" stroke-width="1"/>
<rect x="189.99" y="201.10" width="0.90" height="0.80" fill="#ccc" stroke="none" stroke-width="1"/>
<line x1="189.69" y1="199.30" x2="189.69" y2="200.60" stroke="#666" stroke-width="0.5"/>
<rect x="200.26" y="201.90" width="1.90" height="1.20" fill="#bbb" stroke="none" stroke-width="1"/>
<rect x="202.16" y="201.10" width="0.90" height="0.80" fill="#ccc" stroke="none" stroke-width="1"/>
<line x1="201.86" y1="199.30" x2="201.86" y2="200.60" stroke="#666" stroke-width="0.5"/>
<line x1="155.05" y1="199.30" x2="155.05" y2="200.20" stroke="#555" stroke-width="0.45"/>
<line x1="156.21" y1="199.30" x2="156.21" y2="200.20" stroke="#555" stroke-width="0.45"/>
<line x1="157.37" y1="199.30" x2="157.37" y2="200.20" stroke="#555" stroke-width="0.45"/>
<line x1="158.54" y1="199.30" x2="158.54" y2="200.20" stroke="#555" stroke-width="0.45"/>
<line x1="159.70" y1="199.30" x2="159.70" y2="200.20" stroke="#555" stroke-width="0.45"/>
<line x1="160.86" y1="199.30" x2="160.86" y2="200.20" stroke="#555" stroke-width="0.45"/>
<line x1="162.03" y1="199.30" x2="162.03" y2="200.20" stroke="#555" stroke-width="0.45"/>
<line x1="163.19" y1="199.30" x2="163.19" y2="200.20" stroke="#555" stroke-width="0.45"/>
<line x1="164.36" y1="199.30" x2="164.36" y2="200.20" stroke="#555" stroke-width="0.45"/>
<line x1="168.27" y1="199.30" x2="168.27" y2="200.00" stroke="#888" stroke-width="0.35"/>
<line x1="174.09" y1="199.30" x2="174.09" y2="200.00" stroke="#888" stroke-width="0.35"/>
<line x1="179.91" y1="199.30" x2="179.91" y2="200.00" stroke="#888" stroke-width="0.35"/>
<line x1="185.73" y1="199.30" x2="185.73" y2="200.00" stroke="#888" stroke-width="0.35"/>
<line x1="191.55" y1="199.30" x2="191.55" y2="200.00" stroke="#888" stroke-width="0.35"/>
<line x1="197.37" y1="199.30" x2="197.37" y2="200.00" stroke="#888" stroke-width="0.35"/>
<line x1="151.50" y1="197.72" x2="152.40" y2="197.72" stroke="#666" stroke-width="0.4"/>
<line x1="151.50" y1="196.56" x2="152.40" y2="196.56" stroke="#666" stroke-width="0.4"/>
<line x1="151.50" y1="195.40" x2="152.40" y2="195.40" stroke="#666" stroke-width="0.4"/>
<line x1="151.50" y1="194.24" x2="152.40" y2="194.24" stroke="#666" stroke-width="0.4"/>
<line x1="151.50" y1="193.08" x2="152.40" y2="193.08" stroke="#666" stroke-width="0.4"/>
<line x1="151.50" y1="191.92" x2="152.40" y2="191.92" stroke="#666" stroke-width="0.4"/>
<line x1="151.50" y1="190.76" x2="152.40" y2="190.76" stroke="#666" stroke-width="0.4"/>
<line x1="151.50" y1="189.60" x2="152.40" y2="189.60" stroke="#666" stroke-width="0.4"/>
<g fill="#7a7a7a" fill-opacity="0.45"><path d="M156.9 197.2h0.7v0.7h-0.7zM153.1 189.8h0.7v0.7h-0.7zM157.9 179.4h0.7v0.7h-0.7zM159.4 185.3h0.7v0.7h-0.7zM155.2 193.5h0.7v0.7h-0.7z"/><path d="M166.5 192.0h0.7v0.7h-0.7zM155.3 189.8h0.7v0.7h-0.7zM160.6 186.4h0.7v0.7h-0.7zM158.9 188.6h0.7v0.7h-0.7zM166.5 194.8h0.7v0.7h-0.7z"/><path d="M158.6 191.5h0.7v0.7h-0.7zM173.2 178.4h0.7v0.7h-0.7zM174.2 175.2h0.7v0.7h-0.7zM164.1 189.4h0.7v0.7h-0.7zM170.7 188.4h0.7v0.7h-0.7z"/><path d="M160.8 176.3h0.7v0.7h-0.7zM162.1 177.4h0.7v0.7h-0.7zM167.0 178.3h0.7v0.7h-0.7zM160.3 179.2h0.7v0.7h-0.7zM164.5 170.5h0.7v0.7h-0.7z"/><path d="M163.6 184.7h0.7v0.7h-0.7zM163.0 188.9h0.7v0.7h-0.7zM158.0 190.7h0.7v0.7h-0.7zM166.8 186.8h0.7v0.7h-0.7zM160.6 179.0h0.7v0.7h-0.7z"/><path d="M168.8 175.8h0.7v0.7h-0.7zM162.7 177.2h0.7v0.7h-0.7zM161.8 183.9h0.7v0.7h-0.7zM170.8 172.9h0.7v0.7h-0.7zM161.0 185.9h0.7v0.7h-0.7z"/><path d="M169.6 176.2h0.7v0.7h-0.7zM166.0 186.6h0.7v0.7h-0.7zM168.0 195.2h0.7v0.7h-0.7zM163.0 180.2h0.7v0.7h-0.7zM162.0 175.4h0.7v0.7h-0.7z"/><path d="M166.0 168.2h0.7v0.7h-0.7zM160.6 187.0h0.7v0.7h-0.7zM169.0 182.5h0.7v0.7h-0.7zM172.1 180.6h0.7v0.7h-0.7zM165.3 168.0h0.7v0.7h-0.7z"/><path d="M159.0 175.9h0.7v0.7h-0.7zM170.0 190.3h0.7v0.7h-0.7zM154.2 186.1h0.7v0.7h-0.7zM165.5 182.6h0.7v0.7h-0.7zM162.8 181.2h0.7v0.7h-0.7z"/><path d="M162.5 168.6h0.7v0.7h-0.7zM158.7 193.8h0.7v0.7h-0.7zM171.4 183.8h0.7v0.7h-0.7zM158.0 180.7h0.7v0.7h-0.7zM166.8 187.9h0.7v0.7h-0.7z"/><path d="M157.7 185.6h0.7v0.7h-0.7zM159.7 187.4h0.7v0.7h-0.7zM162.7 171.2h0.7v0.7h-0.7zM160.8 189.8h0.7v0.7h-0.7zM155.5 181.0h0.7v0.7h-0.7z"/><path d="M168.2 182.1h0.7v0.7h-0.7zM164.9 193.2h0.7v0.7h-0.7zM153.1 176.8h0.7v0.7h-0.7zM163.7 195.5h0.7v0.7h-0.7zM157.8 176.8h0.7v0.7h-0.7z"/><path d="M167.4 168.6h0.7v0.7h-0.7zM164.7 189.1h0.7v0.7h-0.7zM158.2 187.2h0.7v0.7h-0.7zM166.1 187.4h0.7v0.7h-0.7zM162.0 196.5h0.7v0.7h-0.7z"/><path d="M158.8 184.2h0.7v0.7h-0.7zM156.7 191.0h0.7v0.7h-0.7zM158.6 186.8h0.7v0.7h-0.7zM162.7 184.4h0.7v0.7h-0.7zM172.6 185.8h0.7v0.7h-0.7z"/><path d="M168.9 192.5h0.7v0.7h-0.7zM170.4 184.5h0.7v0.7h-0.7zM166.0 191.1h0.7v0.7h-0.7zM157.8 184.8h0.7v0.7h-0.7zM161.3 183.2h0.7v0.7h-0.7z"/><path d="M171.4 180.0h0.7v0.7h-0.7zM155.6 167.1h0.7v0.7h-0.7zM160.7 177.8h0.7v0.7h-0.7zM160.9 188.1h0.7v0.7h-0.7zM172.0 188.9h0.7v0.7h-0.7z"/><path d="M166.4 178.6h0.7v0.7h-0.7zM162.7 195.3h0.7v0.7h-0.7zM174.3 170.4h0.7v0.7h-0.7zM164.1 197.6h0.7v0.7h-0.7zM170.2 173.2h0.7v0.7h-0.7z"/><path d="M159.0 187.8h0.7v0.7h-0.7zM166.3 177.9h0.7v0.7h-0.7zM154.7 189.8h0.7v0.7h-0.7zM161.5 186.1h0.7v0.7h-0.7zM155.3 176.8h0.7v0.7h-0.7z"/><path d="M169.3 173.2h0.7v0.7h-0.7zM177.5 175.9h0.7v0.7h-0.7zM154.6 182.0h0.7v0.7h-0.7zM163.4 190.2h0.7v0.7h-0.7zM160.3 181.4h0.7v0.7h-0.7z"/><path d="M161.8 178.7h0.7v0.7h-0.7zM163.2 185.3h0.7v0.7h-0.7zM157.7 184.6h0.7v0.7h-0.7zM162.1 183.0h0.7v0.7h-0.7zM172.3 171.9h0.7v0.7h-0.7z"/><path d="M165.8 175.7h0.7v0.7h-0.7zM157.0 194.9h0.7v0.7h-0.7zM155.8 181.1h0.7v0.7h-0.7zM156.5 190.2h0.7v0.7h-0.7zM159.7 168.8h0.7v0.7h-0.7z"/><path d="M165.9 181.7h0.7v0.7h-0.7zM157.9 191.6h0.7v0.7h-0.7zM157.5 179.3h0.7v0.7h-0.7zM162.1 187.1h0.7v0.7h-0.7zM156.8 191.0h0.7v0.7h-0.7z"/><path d="M176.3 184.0h0.7v0.7h-0.7zM177.7 170.1h0.7v0.7h-0.7zM171.2 183.2h0.7v0.7h-0.7zM163.6 181.2h0.7v0.7h-0.7zM160.9 172.6h0.7v0.7h-0.7z"/><path d="M157.0 193.2h0.7v0.7h-0.7zM169.6 182.7h0.7v0.7h-0.7zM160.4 177.3h0.7v0.7h-0.7zM165.8 185.6h0.7v0.7h-0.7zM161.3 174.8h0.7v0.7h-0.7z"/><path d="M168.3 191.9h0.7v0.7h-0.7zM154.3 189.9h0.7v0.7h-0.7zM154.1 186.9h0.7v0.7h-0.7zM157.2 178.8h0.7v0.7h-0.7zM164.1 187.8h0.7v0.7h-0.7z"/><path d="M169.9 178.7h0.7v0.7h-0.7zM168.7 196.8h0.7v0.7h-0.7zM161.0 187.3h0.7v0.7h-0.7zM157.7 181.2h0.7v0.7h-0.7zM154.0 182.2h0.7v0.7h-0.7z"/><path d="M160.4 194.5h0.7v0.7h-0.7zM166.0 191.6h0.7v0.7h-0.7zM160.4 181.3h0.7v0.7h-0.7zM159.5 184.9h0.7v0.7h-0.7zM153.7 177.1h0.7v0.7h-0.7z"/><path d="M163.3 179.6h0.7v0.7h-0.7zM172.2 185.6h0.7v0.7h-0.7zM169.0 195.4h0.7v0.7h-0.7zM158.2 186.0h0.7v0.7h-0.7zM170.5 183.1h0.7v0.7h-0.7z"/><path d="M163.8 179.4h0.7v0.7h-0.7zM163.1 181.0h0.7v0.7h-0.7zM160.4 191.7h0.7v0.7h-0.7zM170.1 186.9h0.7v0.7h-0.7zM161.5 190.7h0.7v0.7h-0.7z"/><path d="M162.5 174.9h0.7v0.7h-0.7zM170.7 178.1h0.7v0.7h-0.7zM169.7 177.6h0.7v0.7h-0.7zM175.2 178.4h0.7v0.7h-0.7zM164.0 196.8h0.7v0.7h-0.7z"/><path d="M153.2 193.8h0.7v0.7h-0.7zM160.8 168.5h0.7v0.7h-0.7zM164.9 190.3h0.7v0.7h-0.7zM166.2 163.5h0.7v0.7h-0.7zM162.4 181.2h0.7v0.7h-0.7z"/><path d="M160.4 180.8h0.7v0.7h-0.7zM161.4 177.5h0.7v0.7h-0.7zM162.2 192.6h0.7v0.7h-0.7zM168.8 175.6h0.7v0.7h-0.7zM162.7 185.0h0.7v0.7h-0.7z"/><path d="M168.1 195.4h0.7v0.7h-0.7zM162.6 194.1h0.7v0.7h-0.7zM156.4 195.1h0.7v0.7h-0.7zM158.7 186.1h0.7v0.7h-0.7zM169.5 177.9h0.7v0.7h-0.7z"/><path d="M161.5 168.7h0.7v0.7h-0.7zM163.2 183.5h0.7v0.7h-0.7zM159.0 187.0h0.7v0.7h-0.7zM163.1 181.7h0.7v0.7h-0.7zM161.4 175.5h0.7v0.7h-0.7z"/><path d="M158.2 183.4h0.7v0.7h-0.7zM167.4 177.8h0.7v0.7h-0.7zM170.2 177.2h0.7v0.7h-0.7zM166.1 188.3h0.7v0.7h-0.7zM160.8 181.9h0.7v0.7h-0.7z"/><path d="M163.1 191.2h0.7v0.7h-0.7zM153.5 183.7h0.7v0.7h-0.7zM156.3 187.4h0.7v0.7h-0.7zM170.1 186.3h0.7v0.7h-0.7zM161.0 184.9h0.7v0.7h-0.7z"/><path d="M165.1 185.8h0.7v0.7h-0.7zM161.2 177.3h0.7v0.7h-0.7zM158.4 192.9h0.7v0.7h-0.7zM158.6 194.1h0.7v0.7h-0.7zM163.7 184.0h0.7v0.7h-0.7z"/><path d="M153.5 175.8h0.7v0.7h-0.7zM172.3 175.5h0.7v0.7h-0.7zM158.4 173.4h0.7v0.7h-0.7zM157.4 187.8h0.7v0.7h-0.7zM169.9 168.6h0.7v0.7h-0.7z"/><path d="M172.0 181.3h0.7v0.7h-0.7zM155.0 195.8h0.7v0.7h-0.7zM164.2 173.8h0.7v0.7h-0.7zM159.8 176.9h0.7v0.7h-0.7zM156.7 179.4h0.7v0.7h-0.7z"/><path d="M166.6 187.8h0.7v0.7h-0.7zM155.9 183.0h0.7v0.7h-0.7zM160.6 189.7h0.7v0.7h-0.7zM159.1 186.7h0.7v0.7h-0.7zM174.5 187.8h0.7v0.7h-0.7z"/><path d="M154.9 184.5h0.7v0.7h-0.7zM158.0 179.5h0.7v0.7h-0.7zM162.5 186.6h0.7v0.7h-0.7zM158.6 189.9h0.7v0.7h-0.7zM163.6 173.1h0.7v0.7h-0.7z"/><path d="M168.1 182.2h0.7v0.7h-0.7zM170.7 180.4h0.7v0.7h-0.7zM164.8 187.0h0.7v0.7h-0.7zM167.5 189.3h0.7v0.7h-0.7zM167.1 180.8h0.7v0.7h-0.7z"/><path d="M161.5 185.4h0.7v0.7h-0.7zM163.1 189.9h0.7v0.7h-0.7zM162.3 177.8h0.7v0.7h-0.7zM157.8 186.0h0.7v0.7h-0.7zM154.7 171.1h0.7v0.7h-0.7z"/><path d="M160.7 178.6h0.7v0.7h-0.7zM166.0 162.3h0.7v0.7h-0.7zM160.5 181.1h0.7v0.7h-0.7zM170.9 169.3h0.7v0.7h-0.7zM159.2 186.9h0.7v0.7h-0.7z"/><path d="M162.5 193.8h0.7v0.7h-0.7zM170.6 177.1h0.7v0.7h-0.7zM166.6 182.0h0.7v0.7h-0.7zM154.0 194.4h0.7v0.7h-0.7zM160.1 175.9h0.7v0.7h-0.7z"/><path d="M161.4 176.3h0.7v0.7h-0.7zM167.3 188.3h0.7v0.7h-0.7zM169.6 189.1h0.7v0.7h-0.7zM156.1 190.9h0.7v0.7h-0.7zM159.1 179.0h0.7v0.7h-0.7z"/><path d="M161.0 183.7h0.7v0.7h-0.7zM170.5 180.8h0.7v0.7h-0.7zM164.2 184.0h0.7v0.7h-0.7zM156.8 173.0h0.7v0.7h-0.7zM159.9 186.5h0.7v0.7h-0.7z"/><path d="M163.0 187.9h0.7v0.7h-0.7zM163.3 180.2h0.7v0.7h-0.7zM166.7 176.4h0.7v0.7h-0.7zM154.7 178.9h0.7v0.7h-0.7zM154.5 177.3h0.7v0.7h-0.7z"/><path d="M158.7 178.1h0.7v0.7h-0.7zM163.5 177.3h0.7v0.7h-0.7zM163.1 169.5h0.7v0.7h-0.7zM164.8 176.9h0.7v0.7h-0.7zM170.5 162.0h0.7v0.7h-0.7z"/><path d="M156.7 184.3h0.7v0.7h-0.7zM162.4 184.6h0.7v0.7h-0.7zM165.0 176.2h0.7v0.7h-0.7zM166.6 184.5h0.7v0.7h-0.7zM163.1 180.1h0.7v0.7h-0.7z"/><path d="M165.1 185.3h0.7v0.7h-0.7zM167.9 189.1h0.7v0.7h-0.7zM158.8 180.9h0.7v0.7h-0.7zM168.4 182.2h0.7v0.7h-0.7zM163.2 188.4h0.7v0.7h-0.7z"/><path d="M165.9 164.9h0.7v0.7h-0.7zM162.4 185.6h0.7v0.7h-0.7zM164.5 177.9h0.7v0.7h-0.7zM169.6 184.5h0.7v0.7h-0.7zM159.8 177.0h0.7v0.7h-0.7z"/><path d="M166.5 175.6h0.7v0.7h-0.7zM167.7 194.1h0.7v0.7h-0.7zM169.0 190.6h0.7v0.7h-0.7zM168.5 189.5h0.7v0.7h-0.7zM171.3 182.0h0.7v0.7h-0.7z"/><path d="M161.2 190.0h0.7v0.7h-0.7zM159.2 192.2h0.7v0.7h-0.7zM161.1 189.3h0.7v0.7h-0.7zM165.7 172.1h0.7v0.7h-0.7zM161.0 194.5h0.7v0.7h-0.7z"/><path d="M166.7 179.8h0.7v0.7h-0.7zM166.2 168.4h0.7v0.7h-0.7zM159.0 190.5h0.7v0.7h-0.7zM164.2 195.5h0.7v0.7h-0.7zM157.8 177.0h0.7v0.7h-0.7z"/><path d="M152.9 172.5h0.7v0.7h-0.7zM165.7 180.4h0.7v0.7h-0.7zM180.7 167.2h0.7v0.7h-0.7zM161.2 185.3h0.7v0.7h-0.7zM175.5 188.4h0.7v0.7h-0.7z"/><path d="M165.1 196.1h0.7v0.7h-0.7zM164.4 187.3h0.7v0.7h-0.7zM161.8 180.1h0.7v0.7h-0.7zM163.8 166.4h0.7v0.7h-0.7zM163.7 183.8h0.7v0.7h-0.7z"/><path d="M162.0 181.4h0.7v0.7h-0.7zM157.6 182.3h0.7v0.7h-0.7zM159.0 184.6h0.7v0.7h-0.7zM180.2 191.9h0.7v0.7h-0.7zM165.6 191.6h0.7v0.7h-0.7z"/><path d="M164.6 191.3h0.7v0.7h-0.7zM163.1 196.0h0.7v0.7h-0.7zM165.3 196.0h0.7v0.7h-0.7zM159.0 182.8h0.7v0.7h-0.7zM155.6 190.1h0.7v0.7h-0.7z"/><path d="M168.1 181.3h0.7v0.7h-0.7zM171.9 176.8h0.7v0.7h-0.7zM160.1 188.6h0.7v0.7h-0.7zM161.0 186.7h0.7v0.7h-0.7zM168.5 188.2h0.7v0.7h-0.7z"/><path d="M153.9 187.6h0.7v0.7h-0.7zM161.2 184.4h0.7v0.7h-0.7zM161.6 171.7h0.7v0.7h-0.7zM155.2 178.8h0.7v0.7h-0.7zM161.4 160.3h0.7v0.7h-0.7z"/><path d="M171.5 176.3h0.7v0.7h-0.7zM156.5 186.7h0.7v0.7h-0.7zM156.0 187.7h0.7v0.7h-0.7zM158.5 185.3h0.7v0.7h-0.7zM162.7 183.8h0.7v0.7h-0.7z"/><path d="M154.1 168.9h0.7v0.7h-0.7zM158.8 194.8h0.7v0.7h-0.7zM157.6 187.0h0.7v0.7h-0.7zM162.0 187.8h0.7v0.7h-0.7zM171.3 173.3h0.7v0.7h-0.7z"/><path d="M164.1 182.7h0.7v0.7h-0.7zM162.0 176.3h0.7v0.7h-0.7zM159.5 174.2h0.7v0.7h-0.7zM172.4 186.5h0.7v0.7h-0.7zM168.6 177.1h0.7v0.7h-0.7z"/><path d="M159.8 195.4h0.7v0.7h-0.7zM163.9 175.6h0.7v0.7h-0.7zM162.7 175.3h0.7v0.7h-0.7zM154.1 179.5h0.7v0.7h-0.7zM161.4 176.5h0.7v0.7h-0.7z"/><path d="M158.7 174.8h0.7v0.7h-0.7zM160.5 195.2h0.7v0.7h-0.7zM155.4 180.5h0.7v0.7h-0.7zM161.5 188.3h0.7v0.7h-0.7zM170.1 181.1h0.7v0.7h-0.7z"/><path d="M154.9 180.1h0.7v0.7h-0.7zM165.3 178.6h0.7v0.7h-0.7zM172.3 170.0h0.7v0.7h-0.7zM163.8 182.2h0.7v0.7h-0.7zM164.4 180.2h0.7v0.7h-0.7z"/><path d="M163.4 189.5h0.7v0.7h-0.7zM165.5 189.5h0.7v0.7h-0.7zM167.1 174.9h0.7v0.7h-0.7zM159.2 184.0h0.7v0.7h-0.7zM162.0 174.6h0.7v0.7h-0.7z"/><path d="M163.5 179.0h0.7v0.7h-0.7zM161.4 175.9h0.7v0.7h-0.7zM157.7 181.6h0.7v0.7h-0.7zM156.7 188.0h0.7v0.7h-0.7zM160.9 184.5h0.7v0.7h-0.7z"/><path d="M161.8 194.5h0.7v0.7h-0.7zM165.2 186.5h0.7v0.7h-0.7zM162.8 177.0h0.7v0.7h-0.7zM158.5 188.5h0.7v0.7h-0.7zM164.3 180.9h0.7v0.7h-0.7z"/><path d="M157.2 169.2h0.7v0.7h-0.7zM161.8 192.4h0.7v0.7h-0.7zM167.3 173.3h0.7v0.7h-0.7zM160.3 185.1h0.7v0.7h-0.7zM155.7 184.9h0.7v0.7h-0.7z"/><path d="M162.6 176.7h0.7v0.7h-0.7zM166.1 177.1h0.7v0.7h-0.7zM154.0 189.1h0.7v0.7h-0.7zM166.3 182.2h0.7v0.7h-0.7zM172.4 183.9h0.7v0.7h-0.7z"/><path d="M153.3 190.6h0.7v0.7h-0.7zM160.2 186.1h0.7v0.7h-0.7zM164.4 175.7h0.7v0.7h-0.7zM155.3 180.2h0.7v0.7h-0.7zM172.7 177.9h0.7v0.7h-0.7z"/><path d="M169.8 187.6h0.7v0.7h-0.7zM154.7 184.0h0.7v0.7h-0.7zM167.4 177.4h0.7v0.7h-0.7zM154.4 185.4h0.7v0.7h-0.7zM160.3 170.5h0.7v0.7h-0.7z"/></g>
<ellipse cx="171" cy="176" rx="4.55" ry="5.40" fill="#d4d4d4" opacity="0.8" filter="url(#b10)"/>
<g fill="#7a7a7a" fill-opacity="0.5"><path d="M169.7 176.2h0.7v0.7h-0.7zM170.2 170.2h0.7v0.7h-0.7zM173.3 168.4h0.7v0.7h-0.7zM171.9 178.2h0.7v0.7h-0.7zM175.2 180.9h0.7v0.7h-0.7z"/><path d="M171.5 177.1h0.7v0.7h-0.7zM172.2 170.1h0.7v0.7h-0.7zM174.9 179.2h0.7v0.7h-0.7zM171.0 170.6h0.7v0.7h-0.7zM174.9 179.2h0.7v0.7h-0.7z"/><path d="M166.0 177.4h0.7v0.7h-0.7zM176.9 177.2h0.7v0.7h-0.7zM172.4 174.2h0.7v0.7h-0.7zM167.4 179.6h0.7v0.7h-0.7zM180.6 178.9h0.7v0.7h-0.7z"/><path d="M169.3 178.9h0.7v0.7h-0.7zM168.8 178.5h0.7v0.7h-0.7zM174.5 172.1h0.7v0.7h-0.7zM167.2 174.4h0.7v0.7h-0.7zM173.1 177.6h0.7v0.7h-0.7z"/><path d="M176.3 170.9h0.7v0.7h-0.7zM173.0 173.5h0.7v0.7h-0.7zM170.6 177.1h0.7v0.7h-0.7zM167.7 173.8h0.7v0.7h-0.7zM166.5 175.7h0.7v0.7h-0.7z"/><path d="M168.4 172.8h0.7v0.7h-0.7zM172.1 173.1h0.7v0.7h-0.7zM175.1 174.0h0.7v0.7h-0.7zM173.1 177.6h0.7v0.7h-0.7zM167.5 173.8h0.7v0.7h-0.7z"/><path d="M168.3 173.4h0.7v0.7h-0.7zM167.7 183.1h0.7v0.7h-0.7zM167.5 181.9h0.7v0.7h-0.7zM173.6 170.5h0.7v0.7h-0.7zM162.3 176.5h0.7v0.7h-0.7z"/><path d="M163.3 176.9h0.7v0.7h-0.7zM173.6 178.2h0.7v0.7h-0.7zM170.2 174.4h0.7v0.7h-0.7zM171.8 174.6h0.7v0.7h-0.7zM169.3 173.6h0.7v0.7h-0.7z"/></g>
<defs><radialGradient id="rg224"><stop offset="0" stop-color="#f0f0f0"/><stop offset="0.22" stop-color="#f0f0f0"/><stop offset="0.6" stop-color="#c8c8c8"/><stop offset="0.9" stop-color="#b4b4b4"/><stop offset="1" stop-color="#bebebe"/></radialGradient></defs>
<ellipse cx="162.4" cy="184.0" rx="8.74" ry="11.87" transform="rotate(15 162.4 184.0)" fill="#cccccc" opacity="0.85" filter="url(#b10)"/>
<ellipse cx="162.4" cy="184.0" rx="7.6" ry="10.6" transform="rotate(15 162.4 184.0)" fill="url(#rg224)" stroke="#909090" stroke-width="0.7" filter="url(#b04)"/>
<ellipse cx="162.4" cy="184.0" rx="6.08" ry="8.48" transform="rotate(15 162.4 184.0)" fill="none" stroke="#9a9a9a" stroke-width="0.45" opacity="0.8" filter="url(#b04)"/>
<ellipse cx="162.4" cy="184.0" rx="4.41" ry="6.15" transform="rotate(15 162.4 184.0)" fill="none" stroke="#aaa" stroke-width="0.4" opacity="0.7" filter="url(#b04)"/>
<g fill="#8a8a8a" fill-opacity="0.3"><path d="M167.1 181.7h0.6v0.6h-0.6zM165.0 178.4h0.6v0.6h-0.6zM161.4 176.2h0.6v0.6h-0.6zM160.5 186.9h0.6v0.6h-0.6zM163.8 181.5h0.6v0.6h-0.6z"/><path d="M164.7 182.6h0.6v0.6h-0.6zM163.1 185.4h0.6v0.6h-0.6zM167.3 171.9h0.6v0.6h-0.6zM156.4 186.3h0.6v0.6h-0.6zM158.7 194.7h0.6v0.6h-0.6z"/><path d="M162.0 180.7h0.6v0.6h-0.6zM166.7 187.9h0.6v0.6h-0.6zM168.2 188.0h0.6v0.6h-0.6zM160.4 187.1h0.6v0.6h-0.6zM159.9 180.7h0.6v0.6h-0.6z"/><path d="M160.4 182.1h0.6v0.6h-0.6zM165.5 182.1h0.6v0.6h-0.6zM163.9 181.5h0.6v0.6h-0.6zM168.9 170.9h0.6v0.6h-0.6zM161.1 184.3h0.6v0.6h-0.6z"/><path d="M156.9 187.7h0.6v0.6h-0.6zM161.2 190.2h0.6v0.6h-0.6zM164.7 187.8h0.6v0.6h-0.6zM163.0 178.2h0.6v0.6h-0.6zM161.9 181.2h0.6v0.6h-0.6z"/><path d="M163.6 181.6h0.6v0.6h-0.6zM175.1 178.7h0.6v0.6h-0.6zM166.9 182.5h0.6v0.6h-0.6zM160.0 188.0h0.6v0.6h-0.6zM163.7 177.7h0.6v0.6h-0.6z"/><path d="M163.8 183.1h0.6v0.6h-0.6zM154.5 182.7h0.6v0.6h-0.6zM159.3 179.0h0.6v0.6h-0.6zM163.4 185.6h0.6v0.6h-0.6zM158.2 194.2h0.6v0.6h-0.6z"/><path d="M164.4 181.1h0.6v0.6h-0.6zM163.1 183.3h0.6v0.6h-0.6zM156.4 173.8h0.6v0.6h-0.6zM154.4 192.6h0.6v0.6h-0.6zM161.8 182.2h0.6v0.6h-0.6z"/><path d="M158.8 188.0h0.6v0.6h-0.6zM159.9 192.2h0.6v0.6h-0.6zM162.7 192.6h0.6v0.6h-0.6zM161.2 185.4h0.6v0.6h-0.6zM160.8 182.5h0.6v0.6h-0.6z"/><path d="M156.7 179.2h0.6v0.6h-0.6zM159.6 179.6h0.6v0.6h-0.6zM166.1 186.1h0.6v0.6h-0.6zM165.3 189.1h0.6v0.6h-0.6zM164.0 189.5h0.6v0.6h-0.6z"/><path d="M158.9 187.1h0.6v0.6h-0.6zM161.7 180.8h0.6v0.6h-0.6zM163.5 195.5h0.6v0.6h-0.6zM156.3 191.3h0.6v0.6h-0.6zM166.2 180.3h0.6v0.6h-0.6z"/><path d="M162.6 185.8h0.6v0.6h-0.6zM163.9 182.3h0.6v0.6h-0.6zM157.5 182.6h0.6v0.6h-0.6zM164.1 188.4h0.6v0.6h-0.6zM163.0 189.8h0.6v0.6h-0.6z"/><path d="M158.6 182.6h0.6v0.6h-0.6zM162.0 189.0h0.6v0.6h-0.6zM162.0 186.4h0.6v0.6h-0.6zM159.8 194.2h0.6v0.6h-0.6zM154.4 181.5h0.6v0.6h-0.6z"/><path d="M170.5 187.2h0.6v0.6h-0.6zM155.4 182.6h0.6v0.6h-0.6zM157.9 179.0h0.6v0.6h-0.6zM160.6 192.4h0.6v0.6h-0.6zM162.9 187.4h0.6v0.6h-0.6z"/><path d="M165.4 185.7h0.6v0.6h-0.6zM159.2 182.4h0.6v0.6h-0.6zM163.7 182.7h0.6v0.6h-0.6zM160.2 181.3h0.6v0.6h-0.6zM158.1 177.2h0.6v0.6h-0.6z"/><path d="M162.3 181.8h0.6v0.6h-0.6zM160.4 190.7h0.6v0.6h-0.6zM163.2 183.8h0.6v0.6h-0.6zM159.4 177.3h0.6v0.6h-0.6zM164.6 179.8h0.6v0.6h-0.6z"/><path d="M165.0 178.8h0.6v0.6h-0.6zM162.7 183.5h0.6v0.6h-0.6zM166.1 182.7h0.6v0.6h-0.6zM160.5 184.6h0.6v0.6h-0.6zM160.1 192.1h0.6v0.6h-0.6z"/><path d="M161.9 180.8h0.6v0.6h-0.6zM160.3 185.7h0.6v0.6h-0.6zM162.0 187.3h0.6v0.6h-0.6zM153.9 194.6h0.6v0.6h-0.6zM168.6 185.3h0.6v0.6h-0.6z"/></g>
<polygon points="180.04,165.63 184.85,169.12 187.13,174.21 185.15,179.65 179.46,181.74 173.54,181.02 169.41,176.72 170.29,171.14 173.93,166.77" fill="none" stroke="#333" stroke-width="0.6"/>
<text x="193.30" y="165.60" font-size="6.7" text-anchor="middle" font-weight="normal" fill="#222" stroke="#222" stroke-width="0.1" textLength="11.9" lengthAdjust="spacingAndGlyphs">2.88</text>
<rect x="215.00" y="146.60" width="52.80" height="52.70" fill="none" stroke="#777" stroke-width="0.6"/>
<rect x="210.00" y="149.79" width="1.80" height="1.20" fill="#bbb" stroke="none" stroke-width="1"/>
<rect x="211.80" y="148.79" width="0.90" height="0.90" fill="#ccc" stroke="none" stroke-width="1"/>
<line x1="213.70" y1="150.29" x2="215.00" y2="150.29" stroke="#666" stroke-width="0.5"/>
<rect x="210.00" y="161.38" width="1.80" height="1.20" fill="#bbb" stroke="none" stroke-width="1"/>
<rect x="211.80" y="160.38" width="0.90" height="0.90" fill="#ccc" stroke="none" stroke-width="1"/>
<line x1="213.70" y1="161.88" x2="215.00" y2="161.88" stroke="#666" stroke-width="0.5"/>
<rect x="210.00" y="175.35" width="1.80" height="1.20" fill="#bbb" stroke="none" stroke-width="1"/>
<rect x="211.80" y="174.35" width="0.90" height="0.90" fill="#ccc" stroke="none" stroke-width="1"/>
<line x1="213.70" y1="175.85" x2="215.00" y2="175.85" stroke="#666" stroke-width="0.5"/>
<rect x="211.00" y="187.21" width="1.50" height="1.10" fill="#bbb" stroke="none" stroke-width="1"/>
<line x1="213.70" y1="187.71" x2="215.00" y2="187.71" stroke="#666" stroke-width="0.5"/>
<rect x="211.00" y="192.74" width="1.50" height="1.10" fill="#bbb" stroke="none" stroke-width="1"/>
<line x1="213.70" y1="193.24" x2="215.00" y2="193.24" stroke="#666" stroke-width="0.5"/>
<rect x="211.00" y="196.43" width="1.50" height="1.10" fill="#bbb" stroke="none" stroke-width="1"/>
<line x1="213.70" y1="196.93" x2="215.00" y2="196.93" stroke="#666" stroke-width="0.5"/>
<rect x="222.16" y="201.90" width="1.10" height="1.20" fill="#bbb" stroke="none" stroke-width="1"/>
<line x1="222.66" y1="199.30" x2="222.66" y2="200.60" stroke="#666" stroke-width="0.5"/>
<rect x="238.48" y="201.90" width="1.90" height="1.20" fill="#bbb" stroke="none" stroke-width="1"/>
<rect x="240.38" y="201.10" width="0.90" height="0.80" fill="#ccc" stroke="none" stroke-width="1"/>
<line x1="240.08" y1="199.30" x2="240.08" y2="200.60" stroke="#666" stroke-width="0.5"/>
<rect x="250.62" y="201.90" width="1.90" height="1.20" fill="#bbb" stroke="none" stroke-width="1"/>
<rect x="252.52" y="201.10" width="0.90" height="0.80" fill="#ccc" stroke="none" stroke-width="1"/>
<line x1="252.22" y1="199.30" x2="252.22" y2="200.60" stroke="#666" stroke-width="0.5"/>
<rect x="262.77" y="201.90" width="1.90" height="1.20" fill="#bbb" stroke="none" stroke-width="1"/>
<rect x="264.67" y="201.10" width="0.90" height="0.80" fill="#ccc" stroke="none" stroke-width="1"/>
<line x1="264.37" y1="199.30" x2="264.37" y2="200.60" stroke="#666" stroke-width="0.5"/>
<line x1="217.64" y1="199.30" x2="217.64" y2="200.20" stroke="#555" stroke-width="0.45"/>
<line x1="218.80" y1="199.30" x2="218.80" y2="200.20" stroke="#555" stroke-width="0.45"/>
<line x1="219.96" y1="199.30" x2="219.96" y2="200.20" stroke="#555" stroke-width="0.45"/>
<line x1="221.12" y1="199.30" x2="221.12" y2="200.20" stroke="#555" stroke-width="0.45"/>
<line x1="222.29" y1="199.30" x2="222.29" y2="200.20" stroke="#555" stroke-width="0.45"/>
<line x1="223.45" y1="199.30" x2="223.45" y2="200.20" stroke="#555" stroke-width="0.45"/>
<line x1="224.61" y1="199.30" x2="224.61" y2="200.20" stroke="#555" stroke-width="0.45"/>
<line x1="225.77" y1="199.30" x2="225.77" y2="200.20" stroke="#555" stroke-width="0.45"/>
<line x1="226.93" y1="199.30" x2="226.93" y2="200.20" stroke="#555" stroke-width="0.45"/>
<line x1="230.84" y1="199.30" x2="230.84" y2="200.00" stroke="#888" stroke-width="0.35"/>
<line x1="236.65" y1="199.30" x2="236.65" y2="200.00" stroke="#888" stroke-width="0.35"/>
<line x1="242.46" y1="199.30" x2="242.46" y2="200.00" stroke="#888" stroke-width="0.35"/>
<line x1="248.26" y1="199.30" x2="248.26" y2="200.00" stroke="#888" stroke-width="0.35"/>
<line x1="254.07" y1="199.30" x2="254.07" y2="200.00" stroke="#888" stroke-width="0.35"/>
<line x1="259.88" y1="199.30" x2="259.88" y2="200.00" stroke="#888" stroke-width="0.35"/>
<line x1="214.10" y1="197.72" x2="215.00" y2="197.72" stroke="#666" stroke-width="0.4"/>
<line x1="214.10" y1="196.56" x2="215.00" y2="196.56" stroke="#666" stroke-width="0.4"/>
<line x1="214.10" y1="195.40" x2="215.00" y2="195.40" stroke="#666" stroke-width="0.4"/>
<line x1="214.10" y1="194.24" x2="215.00" y2="194.24" stroke="#666" stroke-width="0.4"/>
<line x1="214.10" y1="193.08" x2="215.00" y2="193.08" stroke="#666" stroke-width="0.4"/>
<line x1="214.10" y1="191.92" x2="215.00" y2="191.92" stroke="#666" stroke-width="0.4"/>
<line x1="214.10" y1="190.76" x2="215.00" y2="190.76" stroke="#666" stroke-width="0.4"/>
<line x1="214.10" y1="189.60" x2="215.00" y2="189.60" stroke="#666" stroke-width="0.4"/>
<g fill="#7a7a7a" fill-opacity="0.45"><path d="M218.1 182.3h0.7v0.7h-0.7zM234.5 165.4h0.7v0.7h-0.7zM230.0 171.0h0.7v0.7h-0.7zM226.7 195.6h0.7v0.7h-0.7zM237.0 172.6h0.7v0.7h-0.7z"/><path d="M234.0 193.3h0.7v0.7h-0.7zM223.1 186.8h0.7v0.7h-0.7zM237.7 183.3h0.7v0.7h-0.7zM227.8 178.6h0.7v0.7h-0.7zM239.3 167.4h0.7v0.7h-0.7z"/><path d="M238.5 177.8h0.7v0.7h-0.7zM236.6 171.4h0.7v0.7h-0.7zM221.6 176.6h0.7v0.7h-0.7zM235.9 171.3h0.7v0.7h-0.7zM232.2 179.1h0.7v0.7h-0.7z"/><path d="M235.8 182.9h0.7v0.7h-0.7zM230.3 182.7h0.7v0.7h-0.7zM239.6 183.5h0.7v0.7h-0.7zM225.6 189.1h0.7v0.7h-0.7zM221.2 183.6h0.7v0.7h-0.7z"/><path d="M225.6 169.6h0.7v0.7h-0.7zM232.9 171.4h0.7v0.7h-0.7zM240.5 180.8h0.7v0.7h-0.7zM223.6 184.6h0.7v0.7h-0.7zM222.5 167.7h0.7v0.7h-0.7z"/><path d="M218.9 191.7h0.7v0.7h-0.7zM236.6 171.8h0.7v0.7h-0.7zM234.8 185.7h0.7v0.7h-0.7zM229.9 184.6h0.7v0.7h-0.7zM231.7 175.7h0.7v0.7h-0.7z"/><path d="M222.0 175.7h0.7v0.7h-0.7zM222.8 187.7h0.7v0.7h-0.7zM223.7 177.2h0.7v0.7h-0.7zM230.5 188.1h0.7v0.7h-0.7zM226.7 173.7h0.7v0.7h-0.7z"/><path d="M223.4 168.1h0.7v0.7h-0.7zM232.0 194.4h0.7v0.7h-0.7zM238.2 190.8h0.7v0.7h-0.7zM227.2 190.2h0.7v0.7h-0.7zM233.7 182.8h0.7v0.7h-0.7z"/><path d="M218.3 168.5h0.7v0.7h-0.7zM218.4 187.8h0.7v0.7h-0.7zM235.5 182.6h0.7v0.7h-0.7zM231.3 184.1h0.7v0.7h-0.7zM229.9 179.3h0.7v0.7h-0.7z"/><path d="M226.5 183.2h0.7v0.7h-0.7zM224.5 191.3h0.7v0.7h-0.7zM232.1 191.7h0.7v0.7h-0.7zM234.3 176.8h0.7v0.7h-0.7zM237.0 177.5h0.7v0.7h-0.7z"/><path d="M233.9 191.2h0.7v0.7h-0.7zM217.3 191.2h0.7v0.7h-0.7zM223.7 175.8h0.7v0.7h-0.7zM216.6 178.6h0.7v0.7h-0.7zM235.1 179.5h0.7v0.7h-0.7z"/><path d="M237.7 192.4h0.7v0.7h-0.7zM225.7 172.2h0.7v0.7h-0.7zM237.9 176.8h0.7v0.7h-0.7zM227.3 180.9h0.7v0.7h-0.7zM223.8 187.0h0.7v0.7h-0.7z"/><path d="M242.3 181.8h0.7v0.7h-0.7zM230.0 193.9h0.7v0.7h-0.7zM225.0 181.5h0.7v0.7h-0.7zM224.5 176.8h0.7v0.7h-0.7zM229.0 176.2h0.7v0.7h-0.7z"/><path d="M220.2 178.9h0.7v0.7h-0.7zM237.2 184.2h0.7v0.7h-0.7zM233.5 172.0h0.7v0.7h-0.7zM227.4 169.7h0.7v0.7h-0.7zM224.6 188.1h0.7v0.7h-0.7z"/><path d="M216.9 172.7h0.7v0.7h-0.7zM230.5 176.0h0.7v0.7h-0.7zM229.9 192.7h0.7v0.7h-0.7zM230.6 180.5h0.7v0.7h-0.7zM227.7 177.9h0.7v0.7h-0.7z"/><path d="M225.0 185.7h0.7v0.7h-0.7zM222.4 190.8h0.7v0.7h-0.7zM245.6 183.4h0.7v0.7h-0.7zM227.1 190.8h0.7v0.7h-0.7zM231.6 182.4h0.7v0.7h-0.7z"/><path d="M221.1 190.8h0.7v0.7h-0.7zM229.8 188.6h0.7v0.7h-0.7zM219.8 187.1h0.7v0.7h-0.7zM232.5 183.2h0.7v0.7h-0.7zM221.7 169.7h0.7v0.7h-0.7z"/><path d="M223.8 187.4h0.7v0.7h-0.7zM229.6 173.6h0.7v0.7h-0.7zM218.1 176.0h0.7v0.7h-0.7zM228.6 176.3h0.7v0.7h-0.7zM221.3 180.4h0.7v0.7h-0.7z"/><path d="M224.2 177.3h0.7v0.7h-0.7zM227.6 180.8h0.7v0.7h-0.7zM233.5 174.5h0.7v0.7h-0.7zM224.4 189.5h0.7v0.7h-0.7zM233.5 190.0h0.7v0.7h-0.7z"/><path d="M230.4 170.3h0.7v0.7h-0.7zM230.0 189.3h0.7v0.7h-0.7zM220.1 162.3h0.7v0.7h-0.7zM222.1 171.4h0.7v0.7h-0.7zM230.0 175.0h0.7v0.7h-0.7z"/><path d="M238.9 180.9h0.7v0.7h-0.7zM220.9 189.5h0.7v0.7h-0.7zM230.9 176.3h0.7v0.7h-0.7zM218.8 178.9h0.7v0.7h-0.7zM223.6 165.0h0.7v0.7h-0.7z"/><path d="M229.4 190.3h0.7v0.7h-0.7zM232.4 188.6h0.7v0.7h-0.7zM224.7 172.1h0.7v0.7h-0.7zM217.3 187.6h0.7v0.7h-0.7zM234.2 168.1h0.7v0.7h-0.7z"/><path d="M230.0 195.4h0.7v0.7h-0.7zM229.6 173.1h0.7v0.7h-0.7zM241.7 175.5h0.7v0.7h-0.7zM230.4 167.1h0.7v0.7h-0.7zM221.9 166.6h0.7v0.7h-0.7z"/><path d="M231.5 195.2h0.7v0.7h-0.7zM226.9 171.1h0.7v0.7h-0.7zM225.4 186.3h0.7v0.7h-0.7zM218.8 170.7h0.7v0.7h-0.7zM224.4 189.0h0.7v0.7h-0.7z"/><path d="M226.1 187.2h0.7v0.7h-0.7zM223.7 160.0h0.7v0.7h-0.7zM230.9 176.1h0.7v0.7h-0.7zM226.6 179.8h0.7v0.7h-0.7zM231.7 177.6h0.7v0.7h-0.7z"/><path d="M236.5 186.2h0.7v0.7h-0.7zM228.9 189.5h0.7v0.7h-0.7zM232.9 188.6h0.7v0.7h-0.7zM216.0 174.7h0.7v0.7h-0.7zM238.4 190.7h0.7v0.7h-0.7z"/><path d="M229.5 188.2h0.7v0.7h-0.7zM223.8 176.3h0.7v0.7h-0.7zM219.6 191.9h0.7v0.7h-0.7zM232.5 174.1h0.7v0.7h-0.7zM237.9 189.3h0.7v0.7h-0.7z"/><path d="M234.4 187.3h0.7v0.7h-0.7zM224.0 184.1h0.7v0.7h-0.7zM221.6 171.0h0.7v0.7h-0.7zM221.7 177.2h0.7v0.7h-0.7zM217.5 179.9h0.7v0.7h-0.7z"/><path d="M239.5 186.2h0.7v0.7h-0.7zM233.3 183.0h0.7v0.7h-0.7zM229.4 183.7h0.7v0.7h-0.7zM222.7 182.9h0.7v0.7h-0.7zM227.1 173.5h0.7v0.7h-0.7z"/><path d="M222.9 187.3h0.7v0.7h-0.7zM220.9 186.0h0.7v0.7h-0.7zM227.1 197.6h0.7v0.7h-0.7zM219.4 180.3h0.7v0.7h-0.7zM226.8 197.0h0.7v0.7h-0.7z"/><path d="M226.8 190.2h0.7v0.7h-0.7zM217.8 175.5h0.7v0.7h-0.7zM238.8 183.9h0.7v0.7h-0.7zM243.4 181.1h0.7v0.7h-0.7zM228.4 169.1h0.7v0.7h-0.7z"/><path d="M230.5 186.7h0.7v0.7h-0.7zM240.3 188.4h0.7v0.7h-0.7zM228.1 170.8h0.7v0.7h-0.7zM223.9 191.2h0.7v0.7h-0.7zM229.0 195.1h0.7v0.7h-0.7z"/><path d="M232.8 184.5h0.7v0.7h-0.7zM230.5 185.9h0.7v0.7h-0.7zM231.7 175.0h0.7v0.7h-0.7zM228.7 186.4h0.7v0.7h-0.7zM230.3 197.5h0.7v0.7h-0.7z"/><path d="M239.5 178.0h0.7v0.7h-0.7zM228.2 186.9h0.7v0.7h-0.7zM220.0 177.2h0.7v0.7h-0.7zM226.3 190.0h0.7v0.7h-0.7zM241.3 189.9h0.7v0.7h-0.7z"/><path d="M227.9 161.9h0.7v0.7h-0.7zM234.5 184.1h0.7v0.7h-0.7zM228.2 174.6h0.7v0.7h-0.7zM235.9 169.3h0.7v0.7h-0.7zM227.1 184.5h0.7v0.7h-0.7z"/><path d="M225.8 195.0h0.7v0.7h-0.7zM225.7 183.9h0.7v0.7h-0.7zM236.2 171.6h0.7v0.7h-0.7zM224.4 183.3h0.7v0.7h-0.7zM235.2 178.2h0.7v0.7h-0.7z"/><path d="M231.4 188.1h0.7v0.7h-0.7zM219.6 167.8h0.7v0.7h-0.7zM216.3 181.8h0.7v0.7h-0.7zM226.4 189.9h0.7v0.7h-0.7zM233.7 180.0h0.7v0.7h-0.7z"/><path d="M232.3 192.3h0.7v0.7h-0.7zM228.9 188.3h0.7v0.7h-0.7zM216.8 183.9h0.7v0.7h-0.7zM222.2 171.1h0.7v0.7h-0.7zM223.9 183.8h0.7v0.7h-0.7z"/><path d="M227.0 180.3h0.7v0.7h-0.7zM219.2 183.0h0.7v0.7h-0.7zM224.7 169.7h0.7v0.7h-0.7zM224.0 195.9h0.7v0.7h-0.7zM226.3 173.4h0.7v0.7h-0.7z"/><path d="M225.1 180.9h0.7v0.7h-0.7zM225.3 192.1h0.7v0.7h-0.7zM234.0 168.4h0.7v0.7h-0.7zM221.8 170.6h0.7v0.7h-0.7zM229.4 185.0h0.7v0.7h-0.7z"/><path d="M239.9 184.3h0.7v0.7h-0.7zM228.6 184.5h0.7v0.7h-0.7zM225.3 196.5h0.7v0.7h-0.7zM237.2 180.5h0.7v0.7h-0.7zM232.4 181.3h0.7v0.7h-0.7z"/><path d="M227.1 184.8h0.7v0.7h-0.7zM227.9 179.2h0.7v0.7h-0.7zM238.2 183.9h0.7v0.7h-0.7zM228.7 193.3h0.7v0.7h-0.7zM233.9 195.3h0.7v0.7h-0.7z"/><path d="M242.0 174.2h0.7v0.7h-0.7zM240.4 187.2h0.7v0.7h-0.7zM215.8 174.4h0.7v0.7h-0.7zM216.9 180.4h0.7v0.7h-0.7zM218.5 171.8h0.7v0.7h-0.7z"/><path d="M228.4 185.2h0.7v0.7h-0.7zM221.6 179.7h0.7v0.7h-0.7zM225.8 183.7h0.7v0.7h-0.7zM227.1 181.3h0.7v0.7h-0.7zM236.6 171.0h0.7v0.7h-0.7z"/><path d="M222.9 183.5h0.7v0.7h-0.7zM225.1 177.7h0.7v0.7h-0.7zM223.1 184.2h0.7v0.7h-0.7zM235.9 184.0h0.7v0.7h-0.7zM223.9 185.8h0.7v0.7h-0.7z"/><path d="M229.4 166.1h0.7v0.7h-0.7zM229.4 180.5h0.7v0.7h-0.7zM221.2 187.6h0.7v0.7h-0.7zM228.3 178.5h0.7v0.7h-0.7zM227.0 182.3h0.7v0.7h-0.7z"/><path d="M229.2 186.0h0.7v0.7h-0.7zM226.2 171.4h0.7v0.7h-0.7zM219.2 180.0h0.7v0.7h-0.7zM216.8 187.6h0.7v0.7h-0.7zM221.4 165.2h0.7v0.7h-0.7z"/><path d="M229.4 167.5h0.7v0.7h-0.7zM240.4 177.7h0.7v0.7h-0.7zM226.8 181.0h0.7v0.7h-0.7zM225.0 166.4h0.7v0.7h-0.7zM224.6 190.5h0.7v0.7h-0.7z"/><path d="M221.3 188.5h0.7v0.7h-0.7zM231.6 190.2h0.7v0.7h-0.7zM237.3 184.5h0.7v0.7h-0.7zM239.2 180.1h0.7v0.7h-0.7zM244.8 162.6h0.7v0.7h-0.7z"/><path d="M228.6 176.3h0.7v0.7h-0.7zM224.3 192.2h0.7v0.7h-0.7zM231.5 185.4h0.7v0.7h-0.7zM242.1 173.7h0.7v0.7h-0.7zM217.4 194.8h0.7v0.7h-0.7z"/><path d="M233.8 165.9h0.7v0.7h-0.7zM231.8 173.6h0.7v0.7h-0.7zM234.4 195.9h0.7v0.7h-0.7zM219.8 193.4h0.7v0.7h-0.7zM218.6 189.6h0.7v0.7h-0.7z"/><path d="M231.0 183.2h0.7v0.7h-0.7zM217.3 178.1h0.7v0.7h-0.7zM225.5 160.4h0.7v0.7h-0.7zM229.9 187.5h0.7v0.7h-0.7zM232.0 185.3h0.7v0.7h-0.7z"/><path d="M229.0 156.4h0.7v0.7h-0.7zM227.8 192.5h0.7v0.7h-0.7zM225.7 169.9h0.7v0.7h-0.7zM230.2 168.7h0.7v0.7h-0.7zM224.9 189.9h0.7v0.7h-0.7z"/><path d="M236.7 188.4h0.7v0.7h-0.7zM226.3 190.1h0.7v0.7h-0.7zM237.3 183.1h0.7v0.7h-0.7zM219.8 174.1h0.7v0.7h-0.7zM219.8 173.2h0.7v0.7h-0.7z"/><path d="M225.0 186.0h0.7v0.7h-0.7zM227.6 184.2h0.7v0.7h-0.7zM223.1 186.2h0.7v0.7h-0.7zM231.1 191.5h0.7v0.7h-0.7zM237.9 183.6h0.7v0.7h-0.7z"/><path d="M220.9 197.4h0.7v0.7h-0.7zM227.1 187.2h0.7v0.7h-0.7zM222.0 191.0h0.7v0.7h-0.7zM226.1 173.8h0.7v0.7h-0.7zM227.2 179.3h0.7v0.7h-0.7z"/><path d="M233.4 181.6h0.7v0.7h-0.7zM228.0 181.6h0.7v0.7h-0.7zM230.5 178.4h0.7v0.7h-0.7zM237.8 173.0h0.7v0.7h-0.7zM225.6 176.4h0.7v0.7h-0.7z"/><path d="M231.1 184.8h0.7v0.7h-0.7zM230.8 181.3h0.7v0.7h-0.7zM224.2 172.2h0.7v0.7h-0.7zM225.5 178.0h0.7v0.7h-0.7zM227.8 186.9h0.7v0.7h-0.7z"/><path d="M233.8 184.2h0.7v0.7h-0.7zM223.8 172.7h0.7v0.7h-0.7zM226.2 186.5h0.7v0.7h-0.7zM240.0 188.5h0.7v0.7h-0.7zM216.4 191.7h0.7v0.7h-0.7z"/><path d="M231.6 197.0h0.7v0.7h-0.7zM224.4 191.5h0.7v0.7h-0.7zM223.4 181.7h0.7v0.7h-0.7zM222.9 191.1h0.7v0.7h-0.7zM228.8 177.2h0.7v0.7h-0.7z"/><path d="M226.8 189.4h0.7v0.7h-0.7zM220.2 187.4h0.7v0.7h-0.7zM223.7 174.3h0.7v0.7h-0.7zM228.7 181.6h0.7v0.7h-0.7zM223.5 167.3h0.7v0.7h-0.7z"/><path d="M226.3 185.4h0.7v0.7h-0.7zM223.0 184.0h0.7v0.7h-0.7zM228.9 186.4h0.7v0.7h-0.7zM222.1 182.8h0.7v0.7h-0.7zM225.1 192.8h0.7v0.7h-0.7z"/><path d="M228.0 186.0h0.7v0.7h-0.7zM219.5 189.3h0.7v0.7h-0.7zM236.1 181.2h0.7v0.7h-0.7zM230.4 187.1h0.7v0.7h-0.7zM229.3 172.0h0.7v0.7h-0.7z"/><path d="M243.4 170.4h0.7v0.7h-0.7zM229.7 180.6h0.7v0.7h-0.7zM235.7 181.8h0.7v0.7h-0.7zM225.5 188.6h0.7v0.7h-0.7zM231.1 179.6h0.7v0.7h-0.7z"/><path d="M230.5 187.9h0.7v0.7h-0.7zM234.8 180.7h0.7v0.7h-0.7zM227.2 179.8h0.7v0.7h-0.7zM220.2 183.9h0.7v0.7h-0.7zM226.2 196.3h0.7v0.7h-0.7z"/><path d="M223.5 186.0h0.7v0.7h-0.7zM235.0 184.4h0.7v0.7h-0.7zM226.8 184.5h0.7v0.7h-0.7zM224.1 173.4h0.7v0.7h-0.7zM234.1 186.9h0.7v0.7h-0.7z"/><path d="M229.0 172.4h0.7v0.7h-0.7zM224.8 193.6h0.7v0.7h-0.7zM220.6 173.4h0.7v0.7h-0.7zM231.1 197.7h0.7v0.7h-0.7zM238.9 181.4h0.7v0.7h-0.7z"/><path d="M232.6 177.9h0.7v0.7h-0.7zM231.2 181.1h0.7v0.7h-0.7zM224.9 195.2h0.7v0.7h-0.7zM229.6 181.8h0.7v0.7h-0.7zM226.4 185.6h0.7v0.7h-0.7z"/><path d="M222.6 184.1h0.7v0.7h-0.7zM227.3 197.8h0.7v0.7h-0.7zM215.9 188.5h0.7v0.7h-0.7zM243.3 189.5h0.7v0.7h-0.7zM224.9 193.3h0.7v0.7h-0.7z"/><path d="M224.2 178.1h0.7v0.7h-0.7zM230.4 178.9h0.7v0.7h-0.7zM234.5 185.3h0.7v0.7h-0.7zM221.4 190.4h0.7v0.7h-0.7zM218.0 192.4h0.7v0.7h-0.7z"/><path d="M233.1 186.3h0.7v0.7h-0.7zM236.3 185.8h0.7v0.7h-0.7zM223.7 192.7h0.7v0.7h-0.7zM217.7 175.3h0.7v0.7h-0.7zM228.7 189.0h0.7v0.7h-0.7z"/><path d="M227.9 187.6h0.7v0.7h-0.7zM217.8 179.2h0.7v0.7h-0.7zM229.0 181.8h0.7v0.7h-0.7zM225.7 188.6h0.7v0.7h-0.7zM221.3 176.6h0.7v0.7h-0.7z"/><path d="M223.2 166.7h0.7v0.7h-0.7zM232.5 182.9h0.7v0.7h-0.7zM234.2 181.9h0.7v0.7h-0.7zM239.9 193.3h0.7v0.7h-0.7zM227.4 184.5h0.7v0.7h-0.7z"/><path d="M223.4 189.8h0.7v0.7h-0.7zM241.6 183.4h0.7v0.7h-0.7zM217.7 186.3h0.7v0.7h-0.7zM237.5 172.5h0.7v0.7h-0.7zM224.1 173.4h0.7v0.7h-0.7z"/><path d="M229.4 188.6h0.7v0.7h-0.7z"/></g>
<ellipse cx="236.5" cy="176" rx="5.85" ry="5.40" fill="#d4d4d4" opacity="0.8" filter="url(#b10)"/>
<g fill="#7a7a7a" fill-opacity="0.5"><path d="M234.3 170.0h0.7v0.7h-0.7zM241.4 167.6h0.7v0.7h-0.7zM239.1 175.7h0.7v0.7h-0.7zM243.2 182.1h0.7v0.7h-0.7zM234.0 173.8h0.7v0.7h-0.7z"/><path d="M235.8 172.2h0.7v0.7h-0.7zM235.4 179.9h0.7v0.7h-0.7zM229.9 172.9h0.7v0.7h-0.7zM241.7 180.5h0.7v0.7h-0.7zM233.6 171.3h0.7v0.7h-0.7z"/><path d="M234.3 167.8h0.7v0.7h-0.7zM241.0 177.3h0.7v0.7h-0.7zM234.8 168.7h0.7v0.7h-0.7zM235.1 173.0h0.7v0.7h-0.7zM244.0 175.7h0.7v0.7h-0.7z"/><path d="M235.4 180.4h0.7v0.7h-0.7zM239.2 175.6h0.7v0.7h-0.7zM225.2 179.1h0.7v0.7h-0.7zM239.2 174.5h0.7v0.7h-0.7zM236.9 171.5h0.7v0.7h-0.7z"/><path d="M234.0 168.3h0.7v0.7h-0.7zM237.7 178.4h0.7v0.7h-0.7zM236.0 179.2h0.7v0.7h-0.7zM238.3 176.8h0.7v0.7h-0.7zM231.7 177.2h0.7v0.7h-0.7z"/><path d="M240.5 179.7h0.7v0.7h-0.7zM242.0 175.1h0.7v0.7h-0.7zM230.5 179.9h0.7v0.7h-0.7zM233.4 176.0h0.7v0.7h-0.7zM235.3 175.5h0.7v0.7h-0.7z"/><path d="M235.6 173.0h0.7v0.7h-0.7zM226.4 181.7h0.7v0.7h-0.7zM239.2 167.7h0.7v0.7h-0.7zM233.6 169.8h0.7v0.7h-0.7zM235.9 163.9h0.7v0.7h-0.7z"/><path d="M236.7 183.3h0.7v0.7h-0.7zM234.3 178.5h0.7v0.7h-0.7zM240.1 171.0h0.7v0.7h-0.7zM243.3 169.9h0.7v0.7h-0.7zM234.1 173.5h0.7v0.7h-0.7z"/><path d="M241.4 177.6h0.7v0.7h-0.7zM236.5 172.1h0.7v0.7h-0.7zM236.5 175.9h0.7v0.7h-0.7zM237.7 182.4h0.7v0.7h-0.7zM239.3 176.6h0.7v0.7h-0.7z"/><path d="M233.7 182.3h0.7v0.7h-0.7zM237.0 175.8h0.7v0.7h-0.7zM242.0 184.4h0.7v0.7h-0.7zM238.7 175.8h0.7v0.7h-0.7zM232.2 179.5h0.7v0.7h-0.7z"/><path d="M233.1 179.2h0.7v0.7h-0.7zM232.7 175.2h0.7v0.7h-0.7zM237.7 176.7h0.7v0.7h-0.7zM236.7 177.5h0.7v0.7h-0.7zM232.6 169.7h0.7v0.7h-0.7z"/><path d="M233.5 183.2h0.7v0.7h-0.7zM236.7 171.6h0.7v0.7h-0.7zM233.3 175.0h0.7v0.7h-0.7zM241.8 174.6h0.7v0.7h-0.7zM238.3 177.1h0.7v0.7h-0.7z"/><path d="M235.7 171.2h0.7v0.7h-0.7zM236.3 172.4h0.7v0.7h-0.7zM240.4 168.8h0.7v0.7h-0.7zM240.1 180.2h0.7v0.7h-0.7zM236.9 182.7h0.7v0.7h-0.7z"/><path d="M240.7 169.1h0.7v0.7h-0.7zM235.9 177.6h0.7v0.7h-0.7zM234.5 170.1h0.7v0.7h-0.7zM237.4 178.3h0.7v0.7h-0.7zM234.6 174.1h0.7v0.7h-0.7z"/><path d="M234.6 172.7h0.7v0.7h-0.7zM234.7 180.1h0.7v0.7h-0.7zM229.7 172.4h0.7v0.7h-0.7zM242.6 178.8h0.7v0.7h-0.7zM235.9 179.4h0.7v0.7h-0.7z"/><path d="M233.3 169.4h0.7v0.7h-0.7zM230.8 167.6h0.7v0.7h-0.7zM236.2 179.5h0.7v0.7h-0.7zM235.2 172.3h0.7v0.7h-0.7zM237.2 178.7h0.7v0.7h-0.7z"/></g>
<defs><radialGradient id="rg285"><stop offset="0" stop-color="#efefef"/><stop offset="0.22" stop-color="#efefef"/><stop offset="0.6" stop-color="#c4c4c4"/><stop offset="0.9" stop-color="#b4b4b4"/><stop offset="1" stop-color="#bebebe"/></radialGradient></defs>
<ellipse cx="227.0" cy="183.6" rx="9.89" ry="12.54" transform="rotate(15 227.0 183.6)" fill="#cccccc" opacity="0.85" filter="url(#b10)"/>
<ellipse cx="227.0" cy="183.6" rx="8.6" ry="11.2" transform="rotate(15 227.0 183.6)" fill="url(#rg285)" stroke="#a0a0a0" stroke-width="0.7" filter="url(#b04)"/>
<ellipse cx="227.0" cy="183.6" rx="6.88" ry="8.96" transform="rotate(15 227.0 183.6)" fill="none" stroke="#9a9a9a" stroke-width="0.45" opacity="0.8" filter="url(#b04)"/>
<ellipse cx="227.0" cy="183.6" rx="4.99" ry="6.50" transform="rotate(15 227.0 183.6)" fill="none" stroke="#aaa" stroke-width="0.4" opacity="0.7" filter="url(#b04)"/>
<g fill="#8a8a8a" fill-opacity="0.3"><path d="M230.4 173.5h0.6v0.6h-0.6zM228.1 169.4h0.6v0.6h-0.6zM228.9 179.1h0.6v0.6h-0.6zM221.9 190.5h0.6v0.6h-0.6zM231.4 187.3h0.6v0.6h-0.6z"/><path d="M227.6 184.5h0.6v0.6h-0.6zM224.4 182.4h0.6v0.6h-0.6zM235.7 180.8h0.6v0.6h-0.6zM223.8 183.4h0.6v0.6h-0.6zM229.1 188.7h0.6v0.6h-0.6z"/><path d="M223.0 181.6h0.6v0.6h-0.6zM227.4 176.5h0.6v0.6h-0.6zM227.7 180.9h0.6v0.6h-0.6zM229.8 186.6h0.6v0.6h-0.6zM223.4 182.9h0.6v0.6h-0.6z"/><path d="M226.2 179.6h0.6v0.6h-0.6zM223.2 188.4h0.6v0.6h-0.6zM227.4 173.8h0.6v0.6h-0.6zM222.4 186.7h0.6v0.6h-0.6zM236.9 180.1h0.6v0.6h-0.6z"/><path d="M225.7 181.2h0.6v0.6h-0.6zM220.4 183.9h0.6v0.6h-0.6zM226.1 184.7h0.6v0.6h-0.6zM236.1 184.3h0.6v0.6h-0.6zM228.7 188.5h0.6v0.6h-0.6z"/><path d="M225.0 179.5h0.6v0.6h-0.6zM232.0 188.7h0.6v0.6h-0.6zM228.8 177.7h0.6v0.6h-0.6zM229.5 187.0h0.6v0.6h-0.6zM233.5 193.4h0.6v0.6h-0.6z"/><path d="M229.6 185.6h0.6v0.6h-0.6zM227.7 180.5h0.6v0.6h-0.6zM227.6 184.9h0.6v0.6h-0.6zM227.8 189.7h0.6v0.6h-0.6zM228.7 180.8h0.6v0.6h-0.6z"/><path d="M227.8 192.3h0.6v0.6h-0.6zM222.7 184.6h0.6v0.6h-0.6zM228.2 186.7h0.6v0.6h-0.6zM228.9 183.4h0.6v0.6h-0.6zM223.9 192.1h0.6v0.6h-0.6z"/><path d="M235.7 177.8h0.6v0.6h-0.6zM215.8 182.9h0.6v0.6h-0.6zM224.7 179.9h0.6v0.6h-0.6zM219.8 183.4h0.6v0.6h-0.6zM227.2 180.4h0.6v0.6h-0.6z"/><path d="M226.9 197.1h0.6v0.6h-0.6zM231.0 191.1h0.6v0.6h-0.6zM224.1 186.3h0.6v0.6h-0.6zM224.9 189.3h0.6v0.6h-0.6zM229.1 183.7h0.6v0.6h-0.6z"/><path d="M229.9 180.1h0.6v0.6h-0.6zM227.8 192.1h0.6v0.6h-0.6zM224.5 185.8h0.6v0.6h-0.6zM218.7 186.4h0.6v0.6h-0.6zM231.7 178.9h0.6v0.6h-0.6z"/><path d="M233.6 185.8h0.6v0.6h-0.6zM221.6 174.2h0.6v0.6h-0.6zM230.6 182.8h0.6v0.6h-0.6zM233.3 176.3h0.6v0.6h-0.6zM224.9 188.3h0.6v0.6h-0.6z"/><path d="M223.0 186.1h0.6v0.6h-0.6zM224.8 184.7h0.6v0.6h-0.6zM224.9 195.4h0.6v0.6h-0.6zM220.6 186.1h0.6v0.6h-0.6zM233.6 178.8h0.6v0.6h-0.6z"/><path d="M223.8 195.5h0.6v0.6h-0.6zM235.1 168.9h0.6v0.6h-0.6zM228.2 174.1h0.6v0.6h-0.6zM228.9 179.8h0.6v0.6h-0.6zM225.6 178.3h0.6v0.6h-0.6z"/><path d="M228.5 181.2h0.6v0.6h-0.6zM223.4 181.1h0.6v0.6h-0.6zM229.5 179.2h0.6v0.6h-0.6zM233.5 175.8h0.6v0.6h-0.6zM228.9 181.7h0.6v0.6h-0.6z"/><path d="M234.0 181.6h0.6v0.6h-0.6zM225.9 175.5h0.6v0.6h-0.6zM233.8 188.7h0.6v0.6h-0.6zM222.8 180.4h0.6v0.6h-0.6zM220.7 190.3h0.6v0.6h-0.6z"/><path d="M231.3 173.1h0.6v0.6h-0.6zM226.3 188.3h0.6v0.6h-0.6zM226.0 185.8h0.6v0.6h-0.6zM226.0 184.3h0.6v0.6h-0.6zM228.6 179.8h0.6v0.6h-0.6z"/><path d="M227.9 184.5h0.6v0.6h-0.6zM227.5 179.7h0.6v0.6h-0.6zM222.3 183.5h0.6v0.6h-0.6zM233.4 171.5h0.6v0.6h-0.6zM222.6 189.8h0.6v0.6h-0.6z"/></g>
<polygon points="242.54,165.13 247.07,168.62 249.23,173.71 247.35,179.15 241.99,181.24 236.40,180.52 232.51,176.22 233.33,170.64 236.77,166.27" fill="none" stroke="#333" stroke-width="0.6"/>
<text x="256.20" y="164.90" font-size="6.7" text-anchor="middle" font-weight="normal" fill="#222" stroke="#222" stroke-width="0.1" textLength="11.9" lengthAdjust="spacingAndGlyphs">13.4</text>
<rect x="25.80" y="223.30" width="52.60" height="52.30" fill="none" stroke="#777" stroke-width="0.6"/>
<rect x="20.80" y="226.46" width="1.80" height="1.20" fill="#bbb" stroke="none" stroke-width="1"/>
<rect x="22.60" y="225.46" width="0.90" height="0.90" fill="#ccc" stroke="none" stroke-width="1"/>
<line x1="24.50" y1="226.96" x2="25.80" y2="226.96" stroke="#666" stroke-width="0.5"/>
<rect x="20.80" y="237.97" width="1.80" height="1.20" fill="#bbb" stroke="none" stroke-width="1"/>
<rect x="22.60" y="236.97" width="0.90" height="0.90" fill="#ccc" stroke="none" stroke-width="1"/>
<line x1="24.50" y1="238.47" x2="25.80" y2="238.47" stroke="#666" stroke-width="0.5"/>
<rect x="20.80" y="251.83" width="1.80" height="1.20" fill="#bbb" stroke="none" stroke-width="1"/>
<rect x="22.60" y="250.83" width="0.90" height="0.90" fill="#ccc" stroke="none" stroke-width="1"/>
<line x1="24.50" y1="252.33" x2="25.80" y2="252.33" stroke="#666" stroke-width="0.5"/>
<rect x="21.80" y="263.59" width="1.50" height="1.10" fill="#bbb" stroke="none" stroke-width="1"/>
<line x1="24.50" y1="264.09" x2="25.80" y2="264.09" stroke="#666" stroke-width="0.5"/>
<rect x="21.80" y="269.09" width="1.50" height="1.10" fill="#bbb" stroke="none" stroke-width="1"/>
<line x1="24.50" y1="269.59" x2="25.80" y2="269.59" stroke="#666" stroke-width="0.5"/>
<rect x="21.80" y="272.75" width="1.50" height="1.10" fill="#bbb" stroke="none" stroke-width="1"/>
<line x1="24.50" y1="273.25" x2="25.80" y2="273.25" stroke="#666" stroke-width="0.5"/>
<rect x="32.93" y="278.20" width="1.10" height="1.20" fill="#bbb" stroke="none" stroke-width="1"/>
<line x1="33.43" y1="275.60" x2="33.43" y2="276.90" stroke="#666" stroke-width="0.5"/>
<rect x="49.19" y="278.20" width="1.90" height="1.20" fill="#bbb" stroke="none" stroke-width="1"/>
<rect x="51.09" y="277.40" width="0.90" height="0.80" fill="#ccc" stroke="none" stroke-width="1"/>
<line x1="50.79" y1="275.60" x2="50.79" y2="276.90" stroke="#666" stroke-width="0.5"/>
<rect x="61.28" y="278.20" width="1.90" height="1.20" fill="#bbb" stroke="none" stroke-width="1"/>
<rect x="63.18" y="277.40" width="0.90" height="0.80" fill="#ccc" stroke="none" stroke-width="1"/>
<line x1="62.88" y1="275.60" x2="62.88" y2="276.90" stroke="#666" stroke-width="0.5"/>
<rect x="73.38" y="278.20" width="1.90" height="1.20" fill="#bbb" stroke="none" stroke-width="1"/>
<rect x="75.28" y="277.40" width="0.90" height="0.80" fill="#ccc" stroke="none" stroke-width="1"/>
<line x1="74.98" y1="275.60" x2="74.98" y2="276.90" stroke="#666" stroke-width="0.5"/>
<line x1="28.43" y1="275.60" x2="28.43" y2="276.50" stroke="#555" stroke-width="0.45"/>
<line x1="29.59" y1="275.60" x2="29.59" y2="276.50" stroke="#555" stroke-width="0.45"/>
<line x1="30.74" y1="275.60" x2="30.74" y2="276.50" stroke="#555" stroke-width="0.45"/>
<line x1="31.90" y1="275.60" x2="31.90" y2="276.50" stroke="#555" stroke-width="0.45"/>
<line x1="33.06" y1="275.60" x2="33.06" y2="276.50" stroke="#555" stroke-width="0.45"/>
<line x1="34.22" y1="275.60" x2="34.22" y2="276.50" stroke="#555" stroke-width="0.45"/>
<line x1="35.37" y1="275.60" x2="35.37" y2="276.50" stroke="#555" stroke-width="0.45"/>
<line x1="36.53" y1="275.60" x2="36.53" y2="276.50" stroke="#555" stroke-width="0.45"/>
<line x1="37.69" y1="275.60" x2="37.69" y2="276.50" stroke="#555" stroke-width="0.45"/>
<line x1="41.58" y1="275.60" x2="41.58" y2="276.30" stroke="#888" stroke-width="0.35"/>
<line x1="47.37" y1="275.60" x2="47.37" y2="276.30" stroke="#888" stroke-width="0.35"/>
<line x1="53.15" y1="275.60" x2="53.15" y2="276.30" stroke="#888" stroke-width="0.35"/>
<line x1="58.94" y1="275.60" x2="58.94" y2="276.30" stroke="#888" stroke-width="0.35"/>
<line x1="64.72" y1="275.60" x2="64.72" y2="276.30" stroke="#888" stroke-width="0.35"/>
<line x1="70.51" y1="275.60" x2="70.51" y2="276.30" stroke="#888" stroke-width="0.35"/>
<line x1="24.90" y1="274.03" x2="25.80" y2="274.03" stroke="#666" stroke-width="0.4"/>
<line x1="24.90" y1="272.88" x2="25.80" y2="272.88" stroke="#666" stroke-width="0.4"/>
<line x1="24.90" y1="271.73" x2="25.80" y2="271.73" stroke="#666" stroke-width="0.4"/>
<line x1="24.90" y1="270.58" x2="25.80" y2="270.58" stroke="#666" stroke-width="0.4"/>
<line x1="24.90" y1="269.43" x2="25.80" y2="269.43" stroke="#666" stroke-width="0.4"/>
<line x1="24.90" y1="268.28" x2="25.80" y2="268.28" stroke="#666" stroke-width="0.4"/>
<line x1="24.90" y1="267.13" x2="25.80" y2="267.13" stroke="#666" stroke-width="0.4"/>
<line x1="24.90" y1="265.98" x2="25.80" y2="265.98" stroke="#666" stroke-width="0.4"/>
<g fill="#8a8a8a" fill-opacity="0.8"><path d="M35.8 255.7h0.7v0.7h-0.7zM31.1 250.6h0.7v0.7h-0.7zM30.8 245.7h0.7v0.7h-0.7zM38.8 231.2h0.7v0.7h-0.7zM28.3 244.0h0.7v0.7h-0.7z"/><path d="M30.2 242.9h0.7v0.7h-0.7zM27.8 248.5h0.7v0.7h-0.7zM36.3 234.4h0.7v0.7h-0.7zM31.3 257.6h0.7v0.7h-0.7zM35.3 249.5h0.7v0.7h-0.7z"/><path d="M37.9 229.0h0.7v0.7h-0.7zM37.8 246.2h0.7v0.7h-0.7zM28.8 241.2h0.7v0.7h-0.7zM35.1 230.8h0.7v0.7h-0.7zM27.7 252.3h0.7v0.7h-0.7z"/><path d="M32.3 239.0h0.7v0.7h-0.7zM34.0 252.7h0.7v0.7h-0.7zM38.0 234.7h0.7v0.7h-0.7zM40.1 241.3h0.7v0.7h-0.7zM26.9 239.7h0.7v0.7h-0.7z"/><path d="M31.4 234.2h0.7v0.7h-0.7zM26.5 237.3h0.7v0.7h-0.7zM30.8 233.7h0.7v0.7h-0.7zM37.4 244.8h0.7v0.7h-0.7zM28.7 232.4h0.7v0.7h-0.7z"/><path d="M33.1 257.5h0.7v0.7h-0.7zM37.0 252.5h0.7v0.7h-0.7zM33.1 233.6h0.7v0.7h-0.7zM36.4 251.4h0.7v0.7h-0.7zM31.1 254.8h0.7v0.7h-0.7z"/><path d="M28.8 234.4h0.7v0.7h-0.7zM38.4 228.7h0.7v0.7h-0.7zM26.7 255.8h0.7v0.7h-0.7zM33.1 257.5h0.7v0.7h-0.7zM32.7 232.4h0.7v0.7h-0.7z"/><path d="M29.5 241.0h0.7v0.7h-0.7zM29.2 246.6h0.7v0.7h-0.7zM33.0 240.9h0.7v0.7h-0.7zM35.6 243.8h0.7v0.7h-0.7zM31.9 228.1h0.7v0.7h-0.7z"/><path d="M33.4 238.5h0.7v0.7h-0.7zM32.1 235.3h0.7v0.7h-0.7zM28.3 235.8h0.7v0.7h-0.7zM31.3 246.6h0.7v0.7h-0.7zM33.0 255.9h0.7v0.7h-0.7z"/><path d="M34.3 250.2h0.7v0.7h-0.7zM37.0 251.1h0.7v0.7h-0.7zM32.0 236.4h0.7v0.7h-0.7zM28.6 253.9h0.7v0.7h-0.7zM34.0 257.1h0.7v0.7h-0.7z"/><path d="M32.7 241.6h0.7v0.7h-0.7zM34.1 252.6h0.7v0.7h-0.7zM33.7 248.9h0.7v0.7h-0.7zM35.2 247.7h0.7v0.7h-0.7zM35.7 258.8h0.7v0.7h-0.7z"/><path d="M30.5 235.5h0.7v0.7h-0.7zM37.5 234.1h0.7v0.7h-0.7zM34.8 247.1h0.7v0.7h-0.7zM35.8 237.3h0.7v0.7h-0.7zM34.3 230.6h0.7v0.7h-0.7z"/><path d="M34.9 233.9h0.7v0.7h-0.7zM31.7 233.6h0.7v0.7h-0.7zM36.4 242.8h0.7v0.7h-0.7zM36.1 257.1h0.7v0.7h-0.7zM31.2 246.2h0.7v0.7h-0.7z"/><path d="M33.5 232.4h0.7v0.7h-0.7zM33.7 249.6h0.7v0.7h-0.7zM34.2 257.8h0.7v0.7h-0.7z"/></g>
<g fill="#888" fill-opacity="0.55"><path d="M32.7 261.1h0.7v0.7h-0.7zM32.4 260.8h0.7v0.7h-0.7zM34.5 256.0h0.7v0.7h-0.7zM41.3 265.0h0.7v0.7h-0.7zM35.7 259.1h0.7v0.7h-0.7z"/><path d="M40.4 254.7h0.7v0.7h-0.7zM32.3 263.2h0.7v0.7h-0.7zM40.1 257.6h0.7v0.7h-0.7zM32.7 260.5h0.7v0.7h-0.7zM29.9 257.6h0.7v0.7h-0.7z"/><path d="M35.1 250.8h0.7v0.7h-0.7zM38.8 261.9h0.7v0.7h-0.7zM40.9 254.3h0.7v0.7h-0.7zM30.4 256.5h0.7v0.7h-0.7zM30.3 266.4h0.7v0.7h-0.7z"/><path d="M31.8 258.2h0.7v0.7h-0.7zM37.1 260.9h0.7v0.7h-0.7zM42.6 255.5h0.7v0.7h-0.7zM40.1 259.8h0.7v0.7h-0.7zM30.9 259.8h0.7v0.7h-0.7z"/><path d="M29.9 264.9h0.7v0.7h-0.7zM32.9 262.8h0.7v0.7h-0.7zM42.0 257.1h0.7v0.7h-0.7zM32.1 259.7h0.7v0.7h-0.7zM31.5 262.4h0.7v0.7h-0.7z"/><path d="M36.9 256.6h0.7v0.7h-0.7zM33.1 261.8h0.7v0.7h-0.7zM29.7 265.1h0.7v0.7h-0.7zM32.6 258.6h0.7v0.7h-0.7zM32.0 264.9h0.7v0.7h-0.7z"/><path d="M39.8 263.8h0.7v0.7h-0.7zM39.1 259.6h0.7v0.7h-0.7zM43.7 261.6h0.7v0.7h-0.7zM38.1 261.3h0.7v0.7h-0.7zM39.4 260.2h0.7v0.7h-0.7z"/><path d="M35.4 253.7h0.7v0.7h-0.7zM45.4 254.8h0.7v0.7h-0.7zM26.5 256.8h0.7v0.7h-0.7zM44.8 263.5h0.7v0.7h-0.7zM33.5 260.2h0.7v0.7h-0.7z"/><path d="M36.0 252.4h0.7v0.7h-0.7zM34.7 260.3h0.7v0.7h-0.7zM41.4 255.1h0.7v0.7h-0.7zM37.6 259.6h0.7v0.7h-0.7zM36.8 259.8h0.7v0.7h-0.7z"/><path d="M34.5 254.5h0.7v0.7h-0.7zM38.2 260.6h0.7v0.7h-0.7zM38.7 263.6h0.7v0.7h-0.7zM30.6 251.1h0.7v0.7h-0.7zM28.1 266.8h0.7v0.7h-0.7z"/><path d="M32.0 260.7h0.7v0.7h-0.7zM36.1 261.8h0.7v0.7h-0.7zM50.6 257.5h0.7v0.7h-0.7zM35.4 257.2h0.7v0.7h-0.7zM37.3 261.1h0.7v0.7h-0.7z"/><path d="M31.8 263.9h0.7v0.7h-0.7zM41.3 260.8h0.7v0.7h-0.7zM35.7 258.5h0.7v0.7h-0.7zM28.8 261.6h0.7v0.7h-0.7zM31.8 257.5h0.7v0.7h-0.7z"/><path d="M40.6 256.1h0.7v0.7h-0.7zM33.8 262.3h0.7v0.7h-0.7zM44.5 256.9h0.7v0.7h-0.7zM41.1 257.0h0.7v0.7h-0.7zM37.9 261.0h0.7v0.7h-0.7z"/><path d="M31.0 262.9h0.7v0.7h-0.7zM44.2 259.5h0.7v0.7h-0.7zM37.4 255.2h0.7v0.7h-0.7zM44.2 259.5h0.7v0.7h-0.7zM30.4 262.0h0.7v0.7h-0.7z"/><path d="M29.6 256.9h0.7v0.7h-0.7zM26.6 264.1h0.7v0.7h-0.7zM46.1 257.1h0.7v0.7h-0.7zM33.2 257.3h0.7v0.7h-0.7zM33.6 261.2h0.7v0.7h-0.7z"/><path d="M42.7 255.8h0.7v0.7h-0.7zM38.1 253.0h0.7v0.7h-0.7zM43.0 259.0h0.7v0.7h-0.7zM33.0 264.6h0.7v0.7h-0.7zM35.7 264.1h0.7v0.7h-0.7z"/><path d="M41.0 265.1h0.7v0.7h-0.7zM32.5 259.5h0.7v0.7h-0.7zM37.8 258.6h0.7v0.7h-0.7zM43.0 256.8h0.7v0.7h-0.7zM40.7 264.1h0.7v0.7h-0.7z"/><path d="M27.4 255.9h0.7v0.7h-0.7zM32.1 257.4h0.7v0.7h-0.7zM37.9 258.7h0.7v0.7h-0.7zM36.5 257.7h0.7v0.7h-0.7zM35.8 261.0h0.7v0.7h-0.7z"/><path d="M39.5 256.5h0.7v0.7h-0.7zM35.6 256.6h0.7v0.7h-0.7zM35.3 254.3h0.7v0.7h-0.7zM40.4 261.6h0.7v0.7h-0.7zM35.6 256.9h0.7v0.7h-0.7z"/><path d="M34.1 257.0h0.7v0.7h-0.7zM29.2 265.0h0.7v0.7h-0.7zM51.0 255.0h0.7v0.7h-0.7zM30.9 261.3h0.7v0.7h-0.7zM38.9 253.8h0.7v0.7h-0.7z"/><path d="M27.5 261.2h0.7v0.7h-0.7zM27.2 264.3h0.7v0.7h-0.7zM33.9 259.6h0.7v0.7h-0.7zM36.1 257.3h0.7v0.7h-0.7zM35.5 258.2h0.7v0.7h-0.7z"/><path d="M41.8 259.0h0.7v0.7h-0.7zM36.0 257.4h0.7v0.7h-0.7zM33.3 256.7h0.7v0.7h-0.7zM36.2 265.7h0.7v0.7h-0.7zM41.2 260.1h0.7v0.7h-0.7z"/><path d="M43.7 262.8h0.7v0.7h-0.7zM37.1 258.7h0.7v0.7h-0.7zM31.2 260.1h0.7v0.7h-0.7zM34.7 253.7h0.7v0.7h-0.7zM30.4 266.1h0.7v0.7h-0.7z"/><path d="M37.1 261.0h0.7v0.7h-0.7zM37.0 257.7h0.7v0.7h-0.7zM38.2 263.1h0.7v0.7h-0.7zM34.8 261.1h0.7v0.7h-0.7z"/></g>
<g fill="#8a8a8a" fill-opacity="0.7"><path d="M41.7 248.1h0.7v0.7h-0.7z"/></g>
<g fill="#8a8a8a" fill-opacity="0.7"><path d="M40.3 256.0h0.7v0.7h-0.7z"/></g>
<g fill="#8a8a8a" fill-opacity="0.7"><path d="M40.5 242.0h0.7v0.7h-0.7z"/></g>
<g fill="#8a8a8a" fill-opacity="0.7"><path d="M42.5 246.6h0.7v0.7h-0.7z"/></g>
<g fill="#8a8a8a" fill-opacity="0.7"><path d="M44.9 248.8h0.7v0.7h-0.7z"/></g>
<g fill="#8a8a8a" fill-opacity="0.7"><path d="M48.7 242.9h0.7v0.7h-0.7z"/></g>
<g fill="#8a8a8a" fill-opacity="0.7"><path d="M45.2 253.5h0.7v0.7h-0.7z"/></g>
<g fill="#8a8a8a" fill-opacity="0.7"><path d="M52.9 247.0h0.7v0.7h-0.7z"/></g>
<g fill="#8a8a8a" fill-opacity="0.7"><path d="M35.6 254.8h0.7v0.7h-0.7z"/></g>
<g fill="#8a8a8a" fill-opacity="0.7"><path d="M41.3 256.4h0.7v0.7h-0.7z"/></g>
<g fill="#8a8a8a" fill-opacity="0.7"><path d="M38.7 254.1h0.7v0.7h-0.7z"/></g>
<g fill="#8a8a8a" fill-opacity="0.7"><path d="M34.8 253.7h0.7v0.7h-0.7z"/></g>
<g fill="#8a8a8a" fill-opacity="0.7"><path d="M46.3 257.9h0.7v0.7h-0.7z"/></g>
<g fill="#8a8a8a" fill-opacity="0.7"><path d="M48.7 253.2h0.7v0.7h-0.7z"/></g>
<g fill="#8a8a8a" fill-opacity="0.7"><path d="M29.7 254.7h0.7v0.7h-0.7z"/></g>
<g fill="#8a8a8a" fill-opacity="0.7"><path d="M37.5 254.4h0.7v0.7h-0.7z"/></g>
<g fill="#8a8a8a" fill-opacity="0.7"><path d="M36.0 262.1h0.7v0.7h-0.7z"/></g>
<g fill="#8a8a8a" fill-opacity="0.7"><path d="M36.0 253.7h0.7v0.7h-0.7z"/></g>
<g fill="#8a8a8a" fill-opacity="0.7"><path d="M46.3 244.1h0.7v0.7h-0.7z"/></g>
<g fill="#8a8a8a" fill-opacity="0.7"><path d="M44.8 243.9h0.7v0.7h-0.7z"/></g>
<g fill="#8a8a8a" fill-opacity="0.7"><path d="M44.9 245.5h0.7v0.7h-0.7z"/></g>
<g fill="#8a8a8a" fill-opacity="0.7"><path d="M40.4 260.0h0.7v0.7h-0.7z"/></g>
<g fill="#8a8a8a" fill-opacity="0.7"><path d="M39.5 257.1h0.7v0.7h-0.7z"/></g>
<g fill="#8a8a8a" fill-opacity="0.7"><path d="M33.2 260.0h0.7v0.7h-0.7z"/></g>
<g fill="#8a8a8a" fill-opacity="0.7"><path d="M46.2 257.5h0.7v0.7h-0.7z"/></g>
<g fill="#8a8a8a" fill-opacity="0.7"><path d="M40.9 244.3h0.7v0.7h-0.7z"/></g>
<g fill="#8a8a8a" fill-opacity="0.7"><path d="M45.8 241.7h0.7v0.7h-0.7z"/></g>
<g fill="#8a8a8a" fill-opacity="0.7"><path d="M38.4 261.9h0.7v0.7h-0.7z"/></g>
<g fill="#8a8a8a" fill-opacity="0.7"><path d="M46.1 250.4h0.7v0.7h-0.7z"/></g>
<g fill="#8a8a8a" fill-opacity="0.7"><path d="M29.3 264.3h0.7v0.7h-0.7z"/></g>
<g fill="#8a8a8a" fill-opacity="0.7"><path d="M43.0 251.7h0.7v0.7h-0.7z"/></g>
<g fill="#8a8a8a" fill-opacity="0.7"><path d="M40.4 263.4h0.7v0.7h-0.7z"/></g>
<g fill="#8a8a8a" fill-opacity="0.7"><path d="M38.8 258.4h0.7v0.7h-0.7z"/></g>
<g fill="#8a8a8a" fill-opacity="0.7"><path d="M43.8 247.6h0.7v0.7h-0.7z"/></g>
<g fill="#8a8a8a" fill-opacity="0.7"><path d="M43.6 249.4h0.7v0.7h-0.7z"/></g>
<g fill="#8a8a8a" fill-opacity="0.7"><path d="M40.4 252.0h0.7v0.7h-0.7z"/></g>
<g fill="#8a8a8a" fill-opacity="0.7"><path d="M36.5 256.7h0.7v0.7h-0.7z"/></g>
<g fill="#8a8a8a" fill-opacity="0.7"><path d="M34.0 262.3h0.7v0.7h-0.7z"/></g>
<g fill="#8a8a8a" fill-opacity="0.7"><path d="M57.7 246.4h0.7v0.7h-0.7z"/></g>
<g fill="#8a8a8a" fill-opacity="0.7"><path d="M42.2 250.1h0.7v0.7h-0.7z"/></g>
<g fill="#8a8a8a" fill-opacity="0.7"><path d="M41.7 249.2h0.7v0.7h-0.7z"/></g>
<g fill="#8a8a8a" fill-opacity="0.7"><path d="M46.8 249.4h0.7v0.7h-0.7z"/></g>
<g fill="#8a8a8a" fill-opacity="0.7"><path d="M39.7 262.0h0.7v0.7h-0.7z"/></g>
<g fill="#8a8a8a" fill-opacity="0.7"><path d="M47.6 252.3h0.7v0.7h-0.7z"/></g>
<g fill="#8a8a8a" fill-opacity="0.7"><path d="M39.6 251.2h0.7v0.7h-0.7z"/></g>
<g fill="#8a8a8a" fill-opacity="0.7"><path d="M43.3 253.0h0.7v0.7h-0.7z"/></g>
<g fill="#8a8a8a" fill-opacity="0.7"><path d="M41.1 260.0h0.7v0.7h-0.7z"/></g>
<g fill="#8a8a8a" fill-opacity="0.7"><path d="M39.4 255.2h0.7v0.7h-0.7z"/></g>
<g fill="#8a8a8a" fill-opacity="0.7"><path d="M33.2 260.0h0.7v0.7h-0.7z"/></g>
<g fill="#8a8a8a" fill-opacity="0.7"><path d="M39.7 253.7h0.7v0.7h-0.7z"/></g>
<g fill="#8a8a8a" fill-opacity="0.7"><path d="M45.6 248.0h0.7v0.7h-0.7z"/></g>
<g fill="#8a8a8a" fill-opacity="0.7"><path d="M45.6 251.5h0.7v0.7h-0.7z"/></g>
<g fill="#8a8a8a" fill-opacity="0.7"><path d="M38.7 258.8h0.7v0.7h-0.7z"/></g>
<g fill="#8a8a8a" fill-opacity="0.7"><path d="M43.4 258.5h0.7v0.7h-0.7z"/></g>
<g fill="#8a8a8a" fill-opacity="0.7"><path d="M39.3 258.2h0.7v0.7h-0.7z"/></g>
<g fill="#8a8a8a" fill-opacity="0.7"><path d="M47.4 248.9h0.7v0.7h-0.7z"/></g>
<g fill="#8a8a8a" fill-opacity="0.7"><path d="M36.0 262.7h0.7v0.7h-0.7z"/></g>
<g fill="#8a8a8a" fill-opacity="0.7"><path d="M42.6 251.3h0.7v0.7h-0.7z"/></g>
<g fill="#8a8a8a" fill-opacity="0.7"><path d="M40.2 264.5h0.7v0.7h-0.7z"/></g>
<g fill="#8a8a8a" fill-opacity="0.7"><path d="M46.1 255.1h0.7v0.7h-0.7z"/></g>
<g fill="#8a8a8a" fill-opacity="0.7"><path d="M33.0 259.9h0.7v0.7h-0.7z"/></g>
<g fill="#8a8a8a" fill-opacity="0.7"><path d="M36.2 254.3h0.7v0.7h-0.7z"/></g>
<g fill="#8a8a8a" fill-opacity="0.7"><path d="M44.1 257.5h0.7v0.7h-0.7z"/></g>
<g fill="#8a8a8a" fill-opacity="0.7"><path d="M40.0 253.3h0.7v0.7h-0.7z"/></g>
<g fill="#8a8a8a" fill-opacity="0.7"><path d="M49.2 247.6h0.7v0.7h-0.7z"/></g>
<g fill="#8a8a8a" fill-opacity="0.7"><path d="M40.8 256.3h0.7v0.7h-0.7z"/></g>
<g fill="#8a8a8a" fill-opacity="0.7"><path d="M47.0 250.6h0.7v0.7h-0.7z"/></g>
<g fill="#8a8a8a" fill-opacity="0.7"><path d="M37.5 255.0h0.7v0.7h-0.7z"/></g>
<g fill="#8a8a8a" fill-opacity="0.7"><path d="M39.1 251.8h0.7v0.7h-0.7z"/></g>
<g fill="#8a8a8a" fill-opacity="0.7"><path d="M40.8 260.3h0.7v0.7h-0.7z"/></g>
<g fill="#8a8a8a" fill-opacity="0.7"><path d="M49.3 245.6h0.7v0.7h-0.7z"/></g>
<g fill="#8a8a8a" fill-opacity="0.7"><path d="M39.6 253.6h0.7v0.7h-0.7z"/></g>
<g fill="#8a8a8a" fill-opacity="0.7"><path d="M38.0 251.2h0.7v0.7h-0.7z"/></g>
<g fill="#8a8a8a" fill-opacity="0.7"><path d="M44.3 254.2h0.7v0.7h-0.7z"/></g>
<g fill="#8a8a8a" fill-opacity="0.7"><path d="M43.6 256.8h0.7v0.7h-0.7z"/></g>
<g fill="#8a8a8a" fill-opacity="0.7"><path d="M34.9 254.5h0.7v0.7h-0.7z"/></g>
<g fill="#8a8a8a" fill-opacity="0.7"><path d="M43.6 252.2h0.7v0.7h-0.7z"/></g>
<g fill="#8a8a8a" fill-opacity="0.7"><path d="M44.9 248.9h0.7v0.7h-0.7z"/></g>
<g fill="#8a8a8a" fill-opacity="0.7"><path d="M43.3 257.6h0.7v0.7h-0.7z"/></g>
<g fill="#8a8a8a" fill-opacity="0.7"><path d="M41.7 254.3h0.7v0.7h-0.7z"/></g>
<g fill="#8a8a8a" fill-opacity="0.7"><path d="M39.3 253.0h0.7v0.7h-0.7z"/></g>
<g fill="#8a8a8a" fill-opacity="0.7"><path d="M47.6 246.6h0.7v0.7h-0.7z"/></g>
<g fill="#8a8a8a" fill-opacity="0.7"><path d="M35.4 253.2h0.7v0.7h-0.7z"/></g>
<g fill="#8a8a8a" fill-opacity="0.7"><path d="M47.1 256.9h0.7v0.7h-0.7z"/></g>
<g fill="#8a8a8a" fill-opacity="0.7"><path d="M46.8 252.4h0.7v0.7h-0.7z"/></g>
<g fill="#8a8a8a" fill-opacity="0.7"><path d="M44.8 251.0h0.7v0.7h-0.7z"/></g>
<g fill="#8a8a8a" fill-opacity="0.7"><path d="M47.3 248.1h0.7v0.7h-0.7z"/></g>
<g fill="#8a8a8a" fill-opacity="0.7"><path d="M44.0 253.2h0.7v0.7h-0.7z"/></g>
<g fill="#8a8a8a" fill-opacity="0.7"><path d="M39.2 243.7h0.7v0.7h-0.7z"/></g>
<g fill="#8a8a8a" fill-opacity="0.7"><path d="M47.4 250.1h0.7v0.7h-0.7z"/></g>
<g fill="#8a8a8a" fill-opacity="0.7"><path d="M34.1 257.6h0.7v0.7h-0.7z"/></g>
<g fill="#8a8a8a" fill-opacity="0.7"><path d="M36.9 258.7h0.7v0.7h-0.7z"/></g>
<g fill="#8a8a8a" fill-opacity="0.7"><path d="M43.2 254.8h0.7v0.7h-0.7z"/></g>
<g fill="#8a8a8a" fill-opacity="0.7"><path d="M38.4 253.4h0.7v0.7h-0.7z"/></g>
<g fill="#8a8a8a" fill-opacity="0.7"><path d="M45.3 254.7h0.7v0.7h-0.7z"/></g>
<g fill="#8a8a8a" fill-opacity="0.7"><path d="M39.4 251.9h0.7v0.7h-0.7z"/></g>
<g fill="#8a8a8a" fill-opacity="0.7"><path d="M42.9 249.1h0.7v0.7h-0.7z"/></g>
<g fill="#8a8a8a" fill-opacity="0.7"><path d="M44.1 247.0h0.7v0.7h-0.7z"/></g>
<g fill="#8a8a8a" fill-opacity="0.7"><path d="M34.8 259.5h0.7v0.7h-0.7z"/></g>
<g fill="#8a8a8a" fill-opacity="0.7"><path d="M40.6 249.4h0.7v0.7h-0.7z"/></g>
<g fill="#8a8a8a" fill-opacity="0.7"><path d="M35.0 258.7h0.7v0.7h-0.7z"/></g>
<g fill="#8a8a8a" fill-opacity="0.7"><path d="M35.7 260.5h0.7v0.7h-0.7z"/></g>
<g fill="#8a8a8a" fill-opacity="0.7"><path d="M45.3 252.3h0.7v0.7h-0.7z"/></g>
<g fill="#8a8a8a" fill-opacity="0.7"><path d="M42.6 245.4h0.7v0.7h-0.7z"/></g>
<g fill="#8a8a8a" fill-opacity="0.7"><path d="M42.5 249.1h0.7v0.7h-0.7z"/></g>
<g fill="#8a8a8a" fill-opacity="0.7"><path d="M35.4 260.6h0.7v0.7h-0.7z"/></g>
<g fill="#8a8a8a" fill-opacity="0.7"><path d="M42.9 246.0h0.7v0.7h-0.7z"/></g>
<g fill="#8a8a8a" fill-opacity="0.7"><path d="M48.5 244.5h0.7v0.7h-0.7z"/></g>
<g fill="#8a8a8a" fill-opacity="0.7"><path d="M44.0 259.5h0.7v0.7h-0.7z"/></g>
<g fill="#8a8a8a" fill-opacity="0.7"><path d="M41.7 250.3h0.7v0.7h-0.7z"/></g>
<g fill="#999" fill-opacity="0.75"><path d="M47.7 269.0h0.65v0.65h-0.65zM44.2 246.5h0.65v0.65h-0.65zM60.9 249.5h0.65v0.65h-0.65zM39.5 263.7h0.65v0.65h-0.65zM51.6 264.7h0.65v0.65h-0.65z"/><path d="M54.6 256.0h0.65v0.65h-0.65zM61.7 249.1h0.65v0.65h-0.65zM43.3 263.0h0.65v0.65h-0.65zM50.6 254.3h0.65v0.65h-0.65zM65.0 271.3h0.65v0.65h-0.65z"/><path d="M39.8 263.6h0.65v0.65h-0.65zM42.8 257.9h0.65v0.65h-0.65zM59.0 261.9h0.65v0.65h-0.65zM48.1 261.7h0.65v0.65h-0.65zM37.5 269.5h0.65v0.65h-0.65z"/><path d="M41.7 270.1h0.65v0.65h-0.65zM44.6 257.8h0.65v0.65h-0.65zM64.0 262.3h0.65v0.65h-0.65zM42.8 257.2h0.65v0.65h-0.65zM55.2 274.1h0.65v0.65h-0.65z"/><path d="M55.3 258.2h0.65v0.65h-0.65zM38.0 256.3h0.65v0.65h-0.65zM48.0 262.7h0.65v0.65h-0.65zM42.6 269.9h0.65v0.65h-0.65zM39.6 256.0h0.65v0.65h-0.65z"/><path d="M54.1 264.3h0.65v0.65h-0.65zM45.3 267.7h0.65v0.65h-0.65zM35.1 272.4h0.65v0.65h-0.65zM49.7 270.3h0.65v0.65h-0.65zM47.2 262.3h0.65v0.65h-0.65z"/><path d="M54.4 248.7h0.65v0.65h-0.65zM47.1 273.0h0.65v0.65h-0.65zM58.4 263.3h0.65v0.65h-0.65zM51.1 270.7h0.65v0.65h-0.65zM52.5 247.7h0.65v0.65h-0.65z"/><path d="M39.7 258.9h0.65v0.65h-0.65zM50.6 257.8h0.65v0.65h-0.65zM48.1 272.7h0.65v0.65h-0.65zM58.5 265.2h0.65v0.65h-0.65zM49.3 261.4h0.65v0.65h-0.65z"/><path d="M52.8 262.7h0.65v0.65h-0.65zM41.9 266.4h0.65v0.65h-0.65zM40.9 260.7h0.65v0.65h-0.65zM45.6 252.9h0.65v0.65h-0.65zM55.2 260.5h0.65v0.65h-0.65z"/><path d="M37.5 260.4h0.65v0.65h-0.65zM35.4 271.0h0.65v0.65h-0.65zM43.5 265.9h0.65v0.65h-0.65zM39.5 255.0h0.65v0.65h-0.65zM48.3 263.8h0.65v0.65h-0.65z"/><path d="M58.4 259.1h0.65v0.65h-0.65zM60.2 267.7h0.65v0.65h-0.65zM40.4 259.7h0.65v0.65h-0.65z"/></g>
<g fill="#888" fill-opacity="0.8"><path d="M47.0 249.0h0.65v0.65h-0.65zM47.2 245.5h0.65v0.65h-0.65zM60.1 245.0h0.65v0.65h-0.65zM48.5 243.4h0.65v0.65h-0.65zM54.0 247.5h0.65v0.65h-0.65z"/><path d="M49.5 245.4h0.65v0.65h-0.65zM45.0 248.6h0.65v0.65h-0.65zM49.7 248.9h0.65v0.65h-0.65zM48.0 248.1h0.65v0.65h-0.65zM40.8 243.9h0.65v0.65h-0.65z"/><path d="M60.2 247.7h0.65v0.65h-0.65zM54.2 246.2h0.65v0.65h-0.65zM50.0 243.7h0.65v0.65h-0.65zM43.8 247.4h0.65v0.65h-0.65zM54.6 244.2h0.65v0.65h-0.65z"/><path d="M53.6 243.2h0.65v0.65h-0.65zM52.9 243.5h0.65v0.65h-0.65zM50.8 244.6h0.65v0.65h-0.65zM51.6 243.2h0.65v0.65h-0.65zM50.2 247.1h0.65v0.65h-0.65z"/><path d="M43.0 244.6h0.65v0.65h-0.65zM54.3 246.6h0.65v0.65h-0.65zM53.0 248.5h0.65v0.65h-0.65zM52.1 243.9h0.65v0.65h-0.65zM49.4 248.9h0.65v0.65h-0.65z"/><path d="M52.0 248.3h0.65v0.65h-0.65zM47.7 245.8h0.65v0.65h-0.65zM60.3 248.8h0.65v0.65h-0.65zM53.8 242.9h0.65v0.65h-0.65zM52.9 242.3h0.65v0.65h-0.65z"/></g>
<ellipse cx="34.0" cy="264.3" rx="6.62" ry="10.12" fill="#d0d0d0" opacity="0.85" filter="url(#b10)"/>
<defs><radialGradient id="rg458" cy="0.58"><stop offset="0" stop-color="#e8e8e8"/><stop offset="0.2" stop-color="#d4d4d4"/><stop offset="0.55" stop-color="#bababa"/><stop offset="0.85" stop-color="#a6a6a6"/><stop offset="1" stop-color="#9c9c9c"/></radialGradient></defs>
<path d="M33.50,257.20 C38.65,257.20 40.61,271.38 33.50,273.40 C26.39,271.38 28.36,257.20 33.50,257.20 Z" fill="url(#rg458)" stroke="#505050" stroke-width="0.7"/>
<path d="M33.50,259.18 C37.62,259.18 39.18,270.52 33.50,272.14 C27.82,270.52 29.38,259.18 33.50,259.18 Z" fill="none" stroke="#666" stroke-width="0.45"/>
<path d="M33.50,261.16 C36.59,261.16 37.76,269.67 33.50,270.88 C29.24,269.67 30.41,261.16 33.50,261.16 Z" fill="none" stroke="#777" stroke-width="0.45"/>
<path d="M33.50,263.14 C35.56,263.14 36.34,268.81 33.50,269.62 C30.66,268.81 31.44,263.14 33.50,263.14 Z" fill="none" stroke="#888" stroke-width="0.45"/>
<rect x="40.50" y="241.40" width="26.00" height="10.20" fill="none" stroke="#6a6a6a" stroke-width="0.6"/>
<text x="61.20" y="235.70" font-size="6.7" text-anchor="middle" font-weight="normal" fill="#222" stroke="#222" stroke-width="0.1" textLength="11.9" lengthAdjust="spacingAndGlyphs">0.34</text>
<rect x="87.80" y="223.30" width="52.40" height="52.50" fill="none" stroke="#777" stroke-width="0.6"/>
<rect x="82.80" y="226.48" width="1.80" height="1.20" fill="#bbb" stroke="none" stroke-width="1"/>
<rect x="84.60" y="225.48" width="0.90" height="0.90" fill="#ccc" stroke="none" stroke-width="1"/>
<line x1="86.50" y1="226.98" x2="87.80" y2="226.98" stroke="#666" stroke-width="0.5"/>
<rect x="82.80" y="238.03" width="1.80" height="1.20" fill="#bbb" stroke="none" stroke-width="1"/>
<rect x="84.60" y="237.03" width="0.90" height="0.90" fill="#ccc" stroke="none" stroke-width="1"/>
<line x1="86.50" y1="238.53" x2="87.80" y2="238.53" stroke="#666" stroke-width="0.5"/>
<rect x="82.80" y="251.94" width="1.80" height="1.20" fill="#bbb" stroke="none" stroke-width="1"/>
<rect x="84.60" y="250.94" width="0.90" height="0.90" fill="#ccc" stroke="none" stroke-width="1"/>
<line x1="86.50" y1="252.44" x2="87.80" y2="252.44" stroke="#666" stroke-width="0.5"/>
<rect x="83.80" y="263.75" width="1.50" height="1.10" fill="#bbb" stroke="none" stroke-width="1"/>
<line x1="86.50" y1="264.25" x2="87.80" y2="264.25" stroke="#666" stroke-width="0.5"/>
<rect x="83.80" y="269.26" width="1.50" height="1.10" fill="#bbb" stroke="none" stroke-width="1"/>
<line x1="86.50" y1="269.76" x2="87.80" y2="269.76" stroke="#666" stroke-width="0.5"/>
<rect x="83.80" y="272.94" width="1.50" height="1.10" fill="#bbb" stroke="none" stroke-width="1"/>
<line x1="86.50" y1="273.44" x2="87.80" y2="273.44" stroke="#666" stroke-width="0.5"/>
<rect x="94.90" y="278.40" width="1.10" height="1.20" fill="#bbb" stroke="none" stroke-width="1"/>
<line x1="95.40" y1="275.80" x2="95.40" y2="277.10" stroke="#666" stroke-width="0.5"/>
<rect x="111.09" y="278.40" width="1.90" height="1.20" fill="#bbb" stroke="none" stroke-width="1"/>
<rect x="112.99" y="277.60" width="0.90" height="0.80" fill="#ccc" stroke="none" stroke-width="1"/>
<line x1="112.69" y1="275.80" x2="112.69" y2="277.10" stroke="#666" stroke-width="0.5"/>
<rect x="123.14" y="278.40" width="1.90" height="1.20" fill="#bbb" stroke="none" stroke-width="1"/>
<rect x="125.04" y="277.60" width="0.90" height="0.80" fill="#ccc" stroke="none" stroke-width="1"/>
<line x1="124.74" y1="275.80" x2="124.74" y2="277.10" stroke="#666" stroke-width="0.5"/>
<rect x="135.19" y="278.40" width="1.90" height="1.20" fill="#bbb" stroke="none" stroke-width="1"/>
<rect x="137.09" y="277.60" width="0.90" height="0.80" fill="#ccc" stroke="none" stroke-width="1"/>
<line x1="136.79" y1="275.80" x2="136.79" y2="277.10" stroke="#666" stroke-width="0.5"/>
<line x1="90.42" y1="275.80" x2="90.42" y2="276.70" stroke="#555" stroke-width="0.45"/>
<line x1="91.57" y1="275.80" x2="91.57" y2="276.70" stroke="#555" stroke-width="0.45"/>
<line x1="92.73" y1="275.80" x2="92.73" y2="276.70" stroke="#555" stroke-width="0.45"/>
<line x1="93.88" y1="275.80" x2="93.88" y2="276.70" stroke="#555" stroke-width="0.45"/>
<line x1="95.03" y1="275.80" x2="95.03" y2="276.70" stroke="#555" stroke-width="0.45"/>
<line x1="96.18" y1="275.80" x2="96.18" y2="276.70" stroke="#555" stroke-width="0.45"/>
<line x1="97.34" y1="275.80" x2="97.34" y2="276.70" stroke="#555" stroke-width="0.45"/>
<line x1="98.49" y1="275.80" x2="98.49" y2="276.70" stroke="#555" stroke-width="0.45"/>
<line x1="99.64" y1="275.80" x2="99.64" y2="276.70" stroke="#555" stroke-width="0.45"/>
<line x1="103.52" y1="275.80" x2="103.52" y2="276.50" stroke="#888" stroke-width="0.35"/>
<line x1="109.28" y1="275.80" x2="109.28" y2="276.50" stroke="#888" stroke-width="0.35"/>
<line x1="115.05" y1="275.80" x2="115.05" y2="276.50" stroke="#888" stroke-width="0.35"/>
<line x1="120.81" y1="275.80" x2="120.81" y2="276.50" stroke="#888" stroke-width="0.35"/>
<line x1="126.58" y1="275.80" x2="126.58" y2="276.50" stroke="#888" stroke-width="0.35"/>
<line x1="132.34" y1="275.80" x2="132.34" y2="276.50" stroke="#888" stroke-width="0.35"/>
<line x1="86.90" y1="274.23" x2="87.80" y2="274.23" stroke="#666" stroke-width="0.4"/>
<line x1="86.90" y1="273.07" x2="87.80" y2="273.07" stroke="#666" stroke-width="0.4"/>
<line x1="86.90" y1="271.92" x2="87.80" y2="271.92" stroke="#666" stroke-width="0.4"/>
<line x1="86.90" y1="270.76" x2="87.80" y2="270.76" stroke="#666" stroke-width="0.4"/>
<line x1="86.90" y1="269.61" x2="87.80" y2="269.61" stroke="#666" stroke-width="0.4"/>
<line x1="86.90" y1="268.45" x2="87.80" y2="268.45" stroke="#666" stroke-width="0.4"/>
<line x1="86.90" y1="267.30" x2="87.80" y2="267.30" stroke="#666" stroke-width="0.4"/>
<line x1="86.90" y1="266.14" x2="87.80" y2="266.14" stroke="#666" stroke-width="0.4"/>
<g fill="#8a8a8a" fill-opacity="0.8"><path d="M103.2 249.6h0.7v0.7h-0.7zM92.6 235.9h0.7v0.7h-0.7zM96.9 252.5h0.7v0.7h-0.7zM94.3 243.4h0.7v0.7h-0.7zM102.1 241.0h0.7v0.7h-0.7z"/><path d="M96.5 252.6h0.7v0.7h-0.7zM94.5 253.6h0.7v0.7h-0.7zM92.4 234.0h0.7v0.7h-0.7zM98.0 228.7h0.7v0.7h-0.7zM94.2 237.9h0.7v0.7h-0.7z"/><path d="M96.9 246.5h0.7v0.7h-0.7zM96.3 231.5h0.7v0.7h-0.7zM97.2 236.2h0.7v0.7h-0.7zM98.0 255.3h0.7v0.7h-0.7zM100.9 257.3h0.7v0.7h-0.7z"/><path d="M92.5 241.0h0.7v0.7h-0.7zM96.5 255.5h0.7v0.7h-0.7zM93.5 252.0h0.7v0.7h-0.7zM95.6 230.7h0.7v0.7h-0.7zM93.7 255.4h0.7v0.7h-0.7z"/><path d="M91.9 253.6h0.7v0.7h-0.7zM94.5 232.2h0.7v0.7h-0.7zM94.8 251.3h0.7v0.7h-0.7zM92.7 241.5h0.7v0.7h-0.7zM98.3 236.3h0.7v0.7h-0.7z"/><path d="M102.9 250.1h0.7v0.7h-0.7zM97.0 248.6h0.7v0.7h-0.7zM93.9 239.7h0.7v0.7h-0.7zM96.2 256.3h0.7v0.7h-0.7zM97.9 238.9h0.7v0.7h-0.7z"/><path d="M92.3 228.7h0.7v0.7h-0.7zM95.6 250.3h0.7v0.7h-0.7zM95.7 238.6h0.7v0.7h-0.7zM89.7 234.2h0.7v0.7h-0.7zM93.1 247.5h0.7v0.7h-0.7z"/><path d="M99.8 240.0h0.7v0.7h-0.7zM94.1 255.2h0.7v0.7h-0.7zM95.6 242.0h0.7v0.7h-0.7zM90.6 233.8h0.7v0.7h-0.7zM95.6 249.4h0.7v0.7h-0.7z"/><path d="M92.5 230.8h0.7v0.7h-0.7zM100.2 236.1h0.7v0.7h-0.7zM93.6 239.1h0.7v0.7h-0.7zM93.3 245.1h0.7v0.7h-0.7zM96.5 228.0h0.7v0.7h-0.7z"/><path d="M99.0 251.7h0.7v0.7h-0.7zM95.7 244.3h0.7v0.7h-0.7zM101.5 245.8h0.7v0.7h-0.7zM94.8 251.0h0.7v0.7h-0.7zM94.7 236.6h0.7v0.7h-0.7z"/><path d="M99.3 248.1h0.7v0.7h-0.7zM91.8 252.2h0.7v0.7h-0.7zM91.7 256.2h0.7v0.7h-0.7zM97.6 233.6h0.7v0.7h-0.7zM98.3 243.1h0.7v0.7h-0.7z"/><path d="M97.7 232.4h0.7v0.7h-0.7zM96.9 239.5h0.7v0.7h-0.7zM101.8 232.4h0.7v0.7h-0.7zM97.5 233.6h0.7v0.7h-0.7zM99.4 242.1h0.7v0.7h-0.7z"/><path d="M92.7 242.9h0.7v0.7h-0.7zM95.1 252.8h0.7v0.7h-0.7zM102.7 233.9h0.7v0.7h-0.7zM96.6 229.1h0.7v0.7h-0.7zM96.3 243.9h0.7v0.7h-0.7z"/><path d="M92.0 234.4h0.7v0.7h-0.7zM96.3 249.5h0.7v0.7h-0.7zM93.3 234.7h0.7v0.7h-0.7zM92.0 239.0h0.7v0.7h-0.7zM93.9 242.2h0.7v0.7h-0.7z"/></g>
<g fill="#888" fill-opacity="0.55"><path d="M104.8 260.5h0.7v0.7h-0.7zM97.9 256.6h0.7v0.7h-0.7zM91.9 256.7h0.7v0.7h-0.7zM105.8 262.4h0.7v0.7h-0.7zM99.8 257.7h0.7v0.7h-0.7z"/><path d="M98.9 259.9h0.7v0.7h-0.7zM98.8 260.0h0.7v0.7h-0.7zM95.4 258.6h0.7v0.7h-0.7zM97.3 262.2h0.7v0.7h-0.7zM93.4 262.9h0.7v0.7h-0.7z"/><path d="M98.5 256.8h0.7v0.7h-0.7zM98.9 258.9h0.7v0.7h-0.7zM97.8 259.9h0.7v0.7h-0.7zM96.3 252.7h0.7v0.7h-0.7zM101.9 258.4h0.7v0.7h-0.7z"/><path d="M106.2 259.8h0.7v0.7h-0.7zM90.0 262.7h0.7v0.7h-0.7zM95.8 260.4h0.7v0.7h-0.7zM108.7 262.2h0.7v0.7h-0.7zM94.0 258.2h0.7v0.7h-0.7z"/><path d="M91.7 260.8h0.7v0.7h-0.7zM101.3 255.0h0.7v0.7h-0.7zM100.9 261.7h0.7v0.7h-0.7zM102.4 256.2h0.7v0.7h-0.7zM95.8 254.7h0.7v0.7h-0.7z"/><path d="M93.1 259.6h0.7v0.7h-0.7zM99.0 262.9h0.7v0.7h-0.7zM100.1 257.4h0.7v0.7h-0.7zM92.5 263.8h0.7v0.7h-0.7zM99.6 258.4h0.7v0.7h-0.7z"/><path d="M94.4 254.9h0.7v0.7h-0.7zM101.6 255.2h0.7v0.7h-0.7zM101.4 260.6h0.7v0.7h-0.7zM97.2 253.0h0.7v0.7h-0.7zM100.7 263.3h0.7v0.7h-0.7z"/><path d="M95.2 254.2h0.7v0.7h-0.7zM103.7 259.0h0.7v0.7h-0.7zM96.1 262.7h0.7v0.7h-0.7zM97.6 260.0h0.7v0.7h-0.7zM97.1 255.9h0.7v0.7h-0.7z"/><path d="M99.8 255.6h0.7v0.7h-0.7zM91.0 256.7h0.7v0.7h-0.7zM104.3 262.2h0.7v0.7h-0.7zM108.5 261.9h0.7v0.7h-0.7zM106.0 259.4h0.7v0.7h-0.7z"/><path d="M96.9 260.1h0.7v0.7h-0.7zM94.7 261.0h0.7v0.7h-0.7zM96.9 259.4h0.7v0.7h-0.7zM95.1 258.0h0.7v0.7h-0.7zM103.2 257.8h0.7v0.7h-0.7z"/><path d="M95.9 259.5h0.7v0.7h-0.7zM102.7 257.9h0.7v0.7h-0.7zM93.7 253.2h0.7v0.7h-0.7zM92.9 262.1h0.7v0.7h-0.7zM98.5 260.1h0.7v0.7h-0.7z"/><path d="M103.6 259.5h0.7v0.7h-0.7zM101.0 256.8h0.7v0.7h-0.7zM91.7 260.6h0.7v0.7h-0.7zM98.4 260.5h0.7v0.7h-0.7zM94.1 258.0h0.7v0.7h-0.7z"/><path d="M107.7 255.7h0.7v0.7h-0.7zM99.3 262.9h0.7v0.7h-0.7zM97.8 258.9h0.7v0.7h-0.7zM89.4 261.1h0.7v0.7h-0.7zM96.9 262.9h0.7v0.7h-0.7z"/><path d="M98.4 257.2h0.7v0.7h-0.7zM100.8 257.7h0.7v0.7h-0.7zM96.6 263.7h0.7v0.7h-0.7zM103.2 258.9h0.7v0.7h-0.7zM102.4 261.3h0.7v0.7h-0.7z"/><path d="M101.4 258.7h0.7v0.7h-0.7zM99.2 259.9h0.7v0.7h-0.7zM101.3 259.7h0.7v0.7h-0.7zM96.4 258.3h0.7v0.7h-0.7zM100.9 255.2h0.7v0.7h-0.7z"/><path d="M98.8 261.1h0.7v0.7h-0.7zM99.6 257.6h0.7v0.7h-0.7zM98.8 256.9h0.7v0.7h-0.7zM103.2 257.2h0.7v0.7h-0.7zM91.5 254.5h0.7v0.7h-0.7z"/><path d="M100.2 259.2h0.7v0.7h-0.7zM96.8 254.1h0.7v0.7h-0.7zM98.2 255.7h0.7v0.7h-0.7zM96.0 258.5h0.7v0.7h-0.7zM95.5 259.6h0.7v0.7h-0.7z"/><path d="M95.6 257.0h0.7v0.7h-0.7zM97.8 263.4h0.7v0.7h-0.7zM105.8 261.7h0.7v0.7h-0.7zM95.6 258.5h0.7v0.7h-0.7zM102.9 261.2h0.7v0.7h-0.7z"/><path d="M91.7 258.3h0.7v0.7h-0.7zM95.6 261.0h0.7v0.7h-0.7zM101.7 256.7h0.7v0.7h-0.7zM108.3 257.6h0.7v0.7h-0.7zM109.6 258.0h0.7v0.7h-0.7z"/><path d="M98.5 264.9h0.7v0.7h-0.7zM96.5 256.9h0.7v0.7h-0.7zM105.3 258.4h0.7v0.7h-0.7zM101.0 254.3h0.7v0.7h-0.7zM106.7 261.8h0.7v0.7h-0.7z"/><path d="M100.4 260.9h0.7v0.7h-0.7zM96.6 256.9h0.7v0.7h-0.7zM91.9 259.8h0.7v0.7h-0.7zM104.3 261.4h0.7v0.7h-0.7zM102.9 260.9h0.7v0.7h-0.7z"/><path d="M94.8 254.2h0.7v0.7h-0.7zM101.7 259.1h0.7v0.7h-0.7zM103.2 257.6h0.7v0.7h-0.7zM95.0 260.0h0.7v0.7h-0.7zM96.4 253.0h0.7v0.7h-0.7z"/><path d="M96.2 255.6h0.7v0.7h-0.7zM93.9 256.7h0.7v0.7h-0.7zM103.0 266.4h0.7v0.7h-0.7zM106.5 257.1h0.7v0.7h-0.7zM103.9 258.3h0.7v0.7h-0.7z"/><path d="M100.6 256.3h0.7v0.7h-0.7zM98.5 252.9h0.7v0.7h-0.7zM106.7 256.0h0.7v0.7h-0.7zM101.4 256.6h0.7v0.7h-0.7zM100.0 254.6h0.7v0.7h-0.7z"/></g>
<g fill="#8a8a8a" fill-opacity="0.7"><path d="M98.1 259.2h0.7v0.7h-0.7z"/></g>
<g fill="#8a8a8a" fill-opacity="0.7"><path d="M111.7 241.8h0.7v0.7h-0.7z"/></g>
<g fill="#8a8a8a" fill-opacity="0.7"><path d="M102.4 260.8h0.7v0.7h-0.7z"/></g>
<g fill="#8a8a8a" fill-opacity="0.7"><path d="M99.9 258.0h0.7v0.7h-0.7z"/></g>
<g fill="#8a8a8a" fill-opacity="0.7"><path d="M99.4 255.4h0.7v0.7h-0.7z"/></g>
<g fill="#8a8a8a" fill-opacity="0.7"><path d="M106.2 251.1h0.7v0.7h-0.7z"/></g>
<g fill="#8a8a8a" fill-opacity="0.7"><path d="M101.5 258.3h0.7v0.7h-0.7z"/></g>
<g fill="#8a8a8a" fill-opacity="0.7"><path d="M95.1 261.4h0.7v0.7h-0.7z"/></g>
<g fill="#8a8a8a" fill-opacity="0.7"><path d="M100.0 257.8h0.7v0.7h-0.7z"/></g>
<g fill="#8a8a8a" fill-opacity="0.7"><path d="M100.1 259.8h0.7v0.7h-0.7z"/></g>
<g fill="#8a8a8a" fill-opacity="0.7"><path d="M102.7 256.2h0.7v0.7h-0.7z"/></g>
<g fill="#8a8a8a" fill-opacity="0.7"><path d="M104.0 246.2h0.7v0.7h-0.7z"/></g>
<g fill="#8a8a8a" fill-opacity="0.7"><path d="M99.2 264.3h0.7v0.7h-0.7z"/></g>
<g fill="#8a8a8a" fill-opacity="0.7"><path d="M109.5 253.5h0.7v0.7h-0.7z"/></g>
<g fill="#8a8a8a" fill-opacity="0.7"><path d="M99.9 257.7h0.7v0.7h-0.7z"/></g>
<g fill="#8a8a8a" fill-opacity="0.7"><path d="M109.1 243.5h0.7v0.7h-0.7z"/></g>
<g fill="#8a8a8a" fill-opacity="0.7"><path d="M105.9 249.1h0.7v0.7h-0.7z"/></g>
<g fill="#8a8a8a" fill-opacity="0.7"><path d="M104.7 254.2h0.7v0.7h-0.7z"/></g>
<g fill="#8a8a8a" fill-opacity="0.7"><path d="M99.3 253.0h0.7v0.7h-0.7z"/></g>
<g fill="#8a8a8a" fill-opacity="0.7"><path d="M105.2 243.7h0.7v0.7h-0.7z"/></g>
<g fill="#8a8a8a" fill-opacity="0.7"><path d="M111.7 240.6h0.7v0.7h-0.7z"/></g>
<g fill="#8a8a8a" fill-opacity="0.7"><path d="M105.0 253.4h0.7v0.7h-0.7z"/></g>
<g fill="#8a8a8a" fill-opacity="0.7"><path d="M96.7 262.9h0.7v0.7h-0.7z"/></g>
<g fill="#8a8a8a" fill-opacity="0.7"><path d="M107.4 240.5h0.7v0.7h-0.7z"/></g>
<g fill="#8a8a8a" fill-opacity="0.7"><path d="M110.9 240.7h0.7v0.7h-0.7z"/></g>
<g fill="#8a8a8a" fill-opacity="0.7"><path d="M104.2 249.6h0.7v0.7h-0.7z"/></g>
<g fill="#8a8a8a" fill-opacity="0.7"><path d="M95.1 254.5h0.7v0.7h-0.7z"/></g>
<g fill="#8a8a8a" fill-opacity="0.7"><path d="M98.4 249.9h0.7v0.7h-0.7z"/></g>
<g fill="#8a8a8a" fill-opacity="0.7"><path d="M102.0 261.0h0.7v0.7h-0.7z"/></g>
<g fill="#8a8a8a" fill-opacity="0.7"><path d="M112.6 251.2h0.7v0.7h-0.7z"/></g>
<g fill="#8a8a8a" fill-opacity="0.7"><path d="M105.0 248.3h0.7v0.7h-0.7z"/></g>
<g fill="#8a8a8a" fill-opacity="0.7"><path d="M102.1 257.0h0.7v0.7h-0.7z"/></g>
<g fill="#8a8a8a" fill-opacity="0.7"><path d="M98.3 259.2h0.7v0.7h-0.7z"/></g>
<g fill="#8a8a8a" fill-opacity="0.7"><path d="M97.5 256.2h0.7v0.7h-0.7z"/></g>
<g fill="#8a8a8a" fill-opacity="0.7"><path d="M106.6 248.7h0.7v0.7h-0.7z"/></g>
<g fill="#8a8a8a" fill-opacity="0.7"><path d="M105.9 252.9h0.7v0.7h-0.7z"/></g>
<g fill="#8a8a8a" fill-opacity="0.7"><path d="M100.7 254.7h0.7v0.7h-0.7z"/></g>
<g fill="#8a8a8a" fill-opacity="0.7"><path d="M102.6 255.5h0.7v0.7h-0.7z"/></g>
<g fill="#8a8a8a" fill-opacity="0.7"><path d="M112.0 245.9h0.7v0.7h-0.7z"/></g>
<g fill="#8a8a8a" fill-opacity="0.7"><path d="M98.9 260.7h0.7v0.7h-0.7z"/></g>
<g fill="#8a8a8a" fill-opacity="0.7"><path d="M106.0 248.8h0.7v0.7h-0.7z"/></g>
<g fill="#8a8a8a" fill-opacity="0.7"><path d="M112.9 240.0h0.7v0.7h-0.7z"/></g>
<g fill="#8a8a8a" fill-opacity="0.7"><path d="M108.7 250.6h0.7v0.7h-0.7z"/></g>
<g fill="#8a8a8a" fill-opacity="0.7"><path d="M100.5 255.0h0.7v0.7h-0.7z"/></g>
<g fill="#8a8a8a" fill-opacity="0.7"><path d="M102.4 253.6h0.7v0.7h-0.7z"/></g>
<g fill="#8a8a8a" fill-opacity="0.7"><path d="M107.4 256.5h0.7v0.7h-0.7z"/></g>
<g fill="#8a8a8a" fill-opacity="0.7"><path d="M107.2 245.6h0.7v0.7h-0.7z"/></g>
<g fill="#8a8a8a" fill-opacity="0.7"><path d="M112.3 243.2h0.7v0.7h-0.7z"/></g>
<g fill="#8a8a8a" fill-opacity="0.7"><path d="M114.2 249.1h0.7v0.7h-0.7z"/></g>
<g fill="#8a8a8a" fill-opacity="0.7"><path d="M105.5 255.9h0.7v0.7h-0.7z"/></g>
<g fill="#8a8a8a" fill-opacity="0.7"><path d="M110.7 244.6h0.7v0.7h-0.7z"/></g>
<g fill="#8a8a8a" fill-opacity="0.7"><path d="M103.6 252.2h0.7v0.7h-0.7z"/></g>
<g fill="#8a8a8a" fill-opacity="0.7"><path d="M105.8 245.3h0.7v0.7h-0.7z"/></g>
<g fill="#8a8a8a" fill-opacity="0.7"><path d="M108.8 249.2h0.7v0.7h-0.7z"/></g>
<g fill="#8a8a8a" fill-opacity="0.7"><path d="M100.9 240.5h0.7v0.7h-0.7z"/></g>
<g fill="#8a8a8a" fill-opacity="0.7"><path d="M94.3 260.9h0.7v0.7h-0.7z"/></g>
<g fill="#8a8a8a" fill-opacity="0.7"><path d="M111.9 246.9h0.7v0.7h-0.7z"/></g>
<g fill="#8a8a8a" fill-opacity="0.7"><path d="M101.6 249.1h0.7v0.7h-0.7z"/></g>
<g fill="#8a8a8a" fill-opacity="0.7"><path d="M107.7 248.0h0.7v0.7h-0.7z"/></g>
<g fill="#8a8a8a" fill-opacity="0.7"><path d="M102.9 254.0h0.7v0.7h-0.7z"/></g>
<g fill="#8a8a8a" fill-opacity="0.7"><path d="M112.9 247.6h0.7v0.7h-0.7z"/></g>
<g fill="#8a8a8a" fill-opacity="0.7"><path d="M108.7 249.6h0.7v0.7h-0.7z"/></g>
<g fill="#8a8a8a" fill-opacity="0.7"><path d="M99.8 252.7h0.7v0.7h-0.7z"/></g>
<g fill="#8a8a8a" fill-opacity="0.7"><path d="M104.0 253.7h0.7v0.7h-0.7z"/></g>
<g fill="#8a8a8a" fill-opacity="0.7"><path d="M112.0 236.1h0.7v0.7h-0.7z"/></g>
<g fill="#8a8a8a" fill-opacity="0.7"><path d="M98.0 255.8h0.7v0.7h-0.7z"/></g>
<g fill="#8a8a8a" fill-opacity="0.7"><path d="M103.1 252.5h0.7v0.7h-0.7z"/></g>
<g fill="#8a8a8a" fill-opacity="0.7"><path d="M106.4 243.3h0.7v0.7h-0.7z"/></g>
<g fill="#8a8a8a" fill-opacity="0.7"><path d="M97.6 263.7h0.7v0.7h-0.7z"/></g>
<g fill="#8a8a8a" fill-opacity="0.7"><path d="M113.5 249.4h0.7v0.7h-0.7z"/></g>
<g fill="#8a8a8a" fill-opacity="0.7"><path d="M96.1 251.3h0.7v0.7h-0.7z"/></g>
<g fill="#8a8a8a" fill-opacity="0.7"><path d="M97.8 260.9h0.7v0.7h-0.7z"/></g>
<g fill="#8a8a8a" fill-opacity="0.7"><path d="M98.0 262.7h0.7v0.7h-0.7z"/></g>
<g fill="#8a8a8a" fill-opacity="0.7"><path d="M109.7 254.3h0.7v0.7h-0.7z"/></g>
<g fill="#8a8a8a" fill-opacity="0.7"><path d="M108.3 256.2h0.7v0.7h-0.7z"/></g>
<g fill="#8a8a8a" fill-opacity="0.7"><path d="M110.3 253.6h0.7v0.7h-0.7z"/></g>
<g fill="#8a8a8a" fill-opacity="0.7"><path d="M108.6 246.5h0.7v0.7h-0.7z"/></g>
<g fill="#8a8a8a" fill-opacity="0.7"><path d="M110.1 244.1h0.7v0.7h-0.7z"/></g>
<g fill="#8a8a8a" fill-opacity="0.7"><path d="M108.7 242.6h0.7v0.7h-0.7z"/></g>
<g fill="#8a8a8a" fill-opacity="0.7"><path d="M111.8 245.7h0.7v0.7h-0.7z"/></g>
<g fill="#8a8a8a" fill-opacity="0.7"><path d="M111.4 244.6h0.7v0.7h-0.7z"/></g>
<g fill="#8a8a8a" fill-opacity="0.7"><path d="M104.4 242.8h0.7v0.7h-0.7z"/></g>
<g fill="#8a8a8a" fill-opacity="0.7"><path d="M105.0 252.9h0.7v0.7h-0.7z"/></g>
<g fill="#8a8a8a" fill-opacity="0.7"><path d="M109.3 255.7h0.7v0.7h-0.7z"/></g>
<g fill="#8a8a8a" fill-opacity="0.7"><path d="M109.9 249.9h0.7v0.7h-0.7z"/></g>
<g fill="#8a8a8a" fill-opacity="0.7"><path d="M110.8 252.6h0.7v0.7h-0.7z"/></g>
<g fill="#8a8a8a" fill-opacity="0.7"><path d="M107.5 248.5h0.7v0.7h-0.7z"/></g>
<g fill="#8a8a8a" fill-opacity="0.7"><path d="M102.1 251.9h0.7v0.7h-0.7z"/></g>
<g fill="#8a8a8a" fill-opacity="0.7"><path d="M109.5 247.5h0.7v0.7h-0.7z"/></g>
<g fill="#8a8a8a" fill-opacity="0.7"><path d="M103.9 253.0h0.7v0.7h-0.7z"/></g>
<g fill="#8a8a8a" fill-opacity="0.7"><path d="M98.9 257.7h0.7v0.7h-0.7z"/></g>
<g fill="#8a8a8a" fill-opacity="0.7"><path d="M108.8 250.0h0.7v0.7h-0.7z"/></g>
<g fill="#8a8a8a" fill-opacity="0.7"><path d="M109.0 246.5h0.7v0.7h-0.7z"/></g>
<g fill="#8a8a8a" fill-opacity="0.7"><path d="M106.7 253.1h0.7v0.7h-0.7z"/></g>
<g fill="#8a8a8a" fill-opacity="0.7"><path d="M102.3 251.2h0.7v0.7h-0.7z"/></g>
<g fill="#8a8a8a" fill-opacity="0.7"><path d="M103.4 245.8h0.7v0.7h-0.7z"/></g>
<g fill="#8a8a8a" fill-opacity="0.7"><path d="M97.5 259.9h0.7v0.7h-0.7z"/></g>
<g fill="#8a8a8a" fill-opacity="0.7"><path d="M101.5 253.3h0.7v0.7h-0.7z"/></g>
<g fill="#8a8a8a" fill-opacity="0.7"><path d="M100.9 261.0h0.7v0.7h-0.7z"/></g>
<g fill="#8a8a8a" fill-opacity="0.7"><path d="M103.2 249.7h0.7v0.7h-0.7z"/></g>
<g fill="#8a8a8a" fill-opacity="0.7"><path d="M113.4 243.1h0.7v0.7h-0.7z"/></g>
<g fill="#8a8a8a" fill-opacity="0.7"><path d="M107.0 248.7h0.7v0.7h-0.7z"/></g>
<g fill="#8a8a8a" fill-opacity="0.7"><path d="M104.3 258.2h0.7v0.7h-0.7z"/></g>
<g fill="#8a8a8a" fill-opacity="0.7"><path d="M110.0 249.9h0.7v0.7h-0.7z"/></g>
<g fill="#8a8a8a" fill-opacity="0.7"><path d="M107.9 243.6h0.7v0.7h-0.7z"/></g>
<g fill="#8a8a8a" fill-opacity="0.7"><path d="M111.4 243.9h0.7v0.7h-0.7z"/></g>
<g fill="#8a8a8a" fill-opacity="0.7"><path d="M96.1 254.2h0.7v0.7h-0.7z"/></g>
<g fill="#8a8a8a" fill-opacity="0.7"><path d="M108.7 242.1h0.7v0.7h-0.7z"/></g>
<g fill="#8a8a8a" fill-opacity="0.7"><path d="M103.9 254.8h0.7v0.7h-0.7z"/></g>
<g fill="#8a8a8a" fill-opacity="0.7"><path d="M110.0 248.6h0.7v0.7h-0.7z"/></g>
<g fill="#999" fill-opacity="0.75"><path d="M122.1 257.5h0.65v0.65h-0.65zM117.2 260.2h0.65v0.65h-0.65zM124.5 256.3h0.65v0.65h-0.65zM119.1 255.9h0.65v0.65h-0.65zM114.1 261.0h0.65v0.65h-0.65z"/><path d="M122.5 250.5h0.65v0.65h-0.65zM98.7 270.4h0.65v0.65h-0.65zM115.7 272.5h0.65v0.65h-0.65zM101.8 262.5h0.65v0.65h-0.65zM117.8 272.9h0.65v0.65h-0.65z"/><path d="M111.4 258.1h0.65v0.65h-0.65zM118.9 260.4h0.65v0.65h-0.65zM104.5 266.2h0.65v0.65h-0.65zM93.2 254.3h0.65v0.65h-0.65zM125.2 257.7h0.65v0.65h-0.65z"/><path d="M108.7 263.6h0.65v0.65h-0.65zM122.9 264.6h0.65v0.65h-0.65zM102.4 257.3h0.65v0.65h-0.65zM122.1 260.3h0.65v0.65h-0.65zM105.7 266.9h0.65v0.65h-0.65z"/><path d="M101.4 256.3h0.65v0.65h-0.65zM105.1 263.5h0.65v0.65h-0.65zM107.2 268.6h0.65v0.65h-0.65zM105.6 259.2h0.65v0.65h-0.65zM117.4 262.4h0.65v0.65h-0.65z"/><path d="M102.0 271.2h0.65v0.65h-0.65zM117.5 257.8h0.65v0.65h-0.65zM113.9 253.7h0.65v0.65h-0.65zM99.9 259.1h0.65v0.65h-0.65zM115.4 261.8h0.65v0.65h-0.65z"/><path d="M104.3 251.8h0.65v0.65h-0.65zM95.5 271.8h0.65v0.65h-0.65zM115.5 255.7h0.65v0.65h-0.65zM123.5 264.7h0.65v0.65h-0.65zM107.8 257.0h0.65v0.65h-0.65z"/><path d="M123.0 263.3h0.65v0.65h-0.65zM127.8 263.5h0.65v0.65h-0.65zM106.2 257.1h0.65v0.65h-0.65zM105.0 262.8h0.65v0.65h-0.65zM114.4 265.2h0.65v0.65h-0.65z"/><path d="M116.3 254.0h0.65v0.65h-0.65zM109.9 254.8h0.65v0.65h-0.65zM116.6 252.2h0.65v0.65h-0.65zM106.2 255.3h0.65v0.65h-0.65zM105.9 259.4h0.65v0.65h-0.65z"/><path d="M126.6 259.4h0.65v0.65h-0.65zM97.9 259.1h0.65v0.65h-0.65zM119.2 264.8h0.65v0.65h-0.65zM114.2 274.4h0.65v0.65h-0.65zM122.7 261.7h0.65v0.65h-0.65z"/><path d="M123.7 252.1h0.65v0.65h-0.65zM110.2 255.3h0.65v0.65h-0.65zM113.6 271.9h0.65v0.65h-0.65zM107.1 271.8h0.65v0.65h-0.65zM101.9 270.7h0.65v0.65h-0.65z"/><path d="M95.4 255.4h0.65v0.65h-0.65zM121.6 260.5h0.65v0.65h-0.65zM113.3 261.0h0.65v0.65h-0.65z"/></g>
<g fill="#888" fill-opacity="0.8"><path d="M121.5 239.5h0.65v0.65h-0.65zM114.6 242.2h0.65v0.65h-0.65zM119.2 241.7h0.65v0.65h-0.65zM107.5 245.2h0.65v0.65h-0.65zM114.7 245.0h0.65v0.65h-0.65z"/><path d="M113.4 239.6h0.65v0.65h-0.65zM119.3 240.9h0.65v0.65h-0.65zM113.0 239.3h0.65v0.65h-0.65zM108.6 244.3h0.65v0.65h-0.65zM119.1 244.1h0.65v0.65h-0.65z"/><path d="M112.4 244.8h0.65v0.65h-0.65zM117.1 240.8h0.65v0.65h-0.65zM114.3 243.8h0.65v0.65h-0.65zM118.4 240.8h0.65v0.65h-0.65zM109.7 241.9h0.65v0.65h-0.65z"/><path d="M105.2 241.9h0.65v0.65h-0.65zM118.4 243.7h0.65v0.65h-0.65zM106.8 244.8h0.65v0.65h-0.65zM105.6 245.0h0.65v0.65h-0.65zM106.3 240.0h0.65v0.65h-0.65z"/><path d="M108.4 243.2h0.65v0.65h-0.65zM108.8 246.0h0.65v0.65h-0.65zM122.8 241.4h0.65v0.65h-0.65zM118.8 244.6h0.65v0.65h-0.65zM114.9 241.2h0.65v0.65h-0.65z"/><path d="M123.0 246.5h0.65v0.65h-0.65zM103.4 241.8h0.65v0.65h-0.65zM109.9 240.8h0.65v0.65h-0.65zM112.2 246.1h0.65v0.65h-0.65zM103.7 245.6h0.65v0.65h-0.65z"/></g>
<ellipse cx="96.7" cy="264.4" rx="8.37" ry="11.75" fill="#d0d0d0" opacity="0.85" filter="url(#b10)"/>
<defs><radialGradient id="rg630" cy="0.58"><stop offset="0" stop-color="#e8e8e8"/><stop offset="0.2" stop-color="#d4d4d4"/><stop offset="0.55" stop-color="#bababa"/><stop offset="0.85" stop-color="#a6a6a6"/><stop offset="1" stop-color="#9c9c9c"/></radialGradient></defs>
<path d="M96.20,256.00 C102.71,256.00 105.19,272.45 96.20,274.80 C87.21,272.45 89.69,256.00 96.20,256.00 Z" fill="url(#rg630)" stroke="#505050" stroke-width="0.7"/>
<path d="M96.20,258.24 C101.41,258.24 103.39,271.40 96.20,273.28 C89.01,271.40 90.99,258.24 96.20,258.24 Z" fill="none" stroke="#666" stroke-width="0.45"/>
<path d="M96.20,260.48 C100.11,260.48 101.59,270.35 96.20,271.76 C90.81,270.35 92.29,260.48 96.20,260.48 Z" fill="none" stroke="#777" stroke-width="0.45"/>
<path d="M96.20,262.72 C98.80,262.72 99.80,269.30 96.20,270.24 C92.60,269.30 93.60,262.72 96.20,262.72 Z" fill="none" stroke="#888" stroke-width="0.45"/>
<rect x="103.50" y="238.60" width="26.10" height="9.60" fill="none" stroke="#6a6a6a" stroke-width="0.6"/>
<text x="123.60" y="234.60" font-size="6.7" text-anchor="middle" font-weight="normal" fill="#222" stroke="#222" stroke-width="0.1" textLength="11.9" lengthAdjust="spacingAndGlyphs">1.27</text>
<rect x="150.60" y="222.80" width="52.80" height="52.80" fill="none" stroke="#777" stroke-width="0.6"/>
<rect x="145.60" y="226.00" width="1.80" height="1.20" fill="#bbb" stroke="none" stroke-width="1"/>
<rect x="147.40" y="225.00" width="0.90" height="0.90" fill="#ccc" stroke="none" stroke-width="1"/>
<line x1="149.30" y1="226.50" x2="150.60" y2="226.50" stroke="#666" stroke-width="0.5"/>
<rect x="145.60" y="237.61" width="1.80" height="1.20" fill="#bbb" stroke="none" stroke-width="1"/>
<rect x="147.40" y="236.61" width="0.90" height="0.90" fill="#ccc" stroke="none" stroke-width="1"/>
<line x1="149.30" y1="238.11" x2="150.60" y2="238.11" stroke="#666" stroke-width="0.5"/>
<rect x="145.60" y="251.60" width="1.80" height="1.20" fill="#bbb" stroke="none" stroke-width="1"/>
<rect x="147.40" y="250.60" width="0.90" height="0.90" fill="#ccc" stroke="none" stroke-width="1"/>
<line x1="149.30" y1="252.10" x2="150.60" y2="252.10" stroke="#666" stroke-width="0.5"/>
<rect x="146.60" y="263.48" width="1.50" height="1.10" fill="#bbb" stroke="none" stroke-width="1"/>
<line x1="149.30" y1="263.98" x2="150.60" y2="263.98" stroke="#666" stroke-width="0.5"/>
<rect x="146.60" y="269.03" width="1.50" height="1.10" fill="#bbb" stroke="none" stroke-width="1"/>
<line x1="149.30" y1="269.53" x2="150.60" y2="269.53" stroke="#666" stroke-width="0.5"/>
<rect x="146.60" y="272.72" width="1.50" height="1.10" fill="#bbb" stroke="none" stroke-width="1"/>
<line x1="149.30" y1="273.22" x2="150.60" y2="273.22" stroke="#666" stroke-width="0.5"/>
<rect x="157.76" y="278.20" width="1.10" height="1.20" fill="#bbb" stroke="none" stroke-width="1"/>
<line x1="158.26" y1="275.60" x2="158.26" y2="276.90" stroke="#666" stroke-width="0.5"/>
<rect x="174.08" y="278.20" width="1.90" height="1.20" fill="#bbb" stroke="none" stroke-width="1"/>
<rect x="175.98" y="277.40" width="0.90" height="0.80" fill="#ccc" stroke="none" stroke-width="1"/>
<line x1="175.68" y1="275.60" x2="175.68" y2="276.90" stroke="#666" stroke-width="0.5"/>
<rect x="186.22" y="278.20" width="1.90" height="1.20" fill="#bbb" stroke="none" stroke-width="1"/>
<rect x="188.12" y="277.40" width="0.90" height="0.80" fill="#ccc" stroke="none" stroke-width="1"/>
<line x1="187.82" y1="275.60" x2="187.82" y2="276.90" stroke="#666" stroke-width="0.5"/>
<rect x="198.37" y="278.20" width="1.90" height="1.20" fill="#bbb" stroke="none" stroke-width="1"/>
<rect x="200.27" y="277.40" width="0.90" height="0.80" fill="#ccc" stroke="none" stroke-width="1"/>
<line x1="199.97" y1="275.60" x2="199.97" y2="276.90" stroke="#666" stroke-width="0.5"/>
<line x1="153.24" y1="275.60" x2="153.24" y2="276.50" stroke="#555" stroke-width="0.45"/>
<line x1="154.40" y1="275.60" x2="154.40" y2="276.50" stroke="#555" stroke-width="0.45"/>
<line x1="155.56" y1="275.60" x2="155.56" y2="276.50" stroke="#555" stroke-width="0.45"/>
<line x1="156.72" y1="275.60" x2="156.72" y2="276.50" stroke="#555" stroke-width="0.45"/>
<line x1="157.89" y1="275.60" x2="157.89" y2="276.50" stroke="#555" stroke-width="0.45"/>
<line x1="159.05" y1="275.60" x2="159.05" y2="276.50" stroke="#555" stroke-width="0.45"/>
<line x1="160.21" y1="275.60" x2="160.21" y2="276.50" stroke="#555" stroke-width="0.45"/>
<line x1="161.37" y1="275.60" x2="161.37" y2="276.50" stroke="#555" stroke-width="0.45"/>
<line x1="162.53" y1="275.60" x2="162.53" y2="276.50" stroke="#555" stroke-width="0.45"/>
<line x1="166.44" y1="275.60" x2="166.44" y2="276.30" stroke="#888" stroke-width="0.35"/>
<line x1="172.25" y1="275.60" x2="172.25" y2="276.30" stroke="#888" stroke-width="0.35"/>
<line x1="178.06" y1="275.60" x2="178.06" y2="276.30" stroke="#888" stroke-width="0.35"/>
<line x1="183.86" y1="275.60" x2="183.86" y2="276.30" stroke="#888" stroke-width="0.35"/>
<line x1="189.67" y1="275.60" x2="189.67" y2="276.30" stroke="#888" stroke-width="0.35"/>
<line x1="195.48" y1="275.60" x2="195.48" y2="276.30" stroke="#888" stroke-width="0.35"/>
<line x1="149.70" y1="274.02" x2="150.60" y2="274.02" stroke="#666" stroke-width="0.4"/>
<line x1="149.70" y1="272.85" x2="150.60" y2="272.85" stroke="#666" stroke-width="0.4"/>
<line x1="149.70" y1="271.69" x2="150.60" y2="271.69" stroke="#666" stroke-width="0.4"/>
<line x1="149.70" y1="270.53" x2="150.60" y2="270.53" stroke="#666" stroke-width="0.4"/>
<line x1="149.70" y1="269.37" x2="150.60" y2="269.37" stroke="#666" stroke-width="0.4"/>
<line x1="149.70" y1="268.21" x2="150.60" y2="268.21" stroke="#666" stroke-width="0.4"/>
<line x1="149.70" y1="267.05" x2="150.60" y2="267.05" stroke="#666" stroke-width="0.4"/>
<line x1="149.70" y1="265.88" x2="150.60" y2="265.88" stroke="#666" stroke-width="0.4"/>
<g fill="#8a8a8a" fill-opacity="0.8"><path d="M157.3 256.7h0.7v0.7h-0.7zM157.9 236.3h0.7v0.7h-0.7zM157.8 239.4h0.7v0.7h-0.7zM158.9 231.3h0.7v0.7h-0.7zM158.4 246.2h0.7v0.7h-0.7z"/><path d="M159.5 242.0h0.7v0.7h-0.7zM156.2 252.6h0.7v0.7h-0.7zM160.9 251.0h0.7v0.7h-0.7zM153.7 253.2h0.7v0.7h-0.7zM163.0 245.7h0.7v0.7h-0.7z"/><path d="M154.8 231.8h0.7v0.7h-0.7zM157.9 256.2h0.7v0.7h-0.7zM156.4 257.5h0.7v0.7h-0.7zM156.6 256.3h0.7v0.7h-0.7zM162.0 235.2h0.7v0.7h-0.7z"/><path d="M158.4 244.9h0.7v0.7h-0.7zM158.9 243.6h0.7v0.7h-0.7zM155.0 249.1h0.7v0.7h-0.7zM158.9 241.3h0.7v0.7h-0.7zM161.4 259.4h0.7v0.7h-0.7z"/><path d="M159.3 228.8h0.7v0.7h-0.7zM161.8 236.4h0.7v0.7h-0.7zM158.7 244.6h0.7v0.7h-0.7zM158.6 233.1h0.7v0.7h-0.7zM157.8 247.7h0.7v0.7h-0.7z"/><path d="M156.2 255.4h0.7v0.7h-0.7zM158.9 252.3h0.7v0.7h-0.7zM159.0 242.7h0.7v0.7h-0.7zM159.9 240.4h0.7v0.7h-0.7zM156.3 258.6h0.7v0.7h-0.7z"/><path d="M153.1 256.4h0.7v0.7h-0.7zM163.9 234.0h0.7v0.7h-0.7zM155.4 255.0h0.7v0.7h-0.7zM158.2 247.0h0.7v0.7h-0.7zM152.5 230.7h0.7v0.7h-0.7z"/><path d="M158.8 252.9h0.7v0.7h-0.7zM157.1 251.0h0.7v0.7h-0.7zM155.6 240.8h0.7v0.7h-0.7zM161.6 251.8h0.7v0.7h-0.7zM164.2 239.9h0.7v0.7h-0.7z"/><path d="M159.3 253.6h0.7v0.7h-0.7zM152.0 237.2h0.7v0.7h-0.7zM158.4 245.2h0.7v0.7h-0.7zM160.9 230.0h0.7v0.7h-0.7zM158.0 255.4h0.7v0.7h-0.7z"/><path d="M156.1 259.1h0.7v0.7h-0.7zM154.6 258.2h0.7v0.7h-0.7zM158.6 250.3h0.7v0.7h-0.7zM157.1 251.1h0.7v0.7h-0.7zM157.0 257.5h0.7v0.7h-0.7z"/><path d="M157.1 241.7h0.7v0.7h-0.7zM152.9 236.4h0.7v0.7h-0.7zM154.4 228.4h0.7v0.7h-0.7zM159.6 228.8h0.7v0.7h-0.7zM156.3 231.9h0.7v0.7h-0.7z"/><path d="M162.4 234.3h0.7v0.7h-0.7zM157.3 232.2h0.7v0.7h-0.7zM161.0 246.4h0.7v0.7h-0.7zM154.8 231.7h0.7v0.7h-0.7zM151.2 227.6h0.7v0.7h-0.7z"/><path d="M161.2 241.1h0.7v0.7h-0.7zM167.3 230.8h0.7v0.7h-0.7zM161.1 258.4h0.7v0.7h-0.7zM160.1 228.8h0.7v0.7h-0.7zM153.4 250.1h0.7v0.7h-0.7z"/><path d="M154.0 232.2h0.7v0.7h-0.7zM157.6 244.1h0.7v0.7h-0.7zM158.0 255.9h0.7v0.7h-0.7zM155.9 241.1h0.7v0.7h-0.7z"/></g>
<g fill="#888" fill-opacity="0.55"><path d="M160.1 262.8h0.7v0.7h-0.7zM154.2 261.5h0.7v0.7h-0.7zM151.9 257.1h0.7v0.7h-0.7zM155.1 259.9h0.7v0.7h-0.7zM163.6 260.1h0.7v0.7h-0.7z"/><path d="M164.4 260.6h0.7v0.7h-0.7zM159.6 261.9h0.7v0.7h-0.7zM159.4 260.7h0.7v0.7h-0.7zM165.0 258.3h0.7v0.7h-0.7zM165.5 256.5h0.7v0.7h-0.7z"/><path d="M159.5 254.4h0.7v0.7h-0.7zM158.1 265.6h0.7v0.7h-0.7zM162.0 264.5h0.7v0.7h-0.7zM154.0 256.8h0.7v0.7h-0.7zM162.5 263.0h0.7v0.7h-0.7z"/><path d="M164.1 254.6h0.7v0.7h-0.7zM162.7 260.0h0.7v0.7h-0.7zM161.0 261.8h0.7v0.7h-0.7zM159.2 254.5h0.7v0.7h-0.7zM155.8 255.3h0.7v0.7h-0.7z"/><path d="M154.7 259.8h0.7v0.7h-0.7zM166.2 257.8h0.7v0.7h-0.7zM157.1 256.4h0.7v0.7h-0.7zM152.9 260.5h0.7v0.7h-0.7zM158.3 259.4h0.7v0.7h-0.7z"/><path d="M156.2 261.9h0.7v0.7h-0.7zM155.2 262.1h0.7v0.7h-0.7zM157.6 262.9h0.7v0.7h-0.7zM156.6 261.7h0.7v0.7h-0.7zM162.4 260.0h0.7v0.7h-0.7z"/><path d="M167.6 260.8h0.7v0.7h-0.7zM156.6 262.6h0.7v0.7h-0.7zM156.8 258.4h0.7v0.7h-0.7zM160.5 260.8h0.7v0.7h-0.7zM167.9 254.3h0.7v0.7h-0.7z"/><path d="M159.3 264.0h0.7v0.7h-0.7zM159.8 261.3h0.7v0.7h-0.7zM167.1 256.1h0.7v0.7h-0.7zM160.6 262.9h0.7v0.7h-0.7zM157.9 254.3h0.7v0.7h-0.7z"/><path d="M156.1 260.9h0.7v0.7h-0.7zM161.3 266.5h0.7v0.7h-0.7zM166.3 255.0h0.7v0.7h-0.7zM165.0 263.3h0.7v0.7h-0.7zM167.6 259.7h0.7v0.7h-0.7z"/><path d="M158.0 260.7h0.7v0.7h-0.7zM167.2 262.3h0.7v0.7h-0.7zM167.9 262.9h0.7v0.7h-0.7zM157.9 256.8h0.7v0.7h-0.7zM168.6 255.1h0.7v0.7h-0.7z"/><path d="M158.9 259.2h0.7v0.7h-0.7zM156.5 258.3h0.7v0.7h-0.7zM160.5 268.3h0.7v0.7h-0.7zM160.2 258.5h0.7v0.7h-0.7zM161.0 263.4h0.7v0.7h-0.7z"/><path d="M156.9 258.9h0.7v0.7h-0.7zM152.8 262.6h0.7v0.7h-0.7zM163.4 265.3h0.7v0.7h-0.7zM155.2 267.6h0.7v0.7h-0.7zM164.3 259.3h0.7v0.7h-0.7z"/><path d="M158.7 259.2h0.7v0.7h-0.7zM155.1 262.8h0.7v0.7h-0.7zM157.8 257.8h0.7v0.7h-0.7zM162.7 260.6h0.7v0.7h-0.7zM157.9 259.4h0.7v0.7h-0.7z"/><path d="M158.3 264.8h0.7v0.7h-0.7zM164.8 257.8h0.7v0.7h-0.7zM160.3 264.9h0.7v0.7h-0.7zM159.2 266.3h0.7v0.7h-0.7zM162.4 262.5h0.7v0.7h-0.7z"/><path d="M151.3 263.1h0.7v0.7h-0.7zM161.9 262.2h0.7v0.7h-0.7zM162.6 262.0h0.7v0.7h-0.7zM158.2 263.3h0.7v0.7h-0.7zM160.7 256.7h0.7v0.7h-0.7z"/><path d="M156.0 260.8h0.7v0.7h-0.7zM161.9 252.8h0.7v0.7h-0.7zM151.4 263.8h0.7v0.7h-0.7zM160.4 269.9h0.7v0.7h-0.7zM153.7 259.4h0.7v0.7h-0.7z"/><path d="M157.8 262.1h0.7v0.7h-0.7zM166.6 265.7h0.7v0.7h-0.7zM156.0 264.4h0.7v0.7h-0.7zM155.1 261.3h0.7v0.7h-0.7zM161.2 262.3h0.7v0.7h-0.7z"/><path d="M156.9 264.8h0.7v0.7h-0.7zM160.2 260.2h0.7v0.7h-0.7zM159.3 256.6h0.7v0.7h-0.7zM163.6 261.4h0.7v0.7h-0.7zM162.4 266.6h0.7v0.7h-0.7z"/><path d="M156.6 259.3h0.7v0.7h-0.7zM160.5 263.1h0.7v0.7h-0.7zM159.7 263.4h0.7v0.7h-0.7zM162.5 254.3h0.7v0.7h-0.7zM157.5 253.3h0.7v0.7h-0.7z"/><path d="M159.2 258.8h0.7v0.7h-0.7zM163.0 260.8h0.7v0.7h-0.7zM160.2 264.5h0.7v0.7h-0.7zM163.1 256.1h0.7v0.7h-0.7zM157.4 261.3h0.7v0.7h-0.7z"/><path d="M167.9 259.6h0.7v0.7h-0.7zM159.7 261.1h0.7v0.7h-0.7zM163.9 259.9h0.7v0.7h-0.7zM161.7 258.8h0.7v0.7h-0.7zM158.0 257.5h0.7v0.7h-0.7z"/><path d="M163.3 258.3h0.7v0.7h-0.7zM162.9 261.6h0.7v0.7h-0.7zM164.7 251.1h0.7v0.7h-0.7zM156.2 256.1h0.7v0.7h-0.7zM159.7 263.0h0.7v0.7h-0.7z"/><path d="M171.6 265.5h0.7v0.7h-0.7zM166.4 261.5h0.7v0.7h-0.7zM158.8 262.1h0.7v0.7h-0.7zM160.5 262.3h0.7v0.7h-0.7zM155.9 256.5h0.7v0.7h-0.7z"/><path d="M157.6 260.1h0.7v0.7h-0.7zM162.0 259.0h0.7v0.7h-0.7zM162.0 262.5h0.7v0.7h-0.7zM155.4 259.9h0.7v0.7h-0.7z"/></g>
<g fill="#8a8a8a" fill-opacity="0.7"><path d="M166.1 246.3h0.7v0.7h-0.7z"/></g>
<g fill="#8a8a8a" fill-opacity="0.7"><path d="M171.7 255.9h0.7v0.7h-0.7z"/></g>
<g fill="#8a8a8a" fill-opacity="0.7"><path d="M159.0 263.1h0.7v0.7h-0.7z"/></g>
<g fill="#8a8a8a" fill-opacity="0.7"><path d="M168.0 250.6h0.7v0.7h-0.7z"/></g>
<g fill="#8a8a8a" fill-opacity="0.7"><path d="M166.4 253.2h0.7v0.7h-0.7z"/></g>
<g fill="#8a8a8a" fill-opacity="0.7"><path d="M158.7 254.8h0.7v0.7h-0.7z"/></g>
<g fill="#8a8a8a" fill-opacity="0.7"><path d="M167.7 259.2h0.7v0.7h-0.7z"/></g>
<g fill="#8a8a8a" fill-opacity="0.7"><path d="M165.1 258.1h0.7v0.7h-0.7z"/></g>
<g fill="#8a8a8a" fill-opacity="0.7"><path d="M167.2 257.6h0.7v0.7h-0.7z"/></g>
<g fill="#8a8a8a" fill-opacity="0.7"><path d="M163.9 252.0h0.7v0.7h-0.7z"/></g>
<g fill="#8a8a8a" fill-opacity="0.7"><path d="M172.8 250.6h0.7v0.7h-0.7z"/></g>
<g fill="#8a8a8a" fill-opacity="0.7"><path d="M177.0 241.6h0.7v0.7h-0.7z"/></g>
<g fill="#8a8a8a" fill-opacity="0.7"><path d="M164.4 248.4h0.7v0.7h-0.7z"/></g>
<g fill="#8a8a8a" fill-opacity="0.7"><path d="M169.1 254.4h0.7v0.7h-0.7z"/></g>
<g fill="#8a8a8a" fill-opacity="0.7"><path d="M162.8 258.2h0.7v0.7h-0.7z"/></g>
<g fill="#8a8a8a" fill-opacity="0.7"><path d="M163.6 255.0h0.7v0.7h-0.7z"/></g>
<g fill="#8a8a8a" fill-opacity="0.7"><path d="M170.7 245.1h0.7v0.7h-0.7z"/></g>
<g fill="#8a8a8a" fill-opacity="0.7"><path d="M170.8 249.5h0.7v0.7h-0.7z"/></g>
<g fill="#8a8a8a" fill-opacity="0.7"><path d="M168.8 246.8h0.7v0.7h-0.7z"/></g>
<g fill="#8a8a8a" fill-opacity="0.7"><path d="M167.6 261.3h0.7v0.7h-0.7z"/></g>
<g fill="#8a8a8a" fill-opacity="0.7"><path d="M166.9 251.8h0.7v0.7h-0.7z"/></g>
<g fill="#8a8a8a" fill-opacity="0.7"><path d="M158.6 256.2h0.7v0.7h-0.7z"/></g>
<g fill="#8a8a8a" fill-opacity="0.7"><path d="M168.6 251.7h0.7v0.7h-0.7z"/></g>
<g fill="#8a8a8a" fill-opacity="0.7"><path d="M168.5 251.2h0.7v0.7h-0.7z"/></g>
<g fill="#8a8a8a" fill-opacity="0.7"><path d="M165.4 254.9h0.7v0.7h-0.7z"/></g>
<g fill="#8a8a8a" fill-opacity="0.7"><path d="M172.4 245.2h0.7v0.7h-0.7z"/></g>
<g fill="#8a8a8a" fill-opacity="0.7"><path d="M163.4 268.2h0.7v0.7h-0.7z"/></g>
<g fill="#8a8a8a" fill-opacity="0.7"><path d="M161.4 257.5h0.7v0.7h-0.7z"/></g>
<g fill="#8a8a8a" fill-opacity="0.7"><path d="M163.9 252.2h0.7v0.7h-0.7z"/></g>
<g fill="#8a8a8a" fill-opacity="0.7"><path d="M173.2 256.8h0.7v0.7h-0.7z"/></g>
<g fill="#8a8a8a" fill-opacity="0.7"><path d="M163.9 263.8h0.7v0.7h-0.7z"/></g>
<g fill="#8a8a8a" fill-opacity="0.7"><path d="M169.9 247.0h0.7v0.7h-0.7z"/></g>
<g fill="#8a8a8a" fill-opacity="0.7"><path d="M172.6 247.2h0.7v0.7h-0.7z"/></g>
<g fill="#8a8a8a" fill-opacity="0.7"><path d="M163.0 256.2h0.7v0.7h-0.7z"/></g>
<g fill="#8a8a8a" fill-opacity="0.7"><path d="M167.0 251.5h0.7v0.7h-0.7z"/></g>
<g fill="#8a8a8a" fill-opacity="0.7"><path d="M171.0 250.3h0.7v0.7h-0.7z"/></g>
<g fill="#8a8a8a" fill-opacity="0.7"><path d="M162.3 255.8h0.7v0.7h-0.7z"/></g>
<g fill="#8a8a8a" fill-opacity="0.7"><path d="M173.6 241.8h0.7v0.7h-0.7z"/></g>
<g fill="#8a8a8a" fill-opacity="0.7"><path d="M163.2 253.3h0.7v0.7h-0.7z"/></g>
<g fill="#8a8a8a" fill-opacity="0.7"><path d="M166.1 254.1h0.7v0.7h-0.7z"/></g>
<g fill="#8a8a8a" fill-opacity="0.7"><path d="M164.9 252.2h0.7v0.7h-0.7z"/></g>
<g fill="#8a8a8a" fill-opacity="0.7"><path d="M162.5 247.6h0.7v0.7h-0.7z"/></g>
<g fill="#8a8a8a" fill-opacity="0.7"><path d="M163.6 258.6h0.7v0.7h-0.7z"/></g>
<g fill="#8a8a8a" fill-opacity="0.7"><path d="M167.2 252.5h0.7v0.7h-0.7z"/></g>
<g fill="#8a8a8a" fill-opacity="0.7"><path d="M162.7 250.6h0.7v0.7h-0.7z"/></g>
<g fill="#8a8a8a" fill-opacity="0.7"><path d="M169.2 255.7h0.7v0.7h-0.7z"/></g>
<g fill="#8a8a8a" fill-opacity="0.7"><path d="M161.0 261.9h0.7v0.7h-0.7z"/></g>
<g fill="#8a8a8a" fill-opacity="0.7"><path d="M166.2 255.0h0.7v0.7h-0.7z"/></g>
<g fill="#8a8a8a" fill-opacity="0.7"><path d="M171.8 258.0h0.7v0.7h-0.7z"/></g>
<g fill="#8a8a8a" fill-opacity="0.7"><path d="M167.7 247.3h0.7v0.7h-0.7z"/></g>
<g fill="#8a8a8a" fill-opacity="0.7"><path d="M161.3 255.1h0.7v0.7h-0.7z"/></g>
<g fill="#8a8a8a" fill-opacity="0.7"><path d="M177.8 244.9h0.7v0.7h-0.7z"/></g>
<g fill="#8a8a8a" fill-opacity="0.7"><path d="M172.2 249.4h0.7v0.7h-0.7z"/></g>
<g fill="#8a8a8a" fill-opacity="0.7"><path d="M166.5 258.7h0.7v0.7h-0.7z"/></g>
<g fill="#8a8a8a" fill-opacity="0.7"><path d="M177.0 239.2h0.7v0.7h-0.7z"/></g>
<g fill="#8a8a8a" fill-opacity="0.7"><path d="M162.6 258.9h0.7v0.7h-0.7z"/></g>
<g fill="#8a8a8a" fill-opacity="0.7"><path d="M166.9 258.8h0.7v0.7h-0.7z"/></g>
<g fill="#8a8a8a" fill-opacity="0.7"><path d="M161.7 253.4h0.7v0.7h-0.7z"/></g>
<g fill="#8a8a8a" fill-opacity="0.7"><path d="M166.0 257.3h0.7v0.7h-0.7z"/></g>
<g fill="#8a8a8a" fill-opacity="0.7"><path d="M168.1 247.3h0.7v0.7h-0.7z"/></g>
<g fill="#8a8a8a" fill-opacity="0.7"><path d="M165.6 255.3h0.7v0.7h-0.7z"/></g>
<g fill="#8a8a8a" fill-opacity="0.7"><path d="M164.3 253.0h0.7v0.7h-0.7z"/></g>
<g fill="#8a8a8a" fill-opacity="0.7"><path d="M175.8 243.8h0.7v0.7h-0.7z"/></g>
<g fill="#8a8a8a" fill-opacity="0.7"><path d="M168.6 249.0h0.7v0.7h-0.7z"/></g>
<g fill="#8a8a8a" fill-opacity="0.7"><path d="M162.4 248.2h0.7v0.7h-0.7z"/></g>
<g fill="#8a8a8a" fill-opacity="0.7"><path d="M164.0 260.1h0.7v0.7h-0.7z"/></g>
<g fill="#8a8a8a" fill-opacity="0.7"><path d="M163.0 255.3h0.7v0.7h-0.7z"/></g>
<g fill="#8a8a8a" fill-opacity="0.7"><path d="M167.3 254.4h0.7v0.7h-0.7z"/></g>
<g fill="#8a8a8a" fill-opacity="0.7"><path d="M163.3 258.4h0.7v0.7h-0.7z"/></g>
<g fill="#8a8a8a" fill-opacity="0.7"><path d="M167.6 243.3h0.7v0.7h-0.7z"/></g>
<g fill="#8a8a8a" fill-opacity="0.7"><path d="M155.3 259.4h0.7v0.7h-0.7z"/></g>
<g fill="#8a8a8a" fill-opacity="0.7"><path d="M174.3 245.6h0.7v0.7h-0.7z"/></g>
<g fill="#8a8a8a" fill-opacity="0.7"><path d="M168.5 255.8h0.7v0.7h-0.7z"/></g>
<g fill="#8a8a8a" fill-opacity="0.7"><path d="M172.5 247.4h0.7v0.7h-0.7z"/></g>
<g fill="#8a8a8a" fill-opacity="0.7"><path d="M172.1 250.9h0.7v0.7h-0.7z"/></g>
<g fill="#8a8a8a" fill-opacity="0.7"><path d="M157.8 252.6h0.7v0.7h-0.7z"/></g>
<g fill="#8a8a8a" fill-opacity="0.7"><path d="M174.2 245.1h0.7v0.7h-0.7z"/></g>
<g fill="#8a8a8a" fill-opacity="0.7"><path d="M174.0 249.2h0.7v0.7h-0.7z"/></g>
<g fill="#8a8a8a" fill-opacity="0.7"><path d="M172.3 249.9h0.7v0.7h-0.7z"/></g>
<g fill="#8a8a8a" fill-opacity="0.7"><path d="M167.8 257.6h0.7v0.7h-0.7z"/></g>
<g fill="#8a8a8a" fill-opacity="0.7"><path d="M174.3 255.5h0.7v0.7h-0.7z"/></g>
<g fill="#8a8a8a" fill-opacity="0.7"><path d="M159.5 257.8h0.7v0.7h-0.7z"/></g>
<g fill="#8a8a8a" fill-opacity="0.7"><path d="M171.3 264.7h0.7v0.7h-0.7z"/></g>
<g fill="#8a8a8a" fill-opacity="0.7"><path d="M164.9 250.6h0.7v0.7h-0.7z"/></g>
<g fill="#8a8a8a" fill-opacity="0.7"><path d="M176.3 244.7h0.7v0.7h-0.7z"/></g>
<g fill="#8a8a8a" fill-opacity="0.7"><path d="M154.2 256.4h0.7v0.7h-0.7z"/></g>
<g fill="#8a8a8a" fill-opacity="0.7"><path d="M166.5 244.8h0.7v0.7h-0.7z"/></g>
<g fill="#8a8a8a" fill-opacity="0.7"><path d="M159.3 253.0h0.7v0.7h-0.7z"/></g>
<g fill="#8a8a8a" fill-opacity="0.7"><path d="M162.6 258.1h0.7v0.7h-0.7z"/></g>
<g fill="#8a8a8a" fill-opacity="0.7"><path d="M165.2 252.4h0.7v0.7h-0.7z"/></g>
<g fill="#8a8a8a" fill-opacity="0.7"><path d="M170.2 247.9h0.7v0.7h-0.7z"/></g>
<g fill="#8a8a8a" fill-opacity="0.7"><path d="M162.2 253.4h0.7v0.7h-0.7z"/></g>
<g fill="#8a8a8a" fill-opacity="0.7"><path d="M163.7 264.5h0.7v0.7h-0.7z"/></g>
<g fill="#8a8a8a" fill-opacity="0.7"><path d="M161.1 265.5h0.7v0.7h-0.7z"/></g>
<g fill="#8a8a8a" fill-opacity="0.7"><path d="M172.7 246.8h0.7v0.7h-0.7z"/></g>
<g fill="#8a8a8a" fill-opacity="0.7"><path d="M159.6 257.3h0.7v0.7h-0.7z"/></g>
<g fill="#8a8a8a" fill-opacity="0.7"><path d="M167.8 256.4h0.7v0.7h-0.7z"/></g>
<g fill="#8a8a8a" fill-opacity="0.7"><path d="M155.0 253.3h0.7v0.7h-0.7z"/></g>
<g fill="#8a8a8a" fill-opacity="0.7"><path d="M166.7 260.7h0.7v0.7h-0.7z"/></g>
<g fill="#8a8a8a" fill-opacity="0.7"><path d="M161.5 263.4h0.7v0.7h-0.7z"/></g>
<g fill="#8a8a8a" fill-opacity="0.7"><path d="M171.7 248.7h0.7v0.7h-0.7z"/></g>
<g fill="#8a8a8a" fill-opacity="0.7"><path d="M167.7 257.0h0.7v0.7h-0.7z"/></g>
<g fill="#8a8a8a" fill-opacity="0.7"><path d="M166.5 255.8h0.7v0.7h-0.7z"/></g>
<g fill="#8a8a8a" fill-opacity="0.7"><path d="M165.6 261.5h0.7v0.7h-0.7z"/></g>
<g fill="#8a8a8a" fill-opacity="0.7"><path d="M167.0 253.9h0.7v0.7h-0.7z"/></g>
<g fill="#8a8a8a" fill-opacity="0.7"><path d="M168.2 247.3h0.7v0.7h-0.7z"/></g>
<g fill="#8a8a8a" fill-opacity="0.7"><path d="M157.1 256.2h0.7v0.7h-0.7z"/></g>
<g fill="#8a8a8a" fill-opacity="0.7"><path d="M161.1 255.1h0.7v0.7h-0.7z"/></g>
<g fill="#8a8a8a" fill-opacity="0.7"><path d="M166.0 253.1h0.7v0.7h-0.7z"/></g>
<g fill="#8a8a8a" fill-opacity="0.7"><path d="M159.3 252.3h0.7v0.7h-0.7z"/></g>
<g fill="#999" fill-opacity="0.75"><path d="M186.2 261.3h0.65v0.65h-0.65zM170.1 266.0h0.65v0.65h-0.65zM162.3 253.2h0.65v0.65h-0.65zM173.7 272.3h0.65v0.65h-0.65zM183.4 261.5h0.65v0.65h-0.65z"/><path d="M183.4 258.8h0.65v0.65h-0.65zM161.9 250.1h0.65v0.65h-0.65zM176.1 267.7h0.65v0.65h-0.65zM177.1 261.3h0.65v0.65h-0.65zM169.5 269.0h0.65v0.65h-0.65z"/><path d="M173.0 251.7h0.65v0.65h-0.65zM186.9 257.1h0.65v0.65h-0.65zM177.3 261.6h0.65v0.65h-0.65zM183.8 263.3h0.65v0.65h-0.65zM185.5 263.0h0.65v0.65h-0.65z"/><path d="M169.0 258.1h0.65v0.65h-0.65zM179.9 255.9h0.65v0.65h-0.65zM182.6 259.9h0.65v0.65h-0.65zM164.4 255.6h0.65v0.65h-0.65zM172.1 273.7h0.65v0.65h-0.65z"/><path d="M181.1 261.7h0.65v0.65h-0.65zM170.7 261.6h0.65v0.65h-0.65zM169.3 270.7h0.65v0.65h-0.65zM175.2 258.4h0.65v0.65h-0.65zM175.3 254.7h0.65v0.65h-0.65z"/><path d="M163.1 260.5h0.65v0.65h-0.65zM193.0 254.0h0.65v0.65h-0.65zM172.1 250.8h0.65v0.65h-0.65zM175.2 263.0h0.65v0.65h-0.65zM180.8 252.4h0.65v0.65h-0.65z"/><path d="M167.6 257.1h0.65v0.65h-0.65zM171.5 261.3h0.65v0.65h-0.65zM168.5 267.0h0.65v0.65h-0.65zM198.7 269.5h0.65v0.65h-0.65zM188.5 254.2h0.65v0.65h-0.65z"/><path d="M183.9 261.8h0.65v0.65h-0.65zM185.8 268.8h0.65v0.65h-0.65zM179.9 250.1h0.65v0.65h-0.65zM174.8 258.1h0.65v0.65h-0.65zM177.9 261.8h0.65v0.65h-0.65z"/><path d="M183.8 250.6h0.65v0.65h-0.65zM166.2 261.1h0.65v0.65h-0.65zM176.6 258.8h0.65v0.65h-0.65zM173.2 262.0h0.65v0.65h-0.65zM183.8 260.8h0.65v0.65h-0.65z"/><path d="M175.9 249.1h0.65v0.65h-0.65zM177.0 245.7h0.65v0.65h-0.65zM177.5 260.9h0.65v0.65h-0.65zM173.5 256.6h0.65v0.65h-0.65zM169.3 267.3h0.65v0.65h-0.65z"/><path d="M177.0 261.4h0.65v0.65h-0.65zM168.7 263.0h0.65v0.65h-0.65zM185.2 261.4h0.65v0.65h-0.65zM169.9 253.5h0.65v0.65h-0.65zM174.5 255.3h0.65v0.65h-0.65z"/><path d="M159.3 267.6h0.65v0.65h-0.65z"/></g>
<g fill="#888" fill-opacity="0.8"><path d="M180.1 249.3h0.65v0.65h-0.65zM171.7 249.0h0.65v0.65h-0.65zM180.8 246.6h0.65v0.65h-0.65zM173.8 246.6h0.65v0.65h-0.65zM166.8 242.5h0.65v0.65h-0.65z"/><path d="M171.8 242.7h0.65v0.65h-0.65zM166.2 247.8h0.65v0.65h-0.65zM180.7 247.0h0.65v0.65h-0.65zM169.5 247.9h0.65v0.65h-0.65zM182.7 247.0h0.65v0.65h-0.65z"/><path d="M170.0 246.5h0.65v0.65h-0.65zM173.5 244.0h0.65v0.65h-0.65zM168.3 249.1h0.65v0.65h-0.65zM178.6 249.7h0.65v0.65h-0.65zM168.8 243.9h0.65v0.65h-0.65z"/><path d="M176.0 242.2h0.65v0.65h-0.65zM171.6 246.3h0.65v0.65h-0.65zM175.4 249.5h0.65v0.65h-0.65zM177.4 247.2h0.65v0.65h-0.65zM177.6 248.4h0.65v0.65h-0.65z"/><path d="M172.9 241.7h0.65v0.65h-0.65zM186.0 248.5h0.65v0.65h-0.65zM167.9 242.6h0.65v0.65h-0.65zM169.9 247.3h0.65v0.65h-0.65zM168.0 241.8h0.65v0.65h-0.65z"/><path d="M175.7 241.7h0.65v0.65h-0.65zM170.7 245.0h0.65v0.65h-0.65zM169.5 241.7h0.65v0.65h-0.65zM170.7 243.8h0.65v0.65h-0.65zM172.0 245.2h0.65v0.65h-0.65z"/></g>
<ellipse cx="158.3" cy="264.9" rx="7.29" ry="9.50" fill="#d0d0d0" opacity="0.85" filter="url(#b10)"/>
<defs><radialGradient id="rg802" cy="0.58"><stop offset="0" stop-color="#e8e8e8"/><stop offset="0.2" stop-color="#d4d4d4"/><stop offset="0.55" stop-color="#bababa"/><stop offset="0.85" stop-color="#a6a6a6"/><stop offset="1" stop-color="#9c9c9c"/></radialGradient></defs>
<path d="M157.80,258.30 C163.47,258.30 165.63,271.60 157.80,273.50 C149.97,271.60 152.13,258.30 157.80,258.30 Z" fill="url(#rg802)" stroke="#505050" stroke-width="0.7"/>
<path d="M157.80,260.18 C162.34,260.18 164.06,270.82 157.80,272.34 C151.54,270.82 153.26,260.18 157.80,260.18 Z" fill="none" stroke="#666" stroke-width="0.45"/>
<path d="M157.80,262.06 C161.20,262.06 162.50,270.04 157.80,271.18 C153.10,270.04 154.40,262.06 157.80,262.06 Z" fill="none" stroke="#777" stroke-width="0.45"/>
<path d="M157.80,263.94 C160.07,263.94 160.93,269.26 157.80,270.02 C154.67,269.26 155.53,263.94 157.80,263.94 Z" fill="none" stroke="#888" stroke-width="0.45"/>
<rect x="165.50" y="241.00" width="26.50" height="10.60" fill="none" stroke="#6a6a6a" stroke-width="0.6"/>
<text x="186.30" y="235.30" font-size="6.7" text-anchor="middle" font-weight="normal" fill="#222" stroke="#222" stroke-width="0.1" textLength="11.9" lengthAdjust="spacingAndGlyphs">0.30</text>
<rect x="213.40" y="222.80" width="53.20" height="52.80" fill="none" stroke="#777" stroke-width="0.6"/>
<rect x="208.40" y="226.00" width="1.80" height="1.20" fill="#bbb" stroke="none" stroke-width="1"/>
<rect x="210.20" y="225.00" width="0.90" height="0.90" fill="#ccc" stroke="none" stroke-width="1"/>
<line x1="212.10" y1="226.50" x2="213.40" y2="226.50" stroke="#666" stroke-width="0.5"/>
<rect x="208.40" y="237.61" width="1.80" height="1.20" fill="#bbb" stroke="none" stroke-width="1"/>
<rect x="210.20" y="236.61" width="0.90" height="0.90" fill="#ccc" stroke="none" stroke-width="1"/>
<line x1="212.10" y1="238.11" x2="213.40" y2="238.11" stroke="#666" stroke-width="0.5"/>
<rect x="208.40" y="251.60" width="1.80" height="1.20" fill="#bbb" stroke="none" stroke-width="1"/>
<rect x="210.20" y="250.60" width="0.90" height="0.90" fill="#ccc" stroke="none" stroke-width="1"/>
<line x1="212.10" y1="252.10" x2="213.40" y2="252.10" stroke="#666" stroke-width="0.5"/>
<rect x="209.40" y="263.48" width="1.50" height="1.10" fill="#bbb" stroke="none" stroke-width="1"/>
<line x1="212.10" y1="263.98" x2="213.40" y2="263.98" stroke="#666" stroke-width="0.5"/>
<rect x="209.40" y="269.03" width="1.50" height="1.10" fill="#bbb" stroke="none" stroke-width="1"/>
<line x1="212.10" y1="269.53" x2="213.40" y2="269.53" stroke="#666" stroke-width="0.5"/>
<rect x="209.40" y="272.72" width="1.50" height="1.10" fill="#bbb" stroke="none" stroke-width="1"/>
<line x1="212.10" y1="273.22" x2="213.40" y2="273.22" stroke="#666" stroke-width="0.5"/>
<rect x="220.61" y="278.20" width="1.10" height="1.20" fill="#bbb" stroke="none" stroke-width="1"/>
<line x1="221.11" y1="275.60" x2="221.11" y2="276.90" stroke="#666" stroke-width="0.5"/>
<rect x="237.07" y="278.20" width="1.90" height="1.20" fill="#bbb" stroke="none" stroke-width="1"/>
<rect x="238.97" y="277.40" width="0.90" height="0.80" fill="#ccc" stroke="none" stroke-width="1"/>
<line x1="238.67" y1="275.60" x2="238.67" y2="276.90" stroke="#666" stroke-width="0.5"/>
<rect x="249.31" y="278.20" width="1.90" height="1.20" fill="#bbb" stroke="none" stroke-width="1"/>
<rect x="251.21" y="277.40" width="0.90" height="0.80" fill="#ccc" stroke="none" stroke-width="1"/>
<line x1="250.91" y1="275.60" x2="250.91" y2="276.90" stroke="#666" stroke-width="0.5"/>
<rect x="261.54" y="278.20" width="1.90" height="1.20" fill="#bbb" stroke="none" stroke-width="1"/>
<rect x="263.44" y="277.40" width="0.90" height="0.80" fill="#ccc" stroke="none" stroke-width="1"/>
<line x1="263.14" y1="275.60" x2="263.14" y2="276.90" stroke="#666" stroke-width="0.5"/>
<line x1="216.06" y1="275.60" x2="216.06" y2="276.50" stroke="#555" stroke-width="0.45"/>
<line x1="217.23" y1="275.60" x2="217.23" y2="276.50" stroke="#555" stroke-width="0.45"/>
<line x1="218.40" y1="275.60" x2="218.40" y2="276.50" stroke="#555" stroke-width="0.45"/>
<line x1="219.57" y1="275.60" x2="219.57" y2="276.50" stroke="#555" stroke-width="0.45"/>
<line x1="220.74" y1="275.60" x2="220.74" y2="276.50" stroke="#555" stroke-width="0.45"/>
<line x1="221.91" y1="275.60" x2="221.91" y2="276.50" stroke="#555" stroke-width="0.45"/>
<line x1="223.08" y1="275.60" x2="223.08" y2="276.50" stroke="#555" stroke-width="0.45"/>
<line x1="224.25" y1="275.60" x2="224.25" y2="276.50" stroke="#555" stroke-width="0.45"/>
<line x1="225.42" y1="275.60" x2="225.42" y2="276.50" stroke="#555" stroke-width="0.45"/>
<line x1="229.36" y1="275.60" x2="229.36" y2="276.30" stroke="#888" stroke-width="0.35"/>
<line x1="235.21" y1="275.60" x2="235.21" y2="276.30" stroke="#888" stroke-width="0.35"/>
<line x1="241.06" y1="275.60" x2="241.06" y2="276.30" stroke="#888" stroke-width="0.35"/>
<line x1="246.92" y1="275.60" x2="246.92" y2="276.30" stroke="#888" stroke-width="0.35"/>
<line x1="252.77" y1="275.60" x2="252.77" y2="276.30" stroke="#888" stroke-width="0.35"/>
<line x1="258.62" y1="275.60" x2="258.62" y2="276.30" stroke="#888" stroke-width="0.35"/>
<line x1="212.50" y1="274.02" x2="213.40" y2="274.02" stroke="#666" stroke-width="0.4"/>
<line x1="212.50" y1="272.85" x2="213.40" y2="272.85" stroke="#666" stroke-width="0.4"/>
<line x1="212.50" y1="271.69" x2="213.40" y2="271.69" stroke="#666" stroke-width="0.4"/>
<line x1="212.50" y1="270.53" x2="213.40" y2="270.53" stroke="#666" stroke-width="0.4"/>
<line x1="212.50" y1="269.37" x2="213.40" y2="269.37" stroke="#666" stroke-width="0.4"/>
<line x1="212.50" y1="268.21" x2="213.40" y2="268.21" stroke="#666" stroke-width="0.4"/>
<line x1="212.50" y1="267.05" x2="213.40" y2="267.05" stroke="#666" stroke-width="0.4"/>
<line x1="212.50" y1="265.88" x2="213.40" y2="265.88" stroke="#666" stroke-width="0.4"/>
<g fill="#8a8a8a" fill-opacity="0.8"><path d="M220.7 228.0h0.7v0.7h-0.7zM224.4 252.9h0.7v0.7h-0.7zM222.1 227.5h0.7v0.7h-0.7zM218.9 234.5h0.7v0.7h-0.7zM225.0 233.7h0.7v0.7h-0.7z"/><path d="M220.4 252.4h0.7v0.7h-0.7zM223.5 242.7h0.7v0.7h-0.7zM221.4 244.5h0.7v0.7h-0.7zM224.3 246.2h0.7v0.7h-0.7zM224.1 247.9h0.7v0.7h-0.7z"/><path d="M219.5 238.9h0.7v0.7h-0.7zM219.3 229.5h0.7v0.7h-0.7zM228.0 253.7h0.7v0.7h-0.7zM222.9 255.0h0.7v0.7h-0.7zM226.9 232.7h0.7v0.7h-0.7z"/><path d="M224.7 238.0h0.7v0.7h-0.7zM224.2 252.3h0.7v0.7h-0.7zM228.0 252.8h0.7v0.7h-0.7zM217.2 235.4h0.7v0.7h-0.7zM227.1 244.9h0.7v0.7h-0.7z"/><path d="M221.3 239.1h0.7v0.7h-0.7zM220.4 230.5h0.7v0.7h-0.7zM222.9 231.6h0.7v0.7h-0.7zM220.5 235.9h0.7v0.7h-0.7zM219.6 243.4h0.7v0.7h-0.7z"/><path d="M219.1 253.4h0.7v0.7h-0.7zM222.4 243.7h0.7v0.7h-0.7zM220.3 232.6h0.7v0.7h-0.7zM222.4 229.8h0.7v0.7h-0.7zM224.0 238.1h0.7v0.7h-0.7z"/><path d="M225.7 230.1h0.7v0.7h-0.7zM219.5 234.1h0.7v0.7h-0.7zM219.3 228.3h0.7v0.7h-0.7zM220.3 230.3h0.7v0.7h-0.7zM218.6 229.9h0.7v0.7h-0.7z"/><path d="M220.7 250.9h0.7v0.7h-0.7zM222.6 243.6h0.7v0.7h-0.7zM226.3 237.8h0.7v0.7h-0.7zM225.2 240.3h0.7v0.7h-0.7zM221.4 243.9h0.7v0.7h-0.7z"/><path d="M227.1 250.8h0.7v0.7h-0.7zM214.8 243.8h0.7v0.7h-0.7zM221.5 256.6h0.7v0.7h-0.7zM218.2 257.0h0.7v0.7h-0.7zM222.5 244.7h0.7v0.7h-0.7z"/><path d="M220.3 240.8h0.7v0.7h-0.7zM223.0 234.2h0.7v0.7h-0.7zM227.5 249.0h0.7v0.7h-0.7zM219.2 248.9h0.7v0.7h-0.7zM222.6 249.5h0.7v0.7h-0.7z"/><path d="M233.4 251.8h0.7v0.7h-0.7zM221.6 235.5h0.7v0.7h-0.7zM220.6 256.0h0.7v0.7h-0.7zM219.3 241.0h0.7v0.7h-0.7zM221.9 241.7h0.7v0.7h-0.7z"/><path d="M222.9 243.6h0.7v0.7h-0.7zM221.8 242.2h0.7v0.7h-0.7zM223.7 229.6h0.7v0.7h-0.7zM223.9 238.0h0.7v0.7h-0.7zM225.2 242.7h0.7v0.7h-0.7z"/><path d="M219.4 231.5h0.7v0.7h-0.7zM221.8 228.0h0.7v0.7h-0.7zM214.9 236.0h0.7v0.7h-0.7zM219.5 238.1h0.7v0.7h-0.7zM220.3 242.4h0.7v0.7h-0.7z"/><path d="M226.8 251.6h0.7v0.7h-0.7zM223.9 233.7h0.7v0.7h-0.7zM222.4 238.7h0.7v0.7h-0.7zM220.0 256.8h0.7v0.7h-0.7zM224.1 240.8h0.7v0.7h-0.7z"/></g>
<g fill="#888" fill-opacity="0.55"><path d="M215.1 254.2h0.7v0.7h-0.7zM221.6 254.7h0.7v0.7h-0.7zM227.3 255.6h0.7v0.7h-0.7zM236.4 260.3h0.7v0.7h-0.7zM219.5 257.3h0.7v0.7h-0.7z"/><path d="M232.1 260.7h0.7v0.7h-0.7zM220.8 261.9h0.7v0.7h-0.7zM223.2 266.0h0.7v0.7h-0.7zM222.9 260.4h0.7v0.7h-0.7zM227.9 256.8h0.7v0.7h-0.7z"/><path d="M224.7 262.3h0.7v0.7h-0.7zM227.6 258.1h0.7v0.7h-0.7zM227.3 264.4h0.7v0.7h-0.7zM229.5 260.0h0.7v0.7h-0.7zM226.8 252.9h0.7v0.7h-0.7z"/><path d="M226.0 256.7h0.7v0.7h-0.7zM228.6 256.2h0.7v0.7h-0.7zM227.3 254.7h0.7v0.7h-0.7zM229.3 255.8h0.7v0.7h-0.7zM225.2 260.3h0.7v0.7h-0.7z"/><path d="M223.9 258.4h0.7v0.7h-0.7zM230.1 264.5h0.7v0.7h-0.7zM217.3 255.2h0.7v0.7h-0.7zM228.4 261.6h0.7v0.7h-0.7zM223.2 258.7h0.7v0.7h-0.7z"/><path d="M224.5 266.2h0.7v0.7h-0.7zM224.5 254.2h0.7v0.7h-0.7zM218.4 253.9h0.7v0.7h-0.7zM231.1 257.0h0.7v0.7h-0.7zM234.0 260.5h0.7v0.7h-0.7z"/><path d="M227.1 260.6h0.7v0.7h-0.7zM228.9 261.5h0.7v0.7h-0.7zM221.0 256.4h0.7v0.7h-0.7zM222.9 258.7h0.7v0.7h-0.7zM224.2 254.1h0.7v0.7h-0.7z"/><path d="M222.3 264.5h0.7v0.7h-0.7zM234.8 255.4h0.7v0.7h-0.7zM227.0 258.2h0.7v0.7h-0.7zM221.6 260.8h0.7v0.7h-0.7zM225.0 264.1h0.7v0.7h-0.7z"/><path d="M227.4 257.3h0.7v0.7h-0.7zM229.1 255.9h0.7v0.7h-0.7zM229.3 260.7h0.7v0.7h-0.7zM217.5 257.7h0.7v0.7h-0.7zM226.8 260.9h0.7v0.7h-0.7z"/><path d="M226.0 258.3h0.7v0.7h-0.7zM223.8 257.3h0.7v0.7h-0.7zM225.4 254.7h0.7v0.7h-0.7zM228.2 257.2h0.7v0.7h-0.7zM227.7 256.6h0.7v0.7h-0.7z"/><path d="M227.2 258.8h0.7v0.7h-0.7zM229.3 259.9h0.7v0.7h-0.7zM229.5 257.8h0.7v0.7h-0.7zM225.1 257.4h0.7v0.7h-0.7zM219.8 257.9h0.7v0.7h-0.7z"/><path d="M230.2 261.0h0.7v0.7h-0.7zM221.6 259.4h0.7v0.7h-0.7zM228.7 253.6h0.7v0.7h-0.7zM226.9 259.5h0.7v0.7h-0.7zM228.7 259.2h0.7v0.7h-0.7z"/><path d="M217.6 251.4h0.7v0.7h-0.7zM234.2 257.0h0.7v0.7h-0.7zM231.0 262.7h0.7v0.7h-0.7zM225.7 254.4h0.7v0.7h-0.7zM231.4 258.2h0.7v0.7h-0.7z"/><path d="M227.7 260.0h0.7v0.7h-0.7zM229.6 261.8h0.7v0.7h-0.7zM219.0 253.5h0.7v0.7h-0.7zM226.0 258.4h0.7v0.7h-0.7zM228.8 257.9h0.7v0.7h-0.7z"/><path d="M224.5 265.3h0.7v0.7h-0.7zM231.5 262.3h0.7v0.7h-0.7zM230.0 255.6h0.7v0.7h-0.7zM225.0 258.1h0.7v0.7h-0.7zM220.5 255.3h0.7v0.7h-0.7z"/><path d="M226.1 254.2h0.7v0.7h-0.7zM227.8 260.0h0.7v0.7h-0.7zM224.3 257.2h0.7v0.7h-0.7zM228.0 260.0h0.7v0.7h-0.7zM227.0 254.1h0.7v0.7h-0.7z"/><path d="M218.1 265.4h0.7v0.7h-0.7zM222.4 257.1h0.7v0.7h-0.7zM217.2 255.6h0.7v0.7h-0.7zM222.1 261.1h0.7v0.7h-0.7zM223.5 256.6h0.7v0.7h-0.7z"/><path d="M221.9 256.8h0.7v0.7h-0.7zM218.3 259.3h0.7v0.7h-0.7zM230.7 258.9h0.7v0.7h-0.7zM223.0 262.7h0.7v0.7h-0.7zM227.5 254.8h0.7v0.7h-0.7z"/><path d="M222.8 256.2h0.7v0.7h-0.7zM225.1 262.5h0.7v0.7h-0.7zM222.2 257.8h0.7v0.7h-0.7zM225.9 254.2h0.7v0.7h-0.7zM223.2 260.4h0.7v0.7h-0.7z"/><path d="M230.4 251.9h0.7v0.7h-0.7zM228.5 257.3h0.7v0.7h-0.7zM231.1 260.5h0.7v0.7h-0.7zM234.1 259.4h0.7v0.7h-0.7zM223.6 255.5h0.7v0.7h-0.7z"/><path d="M219.0 260.2h0.7v0.7h-0.7zM227.6 261.2h0.7v0.7h-0.7zM226.9 253.2h0.7v0.7h-0.7zM223.5 257.5h0.7v0.7h-0.7zM226.1 261.0h0.7v0.7h-0.7z"/><path d="M231.7 259.3h0.7v0.7h-0.7zM216.2 254.8h0.7v0.7h-0.7zM215.9 255.7h0.7v0.7h-0.7zM220.0 259.2h0.7v0.7h-0.7zM224.4 262.2h0.7v0.7h-0.7z"/><path d="M230.1 256.8h0.7v0.7h-0.7zM229.6 258.4h0.7v0.7h-0.7zM227.4 263.0h0.7v0.7h-0.7zM220.2 258.1h0.7v0.7h-0.7zM232.2 255.7h0.7v0.7h-0.7z"/><path d="M226.3 258.8h0.7v0.7h-0.7zM223.5 253.8h0.7v0.7h-0.7zM222.3 255.0h0.7v0.7h-0.7z"/></g>
<g fill="#8a8a8a" fill-opacity="0.7"><path d="M219.0 261.2h0.7v0.7h-0.7z"/></g>
<g fill="#8a8a8a" fill-opacity="0.7"><path d="M233.1 250.1h0.7v0.7h-0.7z"/></g>
<g fill="#8a8a8a" fill-opacity="0.7"><path d="M233.3 243.9h0.7v0.7h-0.7z"/></g>
<g fill="#8a8a8a" fill-opacity="0.7"><path d="M238.5 245.0h0.7v0.7h-0.7z"/></g>
<g fill="#8a8a8a" fill-opacity="0.7"><path d="M232.5 247.7h0.7v0.7h-0.7z"/></g>
<g fill="#8a8a8a" fill-opacity="0.7"><path d="M230.9 249.3h0.7v0.7h-0.7z"/></g>
<g fill="#8a8a8a" fill-opacity="0.7"><path d="M229.4 253.8h0.7v0.7h-0.7z"/></g>
<g fill="#8a8a8a" fill-opacity="0.7"><path d="M228.2 261.5h0.7v0.7h-0.7z"/></g>
<g fill="#8a8a8a" fill-opacity="0.7"><path d="M230.9 239.2h0.7v0.7h-0.7z"/></g>
<g fill="#8a8a8a" fill-opacity="0.7"><path d="M223.8 257.3h0.7v0.7h-0.7z"/></g>
<g fill="#8a8a8a" fill-opacity="0.7"><path d="M230.4 257.2h0.7v0.7h-0.7z"/></g>
<g fill="#8a8a8a" fill-opacity="0.7"><path d="M222.3 255.4h0.7v0.7h-0.7z"/></g>
<g fill="#8a8a8a" fill-opacity="0.7"><path d="M235.3 243.2h0.7v0.7h-0.7z"/></g>
<g fill="#8a8a8a" fill-opacity="0.7"><path d="M227.5 243.1h0.7v0.7h-0.7z"/></g>
<g fill="#8a8a8a" fill-opacity="0.7"><path d="M234.6 254.0h0.7v0.7h-0.7z"/></g>
<g fill="#8a8a8a" fill-opacity="0.7"><path d="M230.4 256.6h0.7v0.7h-0.7z"/></g>
<g fill="#8a8a8a" fill-opacity="0.7"><path d="M232.2 244.7h0.7v0.7h-0.7z"/></g>
<g fill="#8a8a8a" fill-opacity="0.7"><path d="M231.3 245.2h0.7v0.7h-0.7z"/></g>
<g fill="#8a8a8a" fill-opacity="0.7"><path d="M223.2 257.7h0.7v0.7h-0.7z"/></g>
<g fill="#8a8a8a" fill-opacity="0.7"><path d="M229.1 259.2h0.7v0.7h-0.7z"/></g>
<g fill="#8a8a8a" fill-opacity="0.7"><path d="M234.5 249.8h0.7v0.7h-0.7z"/></g>
<g fill="#8a8a8a" fill-opacity="0.7"><path d="M235.3 248.8h0.7v0.7h-0.7z"/></g>
<g fill="#8a8a8a" fill-opacity="0.7"><path d="M231.2 256.7h0.7v0.7h-0.7z"/></g>
<g fill="#8a8a8a" fill-opacity="0.7"><path d="M234.9 244.1h0.7v0.7h-0.7z"/></g>
<g fill="#8a8a8a" fill-opacity="0.7"><path d="M230.1 245.4h0.7v0.7h-0.7z"/></g>
<g fill="#8a8a8a" fill-opacity="0.7"><path d="M230.2 248.3h0.7v0.7h-0.7z"/></g>
<g fill="#8a8a8a" fill-opacity="0.7"><path d="M234.5 250.1h0.7v0.7h-0.7z"/></g>
<g fill="#8a8a8a" fill-opacity="0.7"><path d="M231.0 243.8h0.7v0.7h-0.7z"/></g>
<g fill="#8a8a8a" fill-opacity="0.7"><path d="M229.7 248.0h0.7v0.7h-0.7z"/></g>
<g fill="#8a8a8a" fill-opacity="0.7"><path d="M233.9 250.9h0.7v0.7h-0.7z"/></g>
<g fill="#8a8a8a" fill-opacity="0.7"><path d="M231.8 259.1h0.7v0.7h-0.7z"/></g>
<g fill="#8a8a8a" fill-opacity="0.7"><path d="M235.6 254.1h0.7v0.7h-0.7z"/></g>
<g fill="#8a8a8a" fill-opacity="0.7"><path d="M229.3 250.8h0.7v0.7h-0.7z"/></g>
<g fill="#8a8a8a" fill-opacity="0.7"><path d="M231.4 247.1h0.7v0.7h-0.7z"/></g>
<g fill="#8a8a8a" fill-opacity="0.7"><path d="M229.1 244.3h0.7v0.7h-0.7z"/></g>
<g fill="#8a8a8a" fill-opacity="0.7"><path d="M234.2 248.9h0.7v0.7h-0.7z"/></g>
<g fill="#8a8a8a" fill-opacity="0.7"><path d="M234.4 256.8h0.7v0.7h-0.7z"/></g>
<g fill="#8a8a8a" fill-opacity="0.7"><path d="M228.5 248.5h0.7v0.7h-0.7z"/></g>
<g fill="#8a8a8a" fill-opacity="0.7"><path d="M237.5 246.2h0.7v0.7h-0.7z"/></g>
<g fill="#8a8a8a" fill-opacity="0.7"><path d="M228.9 247.4h0.7v0.7h-0.7z"/></g>
<g fill="#8a8a8a" fill-opacity="0.7"><path d="M228.2 260.3h0.7v0.7h-0.7z"/></g>
<g fill="#8a8a8a" fill-opacity="0.7"><path d="M234.8 251.5h0.7v0.7h-0.7z"/></g>
<g fill="#8a8a8a" fill-opacity="0.7"><path d="M235.3 247.2h0.7v0.7h-0.7z"/></g>
<g fill="#8a8a8a" fill-opacity="0.7"><path d="M224.8 259.2h0.7v0.7h-0.7z"/></g>
<g fill="#8a8a8a" fill-opacity="0.7"><path d="M235.5 249.9h0.7v0.7h-0.7z"/></g>
<g fill="#8a8a8a" fill-opacity="0.7"><path d="M227.5 261.1h0.7v0.7h-0.7z"/></g>
<g fill="#8a8a8a" fill-opacity="0.7"><path d="M228.5 253.9h0.7v0.7h-0.7z"/></g>
<g fill="#8a8a8a" fill-opacity="0.7"><path d="M229.6 257.4h0.7v0.7h-0.7z"/></g>
<g fill="#8a8a8a" fill-opacity="0.7"><path d="M225.1 255.3h0.7v0.7h-0.7z"/></g>
<g fill="#8a8a8a" fill-opacity="0.7"><path d="M235.2 245.9h0.7v0.7h-0.7z"/></g>
<g fill="#8a8a8a" fill-opacity="0.7"><path d="M233.8 254.7h0.7v0.7h-0.7z"/></g>
<g fill="#8a8a8a" fill-opacity="0.7"><path d="M231.4 247.9h0.7v0.7h-0.7z"/></g>
<g fill="#8a8a8a" fill-opacity="0.7"><path d="M227.7 256.9h0.7v0.7h-0.7z"/></g>
<g fill="#8a8a8a" fill-opacity="0.7"><path d="M232.1 251.5h0.7v0.7h-0.7z"/></g>
<g fill="#8a8a8a" fill-opacity="0.7"><path d="M235.7 250.7h0.7v0.7h-0.7z"/></g>
<g fill="#8a8a8a" fill-opacity="0.7"><path d="M236.1 251.8h0.7v0.7h-0.7z"/></g>
<g fill="#8a8a8a" fill-opacity="0.7"><path d="M238.5 238.4h0.7v0.7h-0.7z"/></g>
<g fill="#8a8a8a" fill-opacity="0.7"><path d="M234.8 239.8h0.7v0.7h-0.7z"/></g>
<g fill="#8a8a8a" fill-opacity="0.7"><path d="M235.7 241.6h0.7v0.7h-0.7z"/></g>
<g fill="#8a8a8a" fill-opacity="0.7"><path d="M233.6 251.1h0.7v0.7h-0.7z"/></g>
<g fill="#8a8a8a" fill-opacity="0.7"><path d="M231.7 250.1h0.7v0.7h-0.7z"/></g>
<g fill="#8a8a8a" fill-opacity="0.7"><path d="M228.9 255.0h0.7v0.7h-0.7z"/></g>
<g fill="#8a8a8a" fill-opacity="0.7"><path d="M224.5 260.1h0.7v0.7h-0.7z"/></g>
<g fill="#8a8a8a" fill-opacity="0.7"><path d="M233.7 246.2h0.7v0.7h-0.7z"/></g>
<g fill="#8a8a8a" fill-opacity="0.7"><path d="M230.1 244.4h0.7v0.7h-0.7z"/></g>
<g fill="#8a8a8a" fill-opacity="0.7"><path d="M221.8 254.4h0.7v0.7h-0.7z"/></g>
<g fill="#8a8a8a" fill-opacity="0.7"><path d="M224.0 254.7h0.7v0.7h-0.7z"/></g>
<g fill="#8a8a8a" fill-opacity="0.7"><path d="M228.3 260.6h0.7v0.7h-0.7z"/></g>
<g fill="#8a8a8a" fill-opacity="0.7"><path d="M232.8 246.8h0.7v0.7h-0.7z"/></g>
<g fill="#8a8a8a" fill-opacity="0.7"><path d="M239.8 249.0h0.7v0.7h-0.7z"/></g>
<g fill="#8a8a8a" fill-opacity="0.7"><path d="M223.8 257.8h0.7v0.7h-0.7z"/></g>
<g fill="#8a8a8a" fill-opacity="0.7"><path d="M222.7 258.1h0.7v0.7h-0.7z"/></g>
<g fill="#8a8a8a" fill-opacity="0.7"><path d="M226.7 254.1h0.7v0.7h-0.7z"/></g>
<g fill="#8a8a8a" fill-opacity="0.7"><path d="M229.0 258.8h0.7v0.7h-0.7z"/></g>
<g fill="#8a8a8a" fill-opacity="0.7"><path d="M229.3 259.7h0.7v0.7h-0.7z"/></g>
<g fill="#8a8a8a" fill-opacity="0.7"><path d="M228.4 253.1h0.7v0.7h-0.7z"/></g>
<g fill="#8a8a8a" fill-opacity="0.7"><path d="M227.6 253.9h0.7v0.7h-0.7z"/></g>
<g fill="#8a8a8a" fill-opacity="0.7"><path d="M225.4 256.0h0.7v0.7h-0.7z"/></g>
<g fill="#8a8a8a" fill-opacity="0.7"><path d="M229.8 255.5h0.7v0.7h-0.7z"/></g>
<g fill="#8a8a8a" fill-opacity="0.7"><path d="M228.6 250.4h0.7v0.7h-0.7z"/></g>
<g fill="#8a8a8a" fill-opacity="0.7"><path d="M225.0 250.4h0.7v0.7h-0.7z"/></g>
<g fill="#8a8a8a" fill-opacity="0.7"><path d="M230.9 249.4h0.7v0.7h-0.7z"/></g>
<g fill="#8a8a8a" fill-opacity="0.7"><path d="M226.9 259.7h0.7v0.7h-0.7z"/></g>
<g fill="#8a8a8a" fill-opacity="0.7"><path d="M225.0 254.4h0.7v0.7h-0.7z"/></g>
<g fill="#8a8a8a" fill-opacity="0.7"><path d="M235.4 246.8h0.7v0.7h-0.7z"/></g>
<g fill="#8a8a8a" fill-opacity="0.7"><path d="M229.5 260.7h0.7v0.7h-0.7z"/></g>
<g fill="#8a8a8a" fill-opacity="0.7"><path d="M231.2 255.9h0.7v0.7h-0.7z"/></g>
<g fill="#8a8a8a" fill-opacity="0.7"><path d="M228.4 250.3h0.7v0.7h-0.7z"/></g>
<g fill="#8a8a8a" fill-opacity="0.7"><path d="M230.9 249.2h0.7v0.7h-0.7z"/></g>
<g fill="#8a8a8a" fill-opacity="0.7"><path d="M231.6 252.7h0.7v0.7h-0.7z"/></g>
<g fill="#8a8a8a" fill-opacity="0.7"><path d="M236.6 252.0h0.7v0.7h-0.7z"/></g>
<g fill="#8a8a8a" fill-opacity="0.7"><path d="M232.5 247.4h0.7v0.7h-0.7z"/></g>
<g fill="#8a8a8a" fill-opacity="0.7"><path d="M230.4 253.4h0.7v0.7h-0.7z"/></g>
<g fill="#8a8a8a" fill-opacity="0.7"><path d="M224.4 254.3h0.7v0.7h-0.7z"/></g>
<g fill="#8a8a8a" fill-opacity="0.7"><path d="M242.1 242.1h0.7v0.7h-0.7z"/></g>
<g fill="#8a8a8a" fill-opacity="0.7"><path d="M236.0 243.2h0.7v0.7h-0.7z"/></g>
<g fill="#8a8a8a" fill-opacity="0.7"><path d="M232.3 256.8h0.7v0.7h-0.7z"/></g>
<g fill="#8a8a8a" fill-opacity="0.7"><path d="M229.2 247.1h0.7v0.7h-0.7z"/></g>
<g fill="#8a8a8a" fill-opacity="0.7"><path d="M231.9 255.9h0.7v0.7h-0.7z"/></g>
<g fill="#8a8a8a" fill-opacity="0.7"><path d="M232.3 259.8h0.7v0.7h-0.7z"/></g>
<g fill="#8a8a8a" fill-opacity="0.7"><path d="M233.1 248.3h0.7v0.7h-0.7z"/></g>
<g fill="#8a8a8a" fill-opacity="0.7"><path d="M230.2 256.1h0.7v0.7h-0.7z"/></g>
<g fill="#8a8a8a" fill-opacity="0.7"><path d="M224.4 253.2h0.7v0.7h-0.7z"/></g>
<g fill="#8a8a8a" fill-opacity="0.7"><path d="M231.5 256.2h0.7v0.7h-0.7z"/></g>
<g fill="#8a8a8a" fill-opacity="0.7"><path d="M231.5 249.1h0.7v0.7h-0.7z"/></g>
<g fill="#8a8a8a" fill-opacity="0.7"><path d="M224.6 262.2h0.7v0.7h-0.7z"/></g>
<g fill="#8a8a8a" fill-opacity="0.7"><path d="M226.6 255.4h0.7v0.7h-0.7z"/></g>
<g fill="#8a8a8a" fill-opacity="0.7"><path d="M224.4 255.0h0.7v0.7h-0.7z"/></g>
<g fill="#8a8a8a" fill-opacity="0.7"><path d="M218.2 259.4h0.7v0.7h-0.7z"/></g>
<g fill="#8a8a8a" fill-opacity="0.7"><path d="M225.9 252.1h0.7v0.7h-0.7z"/></g>
<g fill="#999" fill-opacity="0.75"><path d="M235.4 260.1h0.65v0.65h-0.65zM248.1 254.0h0.65v0.65h-0.65zM233.7 264.9h0.65v0.65h-0.65zM243.6 254.4h0.65v0.65h-0.65zM228.3 254.8h0.65v0.65h-0.65z"/><path d="M239.2 261.9h0.65v0.65h-0.65zM237.8 256.0h0.65v0.65h-0.65zM236.7 259.7h0.65v0.65h-0.65zM244.3 260.7h0.65v0.65h-0.65zM230.5 252.2h0.65v0.65h-0.65z"/><path d="M253.0 259.6h0.65v0.65h-0.65zM236.8 260.0h0.65v0.65h-0.65zM249.6 258.1h0.65v0.65h-0.65zM240.2 258.6h0.65v0.65h-0.65zM244.2 253.3h0.65v0.65h-0.65z"/><path d="M240.5 267.2h0.65v0.65h-0.65zM250.1 264.4h0.65v0.65h-0.65zM241.4 270.9h0.65v0.65h-0.65zM245.4 269.7h0.65v0.65h-0.65zM226.7 252.7h0.65v0.65h-0.65z"/><path d="M246.3 258.4h0.65v0.65h-0.65zM234.3 253.7h0.65v0.65h-0.65zM253.1 252.1h0.65v0.65h-0.65zM239.5 250.7h0.65v0.65h-0.65zM262.4 256.8h0.65v0.65h-0.65z"/><path d="M228.6 271.2h0.65v0.65h-0.65zM230.1 248.1h0.65v0.65h-0.65zM241.9 252.9h0.65v0.65h-0.65zM224.3 267.8h0.65v0.65h-0.65zM231.3 253.0h0.65v0.65h-0.65z"/><path d="M240.2 258.9h0.65v0.65h-0.65zM249.5 260.8h0.65v0.65h-0.65zM254.1 267.9h0.65v0.65h-0.65zM256.0 267.8h0.65v0.65h-0.65zM239.2 263.9h0.65v0.65h-0.65z"/><path d="M238.7 249.6h0.65v0.65h-0.65zM227.0 265.2h0.65v0.65h-0.65zM215.4 254.6h0.65v0.65h-0.65zM225.9 259.8h0.65v0.65h-0.65zM228.4 261.9h0.65v0.65h-0.65z"/><path d="M236.6 257.0h0.65v0.65h-0.65zM230.2 245.1h0.65v0.65h-0.65zM239.2 251.4h0.65v0.65h-0.65zM235.6 262.7h0.65v0.65h-0.65zM248.8 265.0h0.65v0.65h-0.65z"/><path d="M253.0 250.6h0.65v0.65h-0.65zM245.1 270.8h0.65v0.65h-0.65zM242.4 252.7h0.65v0.65h-0.65zM242.4 256.7h0.65v0.65h-0.65zM232.2 267.4h0.65v0.65h-0.65z"/><path d="M236.8 252.6h0.65v0.65h-0.65zM231.9 273.5h0.65v0.65h-0.65zM230.3 264.8h0.65v0.65h-0.65zM240.3 268.1h0.65v0.65h-0.65zM235.8 253.8h0.65v0.65h-0.65z"/><path d="M232.3 253.2h0.65v0.65h-0.65zM263.9 261.5h0.65v0.65h-0.65zM235.4 268.7h0.65v0.65h-0.65z"/></g>
<g fill="#888" fill-opacity="0.8"><path d="M248.4 240.5h0.65v0.65h-0.65zM229.6 240.5h0.65v0.65h-0.65zM231.5 245.7h0.65v0.65h-0.65zM239.1 239.2h0.65v0.65h-0.65zM234.0 243.0h0.65v0.65h-0.65z"/><path d="M231.9 241.3h0.65v0.65h-0.65zM247.2 242.4h0.65v0.65h-0.65zM233.2 243.7h0.65v0.65h-0.65zM230.6 243.0h0.65v0.65h-0.65zM241.9 239.6h0.65v0.65h-0.65z"/><path d="M239.8 241.4h0.65v0.65h-0.65zM243.9 243.8h0.65v0.65h-0.65zM247.3 243.7h0.65v0.65h-0.65zM232.1 240.4h0.65v0.65h-0.65zM243.0 245.4h0.65v0.65h-0.65z"/><path d="M229.6 242.2h0.65v0.65h-0.65zM234.2 242.6h0.65v0.65h-0.65zM246.6 243.4h0.65v0.65h-0.65zM243.9 245.0h0.65v0.65h-0.65zM234.1 243.8h0.65v0.65h-0.65z"/><path d="M236.1 242.7h0.65v0.65h-0.65zM239.4 244.2h0.65v0.65h-0.65zM231.8 245.6h0.65v0.65h-0.65zM231.6 241.4h0.65v0.65h-0.65zM246.1 246.8h0.65v0.65h-0.65z"/><path d="M236.0 246.5h0.65v0.65h-0.65zM229.1 246.5h0.65v0.65h-0.65zM232.5 239.2h0.65v0.65h-0.65zM244.2 240.2h0.65v0.65h-0.65zM244.0 238.9h0.65v0.65h-0.65z"/></g>
<ellipse cx="223.2" cy="263.5" rx="8.37" ry="10.38" fill="#d0d0d0" opacity="0.85" filter="url(#b10)"/>
<defs><radialGradient id="rg974" cy="0.58"><stop offset="0" stop-color="#e8e8e8"/><stop offset="0.2" stop-color="#d4d4d4"/><stop offset="0.55" stop-color="#bababa"/><stop offset="0.85" stop-color="#a6a6a6"/><stop offset="1" stop-color="#9c9c9c"/></radialGradient></defs>
<path d="M222.70,256.20 C229.21,256.20 231.69,270.73 222.70,272.80 C213.71,270.73 216.19,256.20 222.70,256.20 Z" fill="url(#rg974)" stroke="#505050" stroke-width="0.7"/>
<path d="M222.70,258.22 C227.91,258.22 229.89,269.84 222.70,271.50 C215.51,269.84 217.49,258.22 222.70,258.22 Z" fill="none" stroke="#666" stroke-width="0.45"/>
<path d="M222.70,260.24 C226.61,260.24 228.09,268.96 222.70,270.20 C217.31,268.96 218.79,260.24 222.70,260.24 Z" fill="none" stroke="#777" stroke-width="0.45"/>
<path d="M222.70,262.26 C225.30,262.26 226.30,268.07 222.70,268.90 C219.10,268.07 220.10,262.26 222.70,262.26 Z" fill="none" stroke="#888" stroke-width="0.45"/>
<rect x="228.60" y="238.20" width="26.20" height="10.00" fill="none" stroke="#6a6a6a" stroke-width="0.6"/>
<text x="249.50" y="233.60" font-size="6.7" text-anchor="middle" font-weight="normal" fill="#222" stroke="#222" stroke-width="0.1" textLength="11.9" lengthAdjust="spacingAndGlyphs">2.09</text>
<line x1="11.40" y1="158.00" x2="11.40" y2="208.00" stroke="#222" stroke-width="1.0"/>
<path d="M9.30,159.20 L13.50,159.20 L11.40,155.00 Z" fill="#222"/>
<line x1="10.90" y1="208.00" x2="67.50" y2="208.00" stroke="#222" stroke-width="1.0"/>
<path d="M66.30,205.90 L66.30,210.10 L70.50,208.00 Z" fill="#222"/>
<text transform="translate(7.60,185.30) rotate(-90)" font-size="8.4" text-anchor="middle" font-weight="normal" fill="#222" stroke="#222" stroke-width="0.1">CXCR5</text>
<text x="40.60" y="220.80" font-size="8.4" text-anchor="middle" font-weight="normal" fill="#222" stroke="#222" stroke-width="0.1" >Bcl-6</text>
<line x1="10.80" y1="234.20" x2="10.80" y2="285.20" stroke="#222" stroke-width="1.0"/>
<path d="M8.70,235.40 L12.90,235.40 L10.80,231.20 Z" fill="#222"/>
<line x1="10.30" y1="285.20" x2="67.50" y2="285.20" stroke="#222" stroke-width="1.0"/>
<path d="M66.30,283.10 L66.30,287.30 L70.50,285.20 Z" fill="#222"/>
<text transform="translate(6.80,260.50) rotate(-90)" font-size="8.4" text-anchor="middle" font-weight="normal" fill="#222" stroke="#222" stroke-width="0.1">CD95</text>
<text x="39.20" y="295.40" font-size="8.4" text-anchor="middle" font-weight="normal" fill="#222" stroke="#222" stroke-width="0.1" >GL-7</text>
<line x1="294.10" y1="144.40" x2="294.10" y2="202.00" stroke="#555" stroke-width="1.0"/>
<line x1="292.30" y1="144.40" x2="294.10" y2="144.40" stroke="#555" stroke-width="0.8"/>
<text x="291.80" y="146.52" font-size="5.9" text-anchor="end" font-weight="bold" fill="#3a3a3a" >20</text>
<line x1="292.30" y1="158.80" x2="294.10" y2="158.80" stroke="#555" stroke-width="0.8"/>
<text x="291.80" y="160.92" font-size="5.9" text-anchor="end" font-weight="bold" fill="#3a3a3a" >15</text>
<line x1="292.30" y1="173.20" x2="294.10" y2="173.20" stroke="#555" stroke-width="0.8"/>
<text x="291.80" y="175.32" font-size="5.9" text-anchor="end" font-weight="bold" fill="#3a3a3a" >10</text>
<line x1="292.30" y1="187.60" x2="294.10" y2="187.60" stroke="#555" stroke-width="0.8"/>
<text x="291.80" y="189.72" font-size="5.9" text-anchor="end" font-weight="bold" fill="#3a3a3a" >5</text>
<line x1="292.30" y1="202.00" x2="294.10" y2="202.00" stroke="#555" stroke-width="0.8"/>
<text x="291.80" y="204.12" font-size="5.9" text-anchor="end" font-weight="bold" fill="#3a3a3a" >0</text>
<line x1="294.10" y1="202.00" x2="345.50" y2="202.00" stroke="#555" stroke-width="1.0"/>
<line x1="306.50" y1="202.00" x2="306.50" y2="203.60" stroke="#333" stroke-width="0.6"/>
<line x1="332.00" y1="202.00" x2="332.00" y2="203.60" stroke="#333" stroke-width="0.6"/>
<text transform="translate(284.20,172.60) rotate(-90)" font-size="5.2" text-anchor="middle" font-weight="bold" fill="#222">CXCR5<tspan font-size="3.7" dy="-1.7">+</tspan><tspan dy="1.7">Bcl6</tspan><tspan font-size="3.7" dy="-1.7">+</tspan><tspan dy="1.7"> Cells (%)</tspan></text>
<text x="306.50" y="210.20" font-size="5.8" text-anchor="middle" font-weight="normal" fill="#333" stroke="#333" stroke-width="0.1" >N.I</text>
<text x="332.00" y="210.20" font-size="5.8" text-anchor="middle" font-weight="normal" fill="#333" stroke="#333" stroke-width="0.1" >+NP-OVA</text>
<rect x="299.10" y="190.10" width="2.40" height="2.40" fill="#fff" stroke="#333" stroke-width="0.7"/>
<rect x="299.10" y="193.00" width="2.40" height="2.40" fill="#fff" stroke="#333" stroke-width="0.7"/>
<rect x="297.50" y="197.40" width="2.40" height="2.40" fill="#fff" stroke="#333" stroke-width="0.7"/>
<rect x="300.90" y="197.40" width="2.40" height="2.40" fill="#fff" stroke="#333" stroke-width="0.7"/>
<rect x="299.20" y="195.60" width="2.40" height="2.40" fill="#fff" stroke="#333" stroke-width="0.7"/>
<line x1="296.50" y1="196.00" x2="304.00" y2="196.00" stroke="#333" stroke-width="0.7"/>
<path d="M311.00,193.90 L312.70,195.60 L311.00,197.30 L309.30,195.60 Z" fill="#222"/>
<path d="M313.00,192.90 L314.70,194.60 L313.00,196.30 L311.30,194.60 Z" fill="#222"/>
<path d="M314.60,194.70 L316.30,196.40 L314.60,198.10 L312.90,196.40 Z" fill="#222"/>
<path d="M312.40,195.70 L314.10,197.40 L312.40,199.10 L310.70,197.40 Z" fill="#222"/>
<path d="M310.80,195.30 L312.50,197.00 L310.80,198.70 L309.10,197.00 Z" fill="#222"/>
<line x1="309.00" y1="196.40" x2="316.50" y2="196.40" stroke="#333" stroke-width="0.7"/>
<rect x="322.80" y="169.40" width="2.40" height="2.40" fill="#fff" stroke="#333" stroke-width="0.7"/>
<rect x="325.80" y="169.60" width="2.40" height="2.40" fill="#fff" stroke="#333" stroke-width="0.7"/>
<rect x="323.00" y="172.40" width="2.40" height="2.40" fill="#fff" stroke="#333" stroke-width="0.7"/>
<rect x="326.20" y="172.80" width="2.40" height="2.40" fill="#fff" stroke="#333" stroke-width="0.7"/>
<rect x="323.80" y="175.80" width="2.40" height="2.40" fill="#fff" stroke="#333" stroke-width="0.7"/>
<line x1="321.50" y1="173.60" x2="330.00" y2="173.60" stroke="#333" stroke-width="0.7"/>
<path d="M336.00,160.30 L337.70,162.00 L336.00,163.70 L334.30,162.00 Z" fill="#222"/>
<path d="M338.60,159.30 L340.30,161.00 L338.60,162.70 L336.90,161.00 Z" fill="#222"/>
<path d="M340.40,160.90 L342.10,162.60 L340.40,164.30 L338.70,162.60 Z" fill="#222"/>
<path d="M338.20,162.50 L339.90,164.20 L338.20,165.90 L336.50,164.20 Z" fill="#222"/>
<path d="M336.80,161.90 L338.50,163.60 L336.80,165.30 L335.10,163.60 Z" fill="#222"/>
<line x1="334.00" y1="162.60" x2="342.50" y2="162.60" stroke="#333" stroke-width="0.7"/>
<text x="332.00" y="154.40" font-size="6.5" text-anchor="middle" font-weight="normal" fill="#333" stroke="#333" stroke-width="0.1" >***</text>
<line x1="326.00" y1="155.40" x2="338.40" y2="155.40" stroke="#333" stroke-width="0.7"/>
<line x1="293.90" y1="223.60" x2="293.90" y2="282.40" stroke="#555" stroke-width="1.0"/>
<line x1="292.10" y1="223.60" x2="293.90" y2="223.60" stroke="#555" stroke-width="0.8"/>
<text x="291.60" y="225.72" font-size="5.9" text-anchor="end" font-weight="bold" fill="#3a3a3a" >2.5</text>
<line x1="292.10" y1="235.40" x2="293.90" y2="235.40" stroke="#555" stroke-width="0.8"/>
<text x="291.60" y="237.52" font-size="5.9" text-anchor="end" font-weight="bold" fill="#3a3a3a" >2.0</text>
<line x1="292.10" y1="247.10" x2="293.90" y2="247.10" stroke="#555" stroke-width="0.8"/>
<text x="291.60" y="249.22" font-size="5.9" text-anchor="end" font-weight="bold" fill="#3a3a3a" >1.5</text>
<line x1="292.10" y1="258.90" x2="293.90" y2="258.90" stroke="#555" stroke-width="0.8"/>
<text x="291.60" y="261.02" font-size="5.9" text-anchor="end" font-weight="bold" fill="#3a3a3a" >1.0</text>
<line x1="292.10" y1="270.60" x2="293.90" y2="270.60" stroke="#555" stroke-width="0.8"/>
<text x="291.60" y="272.72" font-size="5.9" text-anchor="end" font-weight="bold" fill="#3a3a3a" >0.5</text>
<line x1="292.10" y1="282.40" x2="293.90" y2="282.40" stroke="#555" stroke-width="0.8"/>
<text x="291.60" y="284.52" font-size="5.9" text-anchor="end" font-weight="bold" fill="#3a3a3a" >0.0</text>
<line x1="293.90" y1="282.40" x2="345.50" y2="282.40" stroke="#555" stroke-width="1.0"/>
<line x1="306.90" y1="282.60" x2="306.90" y2="284.20" stroke="#333" stroke-width="0.6"/>
<line x1="332.80" y1="282.60" x2="332.80" y2="284.20" stroke="#333" stroke-width="0.6"/>
<text transform="translate(283.00,255.20) rotate(-90)" font-size="5.3" text-anchor="middle" font-weight="bold" fill="#222">CD95<tspan font-size="3.7" dy="-1.7">+</tspan><tspan dy="1.7">GL7</tspan><tspan font-size="3.7" dy="-1.7">+</tspan><tspan dy="1.7"> Cells (%)</tspan></text>
<text x="306.90" y="290.20" font-size="5.8" text-anchor="middle" font-weight="normal" fill="#333" stroke="#333" stroke-width="0.1" >N.I</text>
<text x="332.80" y="290.20" font-size="5.8" text-anchor="middle" font-weight="normal" fill="#333" stroke="#333" stroke-width="0.1" >+NP-OVA</text>
<rect x="298.30" y="274.40" width="2.40" height="2.40" fill="#fff" stroke="#333" stroke-width="0.7"/>
<rect x="300.80" y="273.60" width="2.40" height="2.40" fill="#fff" stroke="#333" stroke-width="0.7"/>
<rect x="299.40" y="276.60" width="2.40" height="2.40" fill="#fff" stroke="#333" stroke-width="0.7"/>
<rect x="296.80" y="275.80" width="2.40" height="2.40" fill="#fff" stroke="#333" stroke-width="0.7"/>
<rect x="301.80" y="275.20" width="2.40" height="2.40" fill="#fff" stroke="#333" stroke-width="0.7"/>
<line x1="297.50" y1="276.60" x2="306.50" y2="276.60" stroke="#333" stroke-width="0.7"/>
<path d="M311.00,274.90 L312.70,276.60 L311.00,278.30 L309.30,276.60 Z" fill="#222"/>
<path d="M313.60,275.50 L315.30,277.20 L313.60,278.90 L311.90,277.20 Z" fill="#222"/>
<path d="M315.60,274.30 L317.30,276.00 L315.60,277.70 L313.90,276.00 Z" fill="#222"/>
<path d="M312.60,277.30 L314.30,279.00 L312.60,280.70 L310.90,279.00 Z" fill="#222"/>
<path d="M314.00,276.70 L315.70,278.40 L314.00,280.10 L312.30,278.40 Z" fill="#222"/>
<line x1="309.50" y1="277.40" x2="318.00" y2="277.40" stroke="#333" stroke-width="0.7"/>
<rect x="323.30" y="252.60" width="2.40" height="2.40" fill="#fff" stroke="#333" stroke-width="0.7"/>
<rect x="325.80" y="255.80" width="2.40" height="2.40" fill="#fff" stroke="#333" stroke-width="0.7"/>
<rect x="323.80" y="258.60" width="2.40" height="2.40" fill="#fff" stroke="#333" stroke-width="0.7"/>
<rect x="326.40" y="260.20" width="2.40" height="2.40" fill="#fff" stroke="#333" stroke-width="0.7"/>
<rect x="322.40" y="261.40" width="2.40" height="2.40" fill="#fff" stroke="#333" stroke-width="0.7"/>
<line x1="321.50" y1="258.80" x2="330.50" y2="258.80" stroke="#333" stroke-width="0.7"/>
<path d="M337.60,230.80 L339.40,232.60 L337.60,234.40 L335.80,232.60 Z" fill="#222"/>
<path d="M340.20,229.60 L342.00,231.40 L340.20,233.20 L338.40,231.40 Z" fill="#222"/>
<path d="M341.00,232.40 L342.80,234.20 L341.00,236.00 L339.20,234.20 Z" fill="#222"/>
<path d="M341.60,235.60 L343.40,237.40 L341.60,239.20 L339.80,237.40 Z" fill="#222"/>
<path d="M339.00,245.00 L340.80,246.80 L339.00,248.60 L337.20,246.80 Z" fill="#222"/>
<line x1="334.00" y1="236.90" x2="343.00" y2="236.90" stroke="#333" stroke-width="0.7"/>
<text x="331.60" y="225.60" font-size="6.5" text-anchor="middle" font-weight="normal" fill="#333" stroke="#333" stroke-width="0.1" >**</text>
<line x1="326.80" y1="227.40" x2="337.00" y2="227.40" stroke="#333" stroke-width="0.8"/>
<text x="362.60" y="8.00" font-size="14.5" text-anchor="start" font-weight="normal" fill="#111" stroke="#111" stroke-width="0.1" >c</text>
<text x="362.60" y="123.00" font-size="14.5" text-anchor="start" font-weight="normal" fill="#111" stroke="#111" stroke-width="0.1" >d</text>
<text x="437.00" y="17.00" font-size="8.4" text-anchor="middle" font-weight="normal" fill="#222" stroke="#222" stroke-width="0.1" >Global affinity</text>
<text x="570.20" y="17.00" font-size="8.4" text-anchor="middle" font-weight="normal" fill="#222" stroke="#222" stroke-width="0.1" >High affinity</text>
<line x1="402.90" y1="24.00" x2="402.90" y2="92.20" stroke="#7a7a7a" stroke-width="1.1"/>
<line x1="401.10" y1="24.40" x2="402.90" y2="24.40" stroke="#555" stroke-width="0.9"/>
<text x="400.40" y="26.67" font-size="6.4" text-anchor="end" font-weight="bold" fill="#444" >0.6</text>
<line x1="401.10" y1="47.00" x2="402.90" y2="47.00" stroke="#555" stroke-width="0.9"/>
<text x="400.40" y="49.27" font-size="6.4" text-anchor="end" font-weight="bold" fill="#444" >0.4</text>
<line x1="401.10" y1="69.60" x2="402.90" y2="69.60" stroke="#555" stroke-width="0.9"/>
<text x="400.40" y="71.87" font-size="6.4" text-anchor="end" font-weight="bold" fill="#444" >0.2</text>
<line x1="401.10" y1="92.20" x2="402.90" y2="92.20" stroke="#555" stroke-width="0.9"/>
<text x="400.40" y="94.47" font-size="6.4" text-anchor="end" font-weight="bold" fill="#444" >0.0</text>
<line x1="402.90" y1="92.20" x2="432.70" y2="92.20" stroke="#7a7a7a" stroke-width="1.1"/>
<line x1="410.20" y1="92.20" x2="410.20" y2="93.80" stroke="#555" stroke-width="0.8"/>
<line x1="425.00" y1="92.20" x2="425.00" y2="93.80" stroke="#555" stroke-width="0.8"/>
<line x1="410.20" y1="49.40" x2="410.20" y2="54.00" stroke="#333" stroke-width="0.9"/>
<line x1="407.80" y1="49.40" x2="412.60" y2="49.40" stroke="#333" stroke-width="0.9"/>
<rect x="405.25" y="54.45" width="9.90" height="37.75" fill="#fff" stroke="#333" stroke-width="0.9"/>
<line x1="425.00" y1="31.40" x2="425.00" y2="35.40" stroke="#333" stroke-width="0.9"/>
<line x1="422.60" y1="31.40" x2="427.40" y2="31.40" stroke="#333" stroke-width="0.9"/>
<rect x="419.90" y="35.40" width="10.20" height="56.80" fill="#231f20" stroke="none" stroke-width="1"/>
<text transform="translate(379.90,57.50) rotate(-90)" font-size="6.4" text-anchor="middle" font-weight="bold" fill="#2a2a2a">IgM</text>
<text transform="translate(387.30,57.05) rotate(-90)" font-size="6.3" text-anchor="middle" font-weight="bold" fill="#2a2a2a">(O.D. 450nm)</text>
<text x="417.50" y="26.00" font-size="6.5" text-anchor="middle" font-weight="normal" fill="#333" stroke="#333" stroke-width="0.1" >*</text>
<line x1="410.00" y1="27.20" x2="425.00" y2="27.20" stroke="#333" stroke-width="0.9"/>
<line x1="466.50" y1="28.00" x2="466.50" y2="92.20" stroke="#7a7a7a" stroke-width="1.1"/>
<line x1="464.70" y1="28.40" x2="466.50" y2="28.40" stroke="#555" stroke-width="0.9"/>
<text x="464.00" y="30.67" font-size="6.4" text-anchor="end" font-weight="bold" fill="#444" >0.6</text>
<line x1="464.70" y1="49.67" x2="466.50" y2="49.67" stroke="#555" stroke-width="0.9"/>
<text x="464.00" y="51.94" font-size="6.4" text-anchor="end" font-weight="bold" fill="#444" >0.4</text>
<line x1="464.70" y1="70.93" x2="466.50" y2="70.93" stroke="#555" stroke-width="0.9"/>
<text x="464.00" y="73.21" font-size="6.4" text-anchor="end" font-weight="bold" fill="#444" >0.2</text>
<line x1="464.70" y1="92.20" x2="466.50" y2="92.20" stroke="#555" stroke-width="0.9"/>
<text x="464.00" y="94.47" font-size="6.4" text-anchor="end" font-weight="bold" fill="#444" >0.0</text>
<line x1="466.50" y1="92.20" x2="494.40" y2="92.20" stroke="#7a7a7a" stroke-width="1.1"/>
<line x1="473.25" y1="92.20" x2="473.25" y2="93.80" stroke="#555" stroke-width="0.8"/>
<line x1="487.35" y1="92.20" x2="487.35" y2="93.80" stroke="#555" stroke-width="0.8"/>
<line x1="473.25" y1="59.60" x2="473.25" y2="63.60" stroke="#333" stroke-width="0.9"/>
<line x1="470.85" y1="59.60" x2="475.65" y2="59.60" stroke="#333" stroke-width="0.9"/>
<rect x="468.25" y="64.05" width="10.00" height="28.15" fill="#fff" stroke="#333" stroke-width="0.9"/>
<line x1="487.35" y1="31.40" x2="487.35" y2="33.80" stroke="#333" stroke-width="0.9"/>
<line x1="484.95" y1="31.40" x2="489.75" y2="31.40" stroke="#333" stroke-width="0.9"/>
<rect x="482.90" y="33.80" width="8.90" height="58.40" fill="#3e3e3e" stroke="none" stroke-width="1"/>
<text transform="translate(445.20,59.80) rotate(-90)" font-size="6.06" text-anchor="middle" font-weight="bold" fill="#2a2a2a">Total IgG</text>
<text transform="translate(451.30,59.55) rotate(-90)" font-size="6.0" text-anchor="middle" font-weight="bold" fill="#2a2a2a">(O.D. 450nm)</text>
<text x="480.60" y="27.00" font-size="6.5" text-anchor="middle" font-weight="normal" fill="#333" stroke="#333" stroke-width="0.1" >**</text>
<line x1="473.80" y1="29.10" x2="489.00" y2="29.10" stroke="#333" stroke-width="0.9"/>
<line x1="536.60" y1="30.20" x2="536.60" y2="92.20" stroke="#7a7a7a" stroke-width="1.1"/>
<line x1="534.80" y1="30.60" x2="536.60" y2="30.60" stroke="#555" stroke-width="0.9"/>
<text x="534.10" y="32.87" font-size="6.4" text-anchor="end" font-weight="bold" fill="#444" >0.4</text>
<line x1="534.80" y1="46.00" x2="536.60" y2="46.00" stroke="#555" stroke-width="0.9"/>
<text x="534.10" y="48.27" font-size="6.4" text-anchor="end" font-weight="bold" fill="#444" >0.3</text>
<line x1="534.80" y1="61.40" x2="536.60" y2="61.40" stroke="#555" stroke-width="0.9"/>
<text x="534.10" y="63.67" font-size="6.4" text-anchor="end" font-weight="bold" fill="#444" >0.2</text>
<line x1="534.80" y1="76.80" x2="536.60" y2="76.80" stroke="#555" stroke-width="0.9"/>
<text x="534.10" y="79.07" font-size="6.4" text-anchor="end" font-weight="bold" fill="#444" >0.1</text>
<line x1="534.80" y1="92.20" x2="536.60" y2="92.20" stroke="#555" stroke-width="0.9"/>
<text x="534.10" y="94.47" font-size="6.4" text-anchor="end" font-weight="bold" fill="#444" >0.0</text>
<line x1="536.60" y1="92.20" x2="563.00" y2="92.20" stroke="#7a7a7a" stroke-width="1.1"/>
<line x1="542.85" y1="92.20" x2="542.85" y2="93.80" stroke="#555" stroke-width="0.8"/>
<line x1="556.30" y1="92.20" x2="556.30" y2="93.80" stroke="#555" stroke-width="0.8"/>
<line x1="542.85" y1="66.60" x2="542.85" y2="69.90" stroke="#333" stroke-width="0.9"/>
<line x1="540.45" y1="66.60" x2="545.25" y2="66.60" stroke="#333" stroke-width="0.9"/>
<rect x="538.15" y="70.35" width="9.40" height="21.85" fill="#fff" stroke="#333" stroke-width="0.9"/>
<line x1="556.30" y1="34.80" x2="556.30" y2="45.00" stroke="#333" stroke-width="0.9"/>
<line x1="553.90" y1="34.80" x2="558.70" y2="34.80" stroke="#333" stroke-width="0.9"/>
<rect x="551.90" y="45.00" width="8.80" height="47.20" fill="#3e3e3e" stroke="none" stroke-width="1"/>
<text transform="translate(515.90,60.80) rotate(-90)" font-size="6.3" text-anchor="middle" font-weight="normal" fill="#2a2a2a" stroke="#2a2a2a" stroke-width="0.1">IgM</text>
<text transform="translate(522.30,60.80) rotate(-90)" font-size="5.9" text-anchor="middle" font-weight="normal" fill="#2a2a2a" stroke="#2a2a2a" stroke-width="0.1">(O.D. 450nm)</text>
<text x="549.90" y="27.00" font-size="6.5" text-anchor="middle" font-weight="normal" fill="#333" stroke="#333" stroke-width="0.1" >**</text>
<line x1="543.00" y1="29.70" x2="556.60" y2="29.70" stroke="#333" stroke-width="0.9"/>
<line x1="599.30" y1="25.20" x2="599.30" y2="89.90" stroke="#7a7a7a" stroke-width="1.1"/>
<line x1="597.50" y1="25.60" x2="599.30" y2="25.60" stroke="#555" stroke-width="0.9"/>
<text x="596.80" y="27.87" font-size="6.4" text-anchor="end" font-weight="bold" fill="#444" >0.3</text>
<line x1="597.50" y1="47.03" x2="599.30" y2="47.03" stroke="#555" stroke-width="0.9"/>
<text x="596.80" y="49.31" font-size="6.4" text-anchor="end" font-weight="bold" fill="#444" >0.2</text>
<line x1="597.50" y1="68.47" x2="599.30" y2="68.47" stroke="#555" stroke-width="0.9"/>
<text x="596.80" y="70.74" font-size="6.4" text-anchor="end" font-weight="bold" fill="#444" >0.1</text>
<line x1="597.50" y1="89.90" x2="599.30" y2="89.90" stroke="#555" stroke-width="0.9"/>
<text x="596.80" y="92.17" font-size="6.4" text-anchor="end" font-weight="bold" fill="#444" >0.0</text>
<line x1="599.30" y1="89.90" x2="627.70" y2="89.90" stroke="#7a7a7a" stroke-width="1.1"/>
<line x1="606.50" y1="89.90" x2="606.50" y2="91.50" stroke="#555" stroke-width="0.8"/>
<line x1="620.25" y1="89.90" x2="620.25" y2="91.50" stroke="#555" stroke-width="0.8"/>
<line x1="606.50" y1="67.20" x2="606.50" y2="70.40" stroke="#333" stroke-width="0.9"/>
<line x1="604.10" y1="67.20" x2="608.90" y2="67.20" stroke="#333" stroke-width="0.9"/>
<rect x="601.55" y="70.85" width="9.90" height="19.05" fill="#fff" stroke="#333" stroke-width="0.9"/>
<line x1="620.25" y1="37.10" x2="620.25" y2="51.60" stroke="#333" stroke-width="0.9"/>
<line x1="617.85" y1="37.10" x2="622.65" y2="37.10" stroke="#333" stroke-width="0.9"/>
<rect x="615.40" y="51.60" width="9.70" height="38.30" fill="#3e3e3e" stroke="none" stroke-width="1"/>
<text transform="translate(578.00,57.20) rotate(-90)" font-size="6.5" text-anchor="middle" font-weight="normal" fill="#2a2a2a" stroke="#2a2a2a" stroke-width="0.1">Total IgG</text>
<text transform="translate(585.00,57.20) rotate(-90)" font-size="6.1" text-anchor="middle" font-weight="normal" fill="#2a2a2a" stroke="#2a2a2a" stroke-width="0.1">(O.D. 450nm)</text>
<text x="612.70" y="26.20" font-size="6.5" text-anchor="middle" font-weight="normal" fill="#333" stroke="#333" stroke-width="0.1" >*</text>
<line x1="606.00" y1="28.70" x2="619.50" y2="28.70" stroke="#333" stroke-width="0.9"/>
<rect x="633.90" y="28.10" width="6.40" height="4.40" fill="#fff" stroke="#333" stroke-width="0.8"/>
<rect x="633.30" y="33.80" width="7.60" height="5.20" fill="#3e3e3e" stroke="none" stroke-width="1"/>
<text x="644.50" y="32.50" font-size="6.3" text-anchor="start" font-weight="normal" fill="#333" stroke="#333" stroke-width="0.1" >WT</text>
<text x="644.50" y="38.60" font-size="6.3" text-anchor="start" font-weight="normal" fill="#333" stroke="#333" stroke-width="0.1" >CD4-ERα KO</text>
<text transform="translate(373.00,166.50) rotate(-90)" font-size="8.4" text-anchor="middle" font-weight="normal" fill="#222" stroke="#222" stroke-width="0.1">Global affinity</text>
<text transform="translate(373.00,259.00) rotate(-90)" font-size="8.4" text-anchor="middle" font-weight="normal" fill="#222" stroke="#222" stroke-width="0.1">High affinity</text>
<line x1="406.40" y1="128.90" x2="406.40" y2="197.20" stroke="#7a7a7a" stroke-width="1.1"/>
<line x1="404.60" y1="129.30" x2="406.40" y2="129.30" stroke="#555" stroke-width="0.9"/>
<text x="403.90" y="131.57" font-size="6.4" text-anchor="end" font-weight="bold" fill="#444" >0.8</text>
<line x1="404.60" y1="146.28" x2="406.40" y2="146.28" stroke="#555" stroke-width="0.9"/>
<text x="403.90" y="148.55" font-size="6.4" text-anchor="end" font-weight="bold" fill="#444" >0.6</text>
<line x1="404.60" y1="163.25" x2="406.40" y2="163.25" stroke="#555" stroke-width="0.9"/>
<text x="403.90" y="165.52" font-size="6.4" text-anchor="end" font-weight="bold" fill="#444" >0.4</text>
<line x1="404.60" y1="180.22" x2="406.40" y2="180.22" stroke="#555" stroke-width="0.9"/>
<text x="403.90" y="182.50" font-size="6.4" text-anchor="end" font-weight="bold" fill="#444" >0.2</text>
<line x1="404.60" y1="197.20" x2="406.40" y2="197.20" stroke="#555" stroke-width="0.9"/>
<text x="403.90" y="199.47" font-size="6.4" text-anchor="end" font-weight="bold" fill="#444" >0.0</text>
<line x1="406.40" y1="197.20" x2="436.00" y2="197.20" stroke="#7a7a7a" stroke-width="1.1"/>
<line x1="414.25" y1="197.20" x2="414.25" y2="198.80" stroke="#555" stroke-width="0.8"/>
<line x1="428.65" y1="197.20" x2="428.65" y2="198.80" stroke="#555" stroke-width="0.8"/>
<line x1="414.25" y1="166.90" x2="414.25" y2="171.00" stroke="#333" stroke-width="0.9"/>
<line x1="411.85" y1="166.90" x2="416.65" y2="166.90" stroke="#333" stroke-width="0.9"/>
<rect x="409.45" y="171.45" width="9.60" height="25.75" fill="#fff" stroke="#333" stroke-width="0.9"/>
<line x1="428.65" y1="144.60" x2="428.65" y2="148.30" stroke="#333" stroke-width="0.9"/>
<line x1="426.25" y1="144.60" x2="431.05" y2="144.60" stroke="#333" stroke-width="0.9"/>
<rect x="423.60" y="148.30" width="10.10" height="48.90" fill="#231f20" stroke="none" stroke-width="1"/>
<text transform="translate(384.20,162.50) rotate(-90)" font-size="6.5" text-anchor="middle" font-weight="bold" fill="#2a2a2a">IgG1</text>
<text transform="translate(390.30,162.35) rotate(-90)" font-size="6.4" text-anchor="middle" font-weight="bold" fill="#2a2a2a">(O.D. 450nm)</text>
<text x="421.60" y="137.00" font-size="6.5" text-anchor="middle" font-weight="normal" fill="#333" stroke="#333" stroke-width="0.1" >*</text>
<line x1="414.00" y1="139.00" x2="429.40" y2="139.00" stroke="#333" stroke-width="0.9"/>
<line x1="468.40" y1="131.90" x2="468.40" y2="197.70" stroke="#7a7a7a" stroke-width="1.1"/>
<line x1="466.60" y1="132.30" x2="468.40" y2="132.30" stroke="#555" stroke-width="0.9"/>
<text x="465.90" y="134.57" font-size="6.4" text-anchor="end" font-weight="bold" fill="#444" >0.4</text>
<line x1="466.60" y1="148.65" x2="468.40" y2="148.65" stroke="#555" stroke-width="0.9"/>
<text x="465.90" y="150.92" font-size="6.4" text-anchor="end" font-weight="bold" fill="#444" >0.3</text>
<line x1="466.60" y1="165.00" x2="468.40" y2="165.00" stroke="#555" stroke-width="0.9"/>
<text x="465.90" y="167.27" font-size="6.4" text-anchor="end" font-weight="bold" fill="#444" >0.2</text>
<line x1="466.60" y1="181.35" x2="468.40" y2="181.35" stroke="#555" stroke-width="0.9"/>
<text x="465.90" y="183.62" font-size="6.4" text-anchor="end" font-weight="bold" fill="#444" >0.1</text>
<line x1="466.60" y1="197.70" x2="468.40" y2="197.70" stroke="#555" stroke-width="0.9"/>
<text x="465.90" y="199.97" font-size="6.4" text-anchor="end" font-weight="bold" fill="#444" >0.0</text>
<line x1="468.40" y1="197.70" x2="496.80" y2="197.70" stroke="#7a7a7a" stroke-width="1.1"/>
<line x1="475.05" y1="197.70" x2="475.05" y2="199.30" stroke="#555" stroke-width="0.8"/>
<line x1="489.95" y1="197.70" x2="489.95" y2="199.30" stroke="#555" stroke-width="0.8"/>
<line x1="475.05" y1="167.50" x2="475.05" y2="175.00" stroke="#333" stroke-width="0.9"/>
<line x1="472.65" y1="167.50" x2="477.45" y2="167.50" stroke="#333" stroke-width="0.9"/>
<rect x="470.25" y="175.45" width="9.60" height="22.25" fill="#fff" stroke="#333" stroke-width="0.9"/>
<line x1="489.95" y1="167.50" x2="489.95" y2="171.60" stroke="#333" stroke-width="0.9"/>
<line x1="487.55" y1="167.50" x2="492.35" y2="167.50" stroke="#333" stroke-width="0.9"/>
<rect x="485.20" y="171.60" width="9.50" height="26.10" fill="#231f20" stroke="none" stroke-width="1"/>
<text transform="translate(445.90,163.50) rotate(-90)" font-size="6.4" text-anchor="middle" font-weight="bold" fill="#2a2a2a">IgG2b</text>
<text transform="translate(453.40,164.10) rotate(-90)" font-size="6.2" text-anchor="middle" font-weight="bold" fill="#2a2a2a">(O.D. 450nm)</text>
<line x1="531.30" y1="130.80" x2="531.30" y2="197.20" stroke="#7a7a7a" stroke-width="1.1"/>
<line x1="529.50" y1="131.20" x2="531.30" y2="131.20" stroke="#555" stroke-width="0.9"/>
<text x="528.80" y="133.47" font-size="6.4" text-anchor="end" font-weight="bold" fill="#444" >0.5</text>
<line x1="529.50" y1="144.40" x2="531.30" y2="144.40" stroke="#555" stroke-width="0.9"/>
<text x="528.80" y="146.67" font-size="6.4" text-anchor="end" font-weight="bold" fill="#444" >0.4</text>
<line x1="529.50" y1="157.60" x2="531.30" y2="157.60" stroke="#555" stroke-width="0.9"/>
<text x="528.80" y="159.87" font-size="6.4" text-anchor="end" font-weight="bold" fill="#444" >0.3</text>
<line x1="529.50" y1="170.80" x2="531.30" y2="170.80" stroke="#555" stroke-width="0.9"/>
<text x="528.80" y="173.07" font-size="6.4" text-anchor="end" font-weight="bold" fill="#444" >0.2</text>
<line x1="529.50" y1="184.00" x2="531.30" y2="184.00" stroke="#555" stroke-width="0.9"/>
<text x="528.80" y="186.27" font-size="6.4" text-anchor="end" font-weight="bold" fill="#444" >0.1</text>
<line x1="529.50" y1="197.20" x2="531.30" y2="197.20" stroke="#555" stroke-width="0.9"/>
<text x="528.80" y="199.47" font-size="6.4" text-anchor="end" font-weight="bold" fill="#444" >0.0</text>
<line x1="531.30" y1="197.20" x2="560.00" y2="197.20" stroke="#7a7a7a" stroke-width="1.1"/>
<line x1="538.55" y1="197.20" x2="538.55" y2="198.80" stroke="#555" stroke-width="0.8"/>
<line x1="552.95" y1="197.20" x2="552.95" y2="198.80" stroke="#555" stroke-width="0.8"/>
<line x1="538.55" y1="146.20" x2="538.55" y2="150.60" stroke="#333" stroke-width="0.9"/>
<line x1="536.15" y1="146.20" x2="540.95" y2="146.20" stroke="#333" stroke-width="0.9"/>
<rect x="533.55" y="151.05" width="10.00" height="46.15" fill="#fff" stroke="#333" stroke-width="0.9"/>
<line x1="552.95" y1="143.10" x2="552.95" y2="150.00" stroke="#333" stroke-width="0.9"/>
<line x1="550.55" y1="143.10" x2="555.35" y2="143.10" stroke="#333" stroke-width="0.9"/>
<rect x="548.10" y="150.00" width="9.70" height="47.20" fill="#3e3e3e" stroke="none" stroke-width="1"/>
<text transform="translate(509.60,163.20) rotate(-90)" font-size="6.2" text-anchor="middle" font-weight="normal" fill="#2a2a2a" stroke="#2a2a2a" stroke-width="0.1">IgG2c</text>
<text transform="translate(516.30,163.50) rotate(-90)" font-size="6.4" text-anchor="middle" font-weight="normal" fill="#2a2a2a" stroke="#2a2a2a" stroke-width="0.1">(O.D. 450nm)</text>
<line x1="599.70" y1="131.70" x2="599.70" y2="197.50" stroke="#7a7a7a" stroke-width="1.1"/>
<line x1="597.90" y1="132.10" x2="599.70" y2="132.10" stroke="#555" stroke-width="0.9"/>
<text x="597.20" y="134.37" font-size="6.4" text-anchor="end" font-weight="bold" fill="#444" >0.6</text>
<line x1="597.90" y1="153.90" x2="599.70" y2="153.90" stroke="#555" stroke-width="0.9"/>
<text x="597.20" y="156.17" font-size="6.4" text-anchor="end" font-weight="bold" fill="#444" >0.4</text>
<line x1="597.90" y1="175.70" x2="599.70" y2="175.70" stroke="#555" stroke-width="0.9"/>
<text x="597.20" y="177.97" font-size="6.4" text-anchor="end" font-weight="bold" fill="#444" >0.2</text>
<line x1="597.90" y1="197.50" x2="599.70" y2="197.50" stroke="#555" stroke-width="0.9"/>
<text x="597.20" y="199.77" font-size="6.4" text-anchor="end" font-weight="bold" fill="#444" >0.0</text>
<line x1="599.70" y1="197.50" x2="629.00" y2="197.50" stroke="#7a7a7a" stroke-width="1.1"/>
<line x1="607.05" y1="197.50" x2="607.05" y2="199.10" stroke="#555" stroke-width="0.8"/>
<line x1="621.30" y1="197.50" x2="621.30" y2="199.10" stroke="#555" stroke-width="0.8"/>
<line x1="607.05" y1="148.90" x2="607.05" y2="158.30" stroke="#333" stroke-width="0.9"/>
<line x1="604.65" y1="148.90" x2="609.45" y2="148.90" stroke="#333" stroke-width="0.9"/>
<rect x="602.25" y="158.75" width="9.60" height="38.75" fill="#fff" stroke="#333" stroke-width="0.9"/>
<line x1="621.30" y1="146.50" x2="621.30" y2="149.90" stroke="#333" stroke-width="0.9"/>
<line x1="618.90" y1="146.50" x2="623.70" y2="146.50" stroke="#333" stroke-width="0.9"/>
<rect x="616.90" y="149.90" width="8.80" height="47.60" fill="#231f20" stroke="none" stroke-width="1"/>
<text transform="translate(577.30,164.10) rotate(-90)" font-size="5.9" text-anchor="middle" font-weight="bold" fill="#2a2a2a">IgG3</text>
<text transform="translate(584.60,163.60) rotate(-90)" font-size="6.1" text-anchor="middle" font-weight="bold" fill="#2a2a2a">(O.D. 450nm)</text>
<rect x="635.80" y="135.10" width="6.40" height="4.20" fill="#fff" stroke="#333" stroke-width="0.8"/>
<rect x="635.20" y="142.20" width="7.60" height="5.20" fill="#231f20" stroke="none" stroke-width="1"/>
<text x="646.60" y="139.30" font-size="6.5" text-anchor="start" font-weight="normal" fill="#333" stroke="#333" stroke-width="0.1" >WT</text>
<text x="646.60" y="147.00" font-size="6.5" text-anchor="start" font-weight="normal" fill="#333" stroke="#333" stroke-width="0.1" >CD4-ERα KO</text>
<line x1="409.00" y1="227.90" x2="409.00" y2="290.20" stroke="#7a7a7a" stroke-width="1.1"/>
<line x1="407.20" y1="228.30" x2="409.00" y2="228.30" stroke="#555" stroke-width="0.9"/>
<text x="406.50" y="230.57" font-size="6.4" text-anchor="end" font-weight="bold" fill="#444" >1.0</text>
<line x1="407.20" y1="240.68" x2="409.00" y2="240.68" stroke="#555" stroke-width="0.9"/>
<text x="406.50" y="242.95" font-size="6.4" text-anchor="end" font-weight="bold" fill="#444" >0.8</text>
<line x1="407.20" y1="253.06" x2="409.00" y2="253.06" stroke="#555" stroke-width="0.9"/>
<text x="406.50" y="255.33" font-size="6.4" text-anchor="end" font-weight="bold" fill="#444" >0.6</text>
<line x1="407.20" y1="265.44" x2="409.00" y2="265.44" stroke="#555" stroke-width="0.9"/>
<text x="406.50" y="267.71" font-size="6.4" text-anchor="end" font-weight="bold" fill="#444" >0.4</text>
<line x1="407.20" y1="277.82" x2="409.00" y2="277.82" stroke="#555" stroke-width="0.9"/>
<text x="406.50" y="280.09" font-size="6.4" text-anchor="end" font-weight="bold" fill="#444" >0.2</text>
<line x1="407.20" y1="290.20" x2="409.00" y2="290.20" stroke="#555" stroke-width="0.9"/>
<text x="406.50" y="292.47" font-size="6.4" text-anchor="end" font-weight="bold" fill="#444" >0.0</text>
<line x1="409.00" y1="290.20" x2="434.70" y2="290.20" stroke="#7a7a7a" stroke-width="1.1"/>
<line x1="415.45" y1="290.20" x2="415.45" y2="291.80" stroke="#555" stroke-width="0.8"/>
<line x1="428.50" y1="290.20" x2="428.50" y2="291.80" stroke="#555" stroke-width="0.8"/>
<line x1="415.45" y1="263.10" x2="415.45" y2="269.20" stroke="#333" stroke-width="0.9"/>
<line x1="413.05" y1="263.10" x2="417.85" y2="263.10" stroke="#333" stroke-width="0.9"/>
<rect x="411.55" y="269.65" width="7.80" height="20.55" fill="#fff" stroke="#333" stroke-width="0.9"/>
<line x1="428.50" y1="230.10" x2="428.50" y2="241.50" stroke="#333" stroke-width="0.9"/>
<line x1="426.10" y1="230.10" x2="430.90" y2="230.10" stroke="#333" stroke-width="0.9"/>
<rect x="423.90" y="241.50" width="9.20" height="48.70" fill="#3e3e3e" stroke="none" stroke-width="1"/>
<text transform="translate(388.20,259.10) rotate(-90)" font-size="5.6" text-anchor="middle" font-weight="normal" fill="#2a2a2a" stroke="#2a2a2a" stroke-width="0.1">IgG1</text>
<text transform="translate(394.70,258.80) rotate(-90)" font-size="5.9" text-anchor="middle" font-weight="normal" fill="#2a2a2a" stroke="#2a2a2a" stroke-width="0.1">(O.D. 450nm)</text>
<text x="421.50" y="225.40" font-size="6.5" text-anchor="middle" font-weight="normal" fill="#333" stroke="#333" stroke-width="0.1" >**</text>
<line x1="415.00" y1="226.50" x2="428.80" y2="226.50" stroke="#333" stroke-width="0.9"/>
<line x1="470.30" y1="223.80" x2="470.30" y2="288.50" stroke="#7a7a7a" stroke-width="1.1"/>
<line x1="468.50" y1="224.20" x2="470.30" y2="224.20" stroke="#555" stroke-width="0.9"/>
<text x="467.80" y="226.47" font-size="6.4" text-anchor="end" font-weight="bold" fill="#444" >1.5</text>
<line x1="468.50" y1="245.63" x2="470.30" y2="245.63" stroke="#555" stroke-width="0.9"/>
<text x="467.80" y="247.91" font-size="6.4" text-anchor="end" font-weight="bold" fill="#444" >1.0</text>
<line x1="468.50" y1="267.07" x2="470.30" y2="267.07" stroke="#555" stroke-width="0.9"/>
<text x="467.80" y="269.34" font-size="6.4" text-anchor="end" font-weight="bold" fill="#444" >0.5</text>
<line x1="468.50" y1="288.50" x2="470.30" y2="288.50" stroke="#555" stroke-width="0.9"/>
<text x="467.80" y="290.77" font-size="6.4" text-anchor="end" font-weight="bold" fill="#444" >0.0</text>
<line x1="470.30" y1="288.50" x2="497.70" y2="288.50" stroke="#7a7a7a" stroke-width="1.1"/>
<line x1="477.00" y1="288.50" x2="477.00" y2="290.10" stroke="#555" stroke-width="0.8"/>
<line x1="490.80" y1="288.50" x2="490.80" y2="290.10" stroke="#555" stroke-width="0.8"/>
<line x1="477.00" y1="252.50" x2="477.00" y2="259.00" stroke="#333" stroke-width="0.9"/>
<line x1="474.60" y1="252.50" x2="479.40" y2="252.50" stroke="#333" stroke-width="0.9"/>
<rect x="472.45" y="259.45" width="9.10" height="29.05" fill="#fff" stroke="#333" stroke-width="0.9"/>
<line x1="490.80" y1="243.10" x2="490.80" y2="249.60" stroke="#333" stroke-width="0.9"/>
<line x1="488.40" y1="243.10" x2="493.20" y2="243.10" stroke="#333" stroke-width="0.9"/>
<rect x="486.20" y="249.60" width="9.20" height="38.90" fill="#3e3e3e" stroke="none" stroke-width="1"/>
<text transform="translate(448.50,255.40) rotate(-90)" font-size="5.8" text-anchor="middle" font-weight="bold" fill="#2a2a2a">IgG2b</text>
<text transform="translate(455.30,255.70) rotate(-90)" font-size="6.0" text-anchor="middle" font-weight="bold" fill="#2a2a2a">(O.D. 450nm)</text>
<text x="484.70" y="236.40" font-size="6.5" text-anchor="middle" font-weight="normal" fill="#333" stroke="#333" stroke-width="0.1" >*</text>
<line x1="477.50" y1="238.90" x2="491.10" y2="238.90" stroke="#333" stroke-width="0.9"/>
<line x1="538.00" y1="223.90" x2="538.00" y2="288.50" stroke="#7a7a7a" stroke-width="1.1"/>
<line x1="536.20" y1="224.30" x2="538.00" y2="224.30" stroke="#555" stroke-width="0.9"/>
<text x="535.50" y="226.50" font-size="6.2" text-anchor="end" font-weight="bold" fill="#444" >0.25</text>
<line x1="536.20" y1="237.14" x2="538.00" y2="237.14" stroke="#555" stroke-width="0.9"/>
<text x="535.50" y="239.34" font-size="6.2" text-anchor="end" font-weight="bold" fill="#444" >0.20</text>
<line x1="536.20" y1="249.98" x2="538.00" y2="249.98" stroke="#555" stroke-width="0.9"/>
<text x="535.50" y="252.18" font-size="6.2" text-anchor="end" font-weight="bold" fill="#444" >0.15</text>
<line x1="536.20" y1="262.82" x2="538.00" y2="262.82" stroke="#555" stroke-width="0.9"/>
<text x="535.50" y="265.02" font-size="6.2" text-anchor="end" font-weight="bold" fill="#444" >0.10</text>
<line x1="536.20" y1="275.66" x2="538.00" y2="275.66" stroke="#555" stroke-width="0.9"/>
<text x="535.50" y="277.86" font-size="6.2" text-anchor="end" font-weight="bold" fill="#444" >0.05</text>
<line x1="536.20" y1="288.50" x2="538.00" y2="288.50" stroke="#555" stroke-width="0.9"/>
<text x="535.50" y="290.70" font-size="6.2" text-anchor="end" font-weight="bold" fill="#444" >0.00</text>
<line x1="538.00" y1="288.50" x2="565.00" y2="288.50" stroke="#7a7a7a" stroke-width="1.1"/>
<line x1="544.90" y1="288.50" x2="544.90" y2="290.10" stroke="#555" stroke-width="0.8"/>
<line x1="557.95" y1="288.50" x2="557.95" y2="290.10" stroke="#555" stroke-width="0.8"/>
<line x1="544.90" y1="232.50" x2="544.90" y2="238.00" stroke="#333" stroke-width="0.9"/>
<line x1="542.50" y1="232.50" x2="547.30" y2="232.50" stroke="#333" stroke-width="0.9"/>
<rect x="540.15" y="238.45" width="9.50" height="50.05" fill="#fff" stroke="#333" stroke-width="0.9"/>
<line x1="557.95" y1="235.70" x2="557.95" y2="239.00" stroke="#333" stroke-width="0.9"/>
<line x1="555.55" y1="235.70" x2="560.35" y2="235.70" stroke="#333" stroke-width="0.9"/>
<rect x="553.20" y="239.00" width="9.50" height="49.50" fill="#3e3e3e" stroke="none" stroke-width="1"/>
<text transform="translate(513.00,255.80) rotate(-90)" font-size="5.9" text-anchor="middle" font-weight="normal" fill="#2a2a2a" stroke="#2a2a2a" stroke-width="0.1">IgG2c</text>
<text transform="translate(519.70,255.90) rotate(-90)" font-size="6.1" text-anchor="middle" font-weight="normal" fill="#2a2a2a" stroke="#2a2a2a" stroke-width="0.1">(O.D. 450nm)</text>
<line x1="600.30" y1="225.00" x2="600.30" y2="289.90" stroke="#7a7a7a" stroke-width="1.1"/>
<line x1="598.50" y1="225.40" x2="600.30" y2="225.40" stroke="#555" stroke-width="0.9"/>
<text x="597.80" y="227.67" font-size="6.4" text-anchor="end" font-weight="bold" fill="#444" >0.6</text>
<line x1="598.50" y1="246.90" x2="600.30" y2="246.90" stroke="#555" stroke-width="0.9"/>
<text x="597.80" y="249.17" font-size="6.4" text-anchor="end" font-weight="bold" fill="#444" >0.4</text>
<line x1="598.50" y1="268.40" x2="600.30" y2="268.40" stroke="#555" stroke-width="0.9"/>
<text x="597.80" y="270.67" font-size="6.4" text-anchor="end" font-weight="bold" fill="#444" >0.2</text>
<line x1="598.50" y1="289.90" x2="600.30" y2="289.90" stroke="#555" stroke-width="0.9"/>
<text x="597.80" y="292.17" font-size="6.4" text-anchor="end" font-weight="bold" fill="#444" >0.0</text>
<line x1="600.30" y1="289.90" x2="628.40" y2="289.90" stroke="#7a7a7a" stroke-width="1.1"/>
<line x1="607.35" y1="289.90" x2="607.35" y2="291.50" stroke="#555" stroke-width="0.8"/>
<line x1="621.15" y1="289.90" x2="621.15" y2="291.50" stroke="#555" stroke-width="0.8"/>
<line x1="607.35" y1="265.00" x2="607.35" y2="271.40" stroke="#333" stroke-width="0.9"/>
<line x1="604.95" y1="265.00" x2="609.75" y2="265.00" stroke="#333" stroke-width="0.9"/>
<rect x="602.55" y="271.85" width="9.60" height="18.05" fill="#fff" stroke="#333" stroke-width="0.9"/>
<line x1="621.15" y1="234.70" x2="621.15" y2="251.00" stroke="#333" stroke-width="0.9"/>
<line x1="618.75" y1="234.70" x2="623.55" y2="234.70" stroke="#333" stroke-width="0.9"/>
<rect x="616.20" y="251.00" width="9.90" height="38.90" fill="#3e3e3e" stroke="none" stroke-width="1"/>
<text transform="translate(578.20,257.10) rotate(-90)" font-size="6.1" text-anchor="middle" font-weight="normal" fill="#2a2a2a" stroke="#2a2a2a" stroke-width="0.1">IgG3</text>
<text transform="translate(586.00,256.90) rotate(-90)" font-size="6.1" text-anchor="middle" font-weight="normal" fill="#2a2a2a" stroke="#2a2a2a" stroke-width="0.1">(O.D. 450nm)</text>
<text x="614.20" y="226.00" font-size="6.5" text-anchor="middle" font-weight="normal" fill="#333" stroke="#333" stroke-width="0.1" >*</text>
<line x1="607.10" y1="228.60" x2="620.70" y2="228.60" stroke="#333" stroke-width="0.9"/>
</svg>
</body></html>
